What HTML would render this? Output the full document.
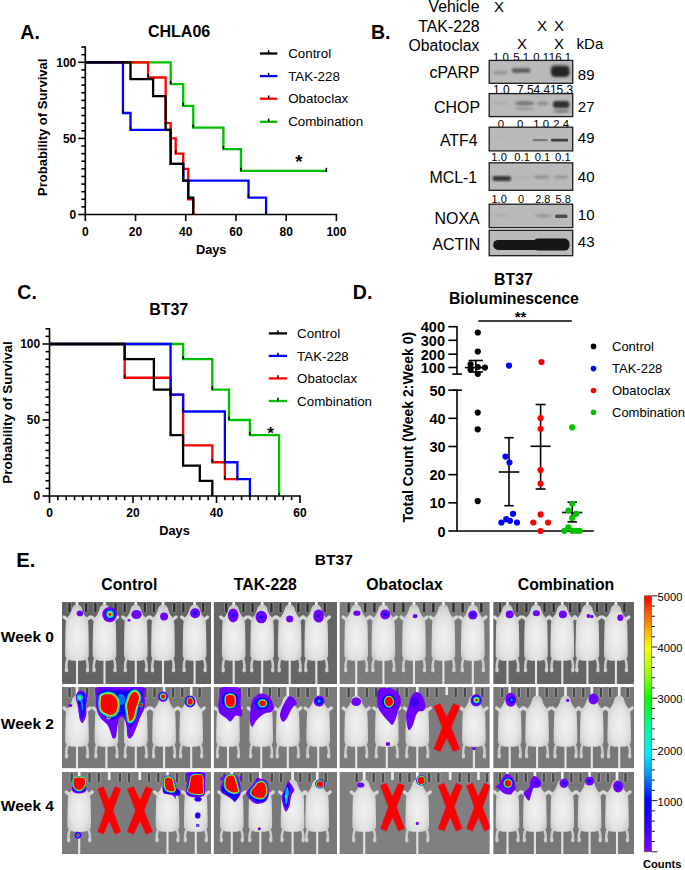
<!DOCTYPE html>
<html><head><meta charset="utf-8"><title>Figure</title>
<style>
html,body{margin:0;padding:0;background:#fff;}
body{width:685px;height:870px;overflow:hidden;}
svg{display:block;}
text{font-family:"Liberation Sans", sans-serif;fill:#000;}
</style></head><body>
<svg width="685" height="870" viewBox="0 0 685 870">
<rect width="685" height="870" fill="#fff"/>
<text x="20.3" y="38.9" font-size="19.5" font-weight="bold">A.</text>
<text x="179.1" y="36.5" font-size="16" font-weight="bold" text-anchor="middle">CHLA06</text>
<line x1="85.3" y1="46.28" x2="85.3" y2="215.3" stroke="#000" stroke-width="1.6"/>
<line x1="78.3" y1="214.5" x2="85.3" y2="214.5" stroke="#000" stroke-width="1.6"/>
<line x1="81.3" y1="206.89" x2="85.3" y2="206.89" stroke="#000" stroke-width="1.6"/>
<line x1="81.3" y1="199.28" x2="85.3" y2="199.28" stroke="#000" stroke-width="1.6"/>
<line x1="81.3" y1="191.67" x2="85.3" y2="191.67" stroke="#000" stroke-width="1.6"/>
<line x1="81.3" y1="184.06" x2="85.3" y2="184.06" stroke="#000" stroke-width="1.6"/>
<line x1="81.3" y1="176.45" x2="85.3" y2="176.45" stroke="#000" stroke-width="1.6"/>
<line x1="81.3" y1="168.84" x2="85.3" y2="168.84" stroke="#000" stroke-width="1.6"/>
<line x1="81.3" y1="161.23" x2="85.3" y2="161.23" stroke="#000" stroke-width="1.6"/>
<line x1="81.3" y1="153.62" x2="85.3" y2="153.62" stroke="#000" stroke-width="1.6"/>
<line x1="81.3" y1="146.01" x2="85.3" y2="146.01" stroke="#000" stroke-width="1.6"/>
<line x1="78.3" y1="138.4" x2="85.3" y2="138.4" stroke="#000" stroke-width="1.6"/>
<line x1="81.3" y1="130.79" x2="85.3" y2="130.79" stroke="#000" stroke-width="1.6"/>
<line x1="81.3" y1="123.18" x2="85.3" y2="123.18" stroke="#000" stroke-width="1.6"/>
<line x1="81.3" y1="115.57" x2="85.3" y2="115.57" stroke="#000" stroke-width="1.6"/>
<line x1="81.3" y1="107.96" x2="85.3" y2="107.96" stroke="#000" stroke-width="1.6"/>
<line x1="81.3" y1="100.35" x2="85.3" y2="100.35" stroke="#000" stroke-width="1.6"/>
<line x1="81.3" y1="92.74" x2="85.3" y2="92.74" stroke="#000" stroke-width="1.6"/>
<line x1="81.3" y1="85.13" x2="85.3" y2="85.13" stroke="#000" stroke-width="1.6"/>
<line x1="81.3" y1="77.52" x2="85.3" y2="77.52" stroke="#000" stroke-width="1.6"/>
<line x1="81.3" y1="69.91" x2="85.3" y2="69.91" stroke="#000" stroke-width="1.6"/>
<line x1="78.3" y1="62.3" x2="85.3" y2="62.3" stroke="#000" stroke-width="1.6"/>
<line x1="81.3" y1="54.69" x2="85.3" y2="54.69" stroke="#000" stroke-width="1.6"/>
<line x1="81.3" y1="47.08" x2="85.3" y2="47.08" stroke="#000" stroke-width="1.6"/>
<text x="76.3" y="218.8" font-size="12" font-weight="bold" text-anchor="end">0</text>
<text x="76.3" y="142.7" font-size="12" font-weight="bold" text-anchor="end">50</text>
<text x="76.3" y="66.6" font-size="12" font-weight="bold" text-anchor="end">100</text>
<line x1="84.5" y1="214.5" x2="337.2" y2="214.5" stroke="#000" stroke-width="1.6"/>
<line x1="85.3" y1="214.5" x2="85.3" y2="221" stroke="#000" stroke-width="1.6"/>
<text x="85.3" y="235.5" font-size="12" font-weight="bold" text-anchor="middle">0</text>
<line x1="135.52" y1="214.5" x2="135.52" y2="221" stroke="#000" stroke-width="1.6"/>
<text x="135.52" y="235.5" font-size="12" font-weight="bold" text-anchor="middle">20</text>
<line x1="185.74" y1="214.5" x2="185.74" y2="221" stroke="#000" stroke-width="1.6"/>
<text x="185.74" y="235.5" font-size="12" font-weight="bold" text-anchor="middle">40</text>
<line x1="235.96" y1="214.5" x2="235.96" y2="221" stroke="#000" stroke-width="1.6"/>
<text x="235.96" y="235.5" font-size="12" font-weight="bold" text-anchor="middle">60</text>
<line x1="286.18" y1="214.5" x2="286.18" y2="221" stroke="#000" stroke-width="1.6"/>
<text x="286.18" y="235.5" font-size="12" font-weight="bold" text-anchor="middle">80</text>
<line x1="336.4" y1="214.5" x2="336.4" y2="221" stroke="#000" stroke-width="1.6"/>
<text x="336.4" y="235.5" font-size="12" font-weight="bold" text-anchor="middle">100</text>
<text x="211.2" y="254.4" font-size="12.8" font-weight="bold" text-anchor="middle">Days</text>
<text transform="translate(46.9,127.3) rotate(-90)" font-size="13" font-weight="bold" text-anchor="middle">Probability of Survival</text>
<path d="M85.3 62.3 H170.67 V84.06 H183.23 V105.83 H193.27 V127.59 H223.41 V149.21 H240.98 V170.97 H326.36" fill="none" stroke="#00bf00" stroke-width="2.3" stroke-linejoin="miter" stroke-linecap="butt"/>
<path d="M85.3 62.3 H148.07 V77.52 H165.65 V123.18 H170.67 V138.4 H175.7 V153.62 H183.23 V168.84 H188.25 V199.28 H193.27 V214.5" fill="none" stroke="#ff0000" stroke-width="2.3" stroke-linejoin="miter" stroke-linecap="butt"/>
<path d="M85.3 62.3 H122.97 V112.98 H130.5 V129.88 H170.67 V163.82 H183.23 V180.71 H248.51 V197.61 H266.09 V214.5" fill="none" stroke="#0000ff" stroke-width="2.3" stroke-linejoin="miter" stroke-linecap="butt"/>
<path d="M85.3 62.3 H130.5 V79.19 H153.1 V96.09 H165.65 V129.88 H170.67 V163.82 H183.23 V180.71 H188.25 V197.61 H193.27 V214.5" fill="none" stroke="#000000" stroke-width="2.3" stroke-linejoin="miter" stroke-linecap="butt"/>
<line x1="170.67" y1="84.06" x2="170.67" y2="80.86" stroke="#000" stroke-width="1.5"/>
<line x1="183.23" y1="105.83" x2="183.23" y2="102.63" stroke="#000" stroke-width="1.5"/>
<line x1="193.27" y1="127.59" x2="193.27" y2="124.39" stroke="#000" stroke-width="1.5"/>
<line x1="223.41" y1="149.21" x2="223.41" y2="146.01" stroke="#000" stroke-width="1.5"/>
<line x1="240.98" y1="170.97" x2="240.98" y2="167.77" stroke="#000" stroke-width="1.5"/>
<line x1="326.36" y1="171.97" x2="326.36" y2="167.77" stroke="#000" stroke-width="1.5"/>
<line x1="148.07" y1="77.52" x2="148.07" y2="74.32" stroke="#000" stroke-width="1.5"/>
<line x1="165.65" y1="123.18" x2="165.65" y2="119.98" stroke="#000" stroke-width="1.5"/>
<line x1="170.67" y1="138.4" x2="170.67" y2="135.2" stroke="#000" stroke-width="1.5"/>
<line x1="175.7" y1="153.62" x2="175.7" y2="150.42" stroke="#000" stroke-width="1.5"/>
<line x1="183.23" y1="168.84" x2="183.23" y2="165.64" stroke="#000" stroke-width="1.5"/>
<line x1="188.25" y1="199.28" x2="188.25" y2="196.08" stroke="#000" stroke-width="1.5"/>
<line x1="193.27" y1="214.5" x2="193.27" y2="211.3" stroke="#000" stroke-width="1.5"/>
<line x1="122.97" y1="112.98" x2="122.97" y2="109.78" stroke="#000" stroke-width="1.5"/>
<line x1="130.5" y1="129.88" x2="130.5" y2="126.68" stroke="#000" stroke-width="1.5"/>
<line x1="170.67" y1="163.82" x2="170.67" y2="160.62" stroke="#000" stroke-width="1.5"/>
<line x1="183.23" y1="180.71" x2="183.23" y2="177.51" stroke="#000" stroke-width="1.5"/>
<line x1="248.51" y1="197.61" x2="248.51" y2="194.41" stroke="#000" stroke-width="1.5"/>
<line x1="266.09" y1="214.5" x2="266.09" y2="211.3" stroke="#000" stroke-width="1.5"/>
<line x1="130.5" y1="79.19" x2="130.5" y2="75.99" stroke="#000" stroke-width="1.5"/>
<line x1="153.1" y1="96.09" x2="153.1" y2="92.89" stroke="#000" stroke-width="1.5"/>
<line x1="165.65" y1="129.88" x2="165.65" y2="126.68" stroke="#000" stroke-width="1.5"/>
<line x1="170.67" y1="163.82" x2="170.67" y2="160.62" stroke="#000" stroke-width="1.5"/>
<line x1="183.23" y1="180.71" x2="183.23" y2="177.51" stroke="#000" stroke-width="1.5"/>
<line x1="188.25" y1="197.61" x2="188.25" y2="194.41" stroke="#000" stroke-width="1.5"/>
<line x1="193.27" y1="214.5" x2="193.27" y2="211.3" stroke="#000" stroke-width="1.5"/>
<text x="298.9" y="167.6" font-size="18.5" font-weight="bold" text-anchor="middle">*</text>
<line x1="259.9" y1="53.5" x2="277.4" y2="53.5" stroke="#000000" stroke-width="2.3"/>
<line x1="268.65" y1="53.5" x2="268.65" y2="50.3" stroke="#000" stroke-width="1.5"/>
<text x="288.2" y="58.1" font-size="13.35">Control</text>
<line x1="259.9" y1="76.1" x2="277.4" y2="76.1" stroke="#0000ff" stroke-width="2.3"/>
<line x1="268.65" y1="76.1" x2="268.65" y2="72.9" stroke="#000" stroke-width="1.5"/>
<text x="288.2" y="80.7" font-size="13.35">TAK-228</text>
<line x1="259.9" y1="98.7" x2="277.4" y2="98.7" stroke="#ff0000" stroke-width="2.3"/>
<line x1="268.65" y1="98.7" x2="268.65" y2="95.5" stroke="#000" stroke-width="1.5"/>
<text x="288.2" y="103.3" font-size="13.35">Obatoclax</text>
<line x1="259.9" y1="121.8" x2="277.4" y2="121.8" stroke="#00bf00" stroke-width="2.3"/>
<line x1="268.65" y1="121.8" x2="268.65" y2="118.6" stroke="#000" stroke-width="1.5"/>
<text x="288.2" y="126.4" font-size="13.35">Combination</text>
<text x="17.3" y="299" font-size="19.5" font-weight="bold">C.</text>
<text x="168.7" y="315" font-size="16" font-weight="bold" text-anchor="middle">BT37</text>
<line x1="49.5" y1="328" x2="49.5" y2="496.8" stroke="#000" stroke-width="1.6"/>
<line x1="42.5" y1="496" x2="49.5" y2="496" stroke="#000" stroke-width="1.6"/>
<line x1="45.5" y1="488.4" x2="49.5" y2="488.4" stroke="#000" stroke-width="1.6"/>
<line x1="45.5" y1="480.8" x2="49.5" y2="480.8" stroke="#000" stroke-width="1.6"/>
<line x1="45.5" y1="473.2" x2="49.5" y2="473.2" stroke="#000" stroke-width="1.6"/>
<line x1="45.5" y1="465.6" x2="49.5" y2="465.6" stroke="#000" stroke-width="1.6"/>
<line x1="45.5" y1="458" x2="49.5" y2="458" stroke="#000" stroke-width="1.6"/>
<line x1="45.5" y1="450.4" x2="49.5" y2="450.4" stroke="#000" stroke-width="1.6"/>
<line x1="45.5" y1="442.8" x2="49.5" y2="442.8" stroke="#000" stroke-width="1.6"/>
<line x1="45.5" y1="435.2" x2="49.5" y2="435.2" stroke="#000" stroke-width="1.6"/>
<line x1="45.5" y1="427.6" x2="49.5" y2="427.6" stroke="#000" stroke-width="1.6"/>
<line x1="42.5" y1="420" x2="49.5" y2="420" stroke="#000" stroke-width="1.6"/>
<line x1="45.5" y1="412.4" x2="49.5" y2="412.4" stroke="#000" stroke-width="1.6"/>
<line x1="45.5" y1="404.8" x2="49.5" y2="404.8" stroke="#000" stroke-width="1.6"/>
<line x1="45.5" y1="397.2" x2="49.5" y2="397.2" stroke="#000" stroke-width="1.6"/>
<line x1="45.5" y1="389.6" x2="49.5" y2="389.6" stroke="#000" stroke-width="1.6"/>
<line x1="45.5" y1="382" x2="49.5" y2="382" stroke="#000" stroke-width="1.6"/>
<line x1="45.5" y1="374.4" x2="49.5" y2="374.4" stroke="#000" stroke-width="1.6"/>
<line x1="45.5" y1="366.8" x2="49.5" y2="366.8" stroke="#000" stroke-width="1.6"/>
<line x1="45.5" y1="359.2" x2="49.5" y2="359.2" stroke="#000" stroke-width="1.6"/>
<line x1="45.5" y1="351.6" x2="49.5" y2="351.6" stroke="#000" stroke-width="1.6"/>
<line x1="42.5" y1="344" x2="49.5" y2="344" stroke="#000" stroke-width="1.6"/>
<line x1="45.5" y1="336.4" x2="49.5" y2="336.4" stroke="#000" stroke-width="1.6"/>
<line x1="45.5" y1="328.8" x2="49.5" y2="328.8" stroke="#000" stroke-width="1.6"/>
<text x="40.2" y="500.3" font-size="12" font-weight="bold" text-anchor="end">0</text>
<text x="40.2" y="424.3" font-size="12" font-weight="bold" text-anchor="end">50</text>
<text x="40.2" y="348.3" font-size="12" font-weight="bold" text-anchor="end">100</text>
<line x1="48.7" y1="496" x2="300.8" y2="496" stroke="#000" stroke-width="1.6"/>
<line x1="49.5" y1="496" x2="49.5" y2="503" stroke="#000" stroke-width="1.6"/>
<line x1="57.85" y1="496" x2="57.85" y2="500.2" stroke="#000" stroke-width="1.6"/>
<line x1="66.2" y1="496" x2="66.2" y2="500.2" stroke="#000" stroke-width="1.6"/>
<line x1="74.55" y1="496" x2="74.55" y2="500.2" stroke="#000" stroke-width="1.6"/>
<line x1="82.9" y1="496" x2="82.9" y2="500.2" stroke="#000" stroke-width="1.6"/>
<line x1="91.25" y1="496" x2="91.25" y2="500.2" stroke="#000" stroke-width="1.6"/>
<line x1="99.6" y1="496" x2="99.6" y2="500.2" stroke="#000" stroke-width="1.6"/>
<line x1="107.95" y1="496" x2="107.95" y2="500.2" stroke="#000" stroke-width="1.6"/>
<line x1="116.3" y1="496" x2="116.3" y2="500.2" stroke="#000" stroke-width="1.6"/>
<line x1="124.65" y1="496" x2="124.65" y2="500.2" stroke="#000" stroke-width="1.6"/>
<line x1="133" y1="496" x2="133" y2="503" stroke="#000" stroke-width="1.6"/>
<line x1="141.35" y1="496" x2="141.35" y2="500.2" stroke="#000" stroke-width="1.6"/>
<line x1="149.7" y1="496" x2="149.7" y2="500.2" stroke="#000" stroke-width="1.6"/>
<line x1="158.05" y1="496" x2="158.05" y2="500.2" stroke="#000" stroke-width="1.6"/>
<line x1="166.4" y1="496" x2="166.4" y2="500.2" stroke="#000" stroke-width="1.6"/>
<line x1="174.75" y1="496" x2="174.75" y2="500.2" stroke="#000" stroke-width="1.6"/>
<line x1="183.1" y1="496" x2="183.1" y2="500.2" stroke="#000" stroke-width="1.6"/>
<line x1="191.45" y1="496" x2="191.45" y2="500.2" stroke="#000" stroke-width="1.6"/>
<line x1="199.8" y1="496" x2="199.8" y2="500.2" stroke="#000" stroke-width="1.6"/>
<line x1="208.15" y1="496" x2="208.15" y2="500.2" stroke="#000" stroke-width="1.6"/>
<line x1="216.5" y1="496" x2="216.5" y2="503" stroke="#000" stroke-width="1.6"/>
<line x1="224.85" y1="496" x2="224.85" y2="500.2" stroke="#000" stroke-width="1.6"/>
<line x1="233.2" y1="496" x2="233.2" y2="500.2" stroke="#000" stroke-width="1.6"/>
<line x1="241.55" y1="496" x2="241.55" y2="500.2" stroke="#000" stroke-width="1.6"/>
<line x1="249.9" y1="496" x2="249.9" y2="500.2" stroke="#000" stroke-width="1.6"/>
<line x1="258.25" y1="496" x2="258.25" y2="500.2" stroke="#000" stroke-width="1.6"/>
<line x1="266.6" y1="496" x2="266.6" y2="500.2" stroke="#000" stroke-width="1.6"/>
<line x1="274.95" y1="496" x2="274.95" y2="500.2" stroke="#000" stroke-width="1.6"/>
<line x1="283.3" y1="496" x2="283.3" y2="500.2" stroke="#000" stroke-width="1.6"/>
<line x1="291.65" y1="496" x2="291.65" y2="500.2" stroke="#000" stroke-width="1.6"/>
<line x1="300" y1="496" x2="300" y2="503" stroke="#000" stroke-width="1.6"/>
<text x="49.5" y="517.4" font-size="12" font-weight="bold" text-anchor="middle">0</text>
<text x="133" y="517.4" font-size="12" font-weight="bold" text-anchor="middle">20</text>
<text x="216.5" y="517.4" font-size="12" font-weight="bold" text-anchor="middle">40</text>
<text x="300" y="517.4" font-size="12" font-weight="bold" text-anchor="middle">60</text>
<text x="174.5" y="535" font-size="12.8" font-weight="bold" text-anchor="middle">Days</text>
<text transform="translate(12.3,412.5) rotate(-90)" font-size="13.5" font-weight="bold" text-anchor="middle">Probability of Survival</text>
<path d="M49.5 344 H183.1 V359.2 H212.32 V389.6 H229.03 V420 H249.9 V435.2 H279.12 V496" fill="none" stroke="#00bf00" stroke-width="2.3" stroke-linejoin="miter" stroke-linecap="butt"/>
<path d="M49.5 344 H124.65 V377.74 H170.57 V394.62 H183.1 V445.38 H212.32 V462.26 H224.85 V479.13 H237.38" fill="none" stroke="#ff0000" stroke-width="2.3" stroke-linejoin="miter" stroke-linecap="butt"/>
<path d="M49.5 344 H170.57 V394.62 H183.1 V411.49 H224.85 V462.26 H237.38 V479.13 H249.9 V496" fill="none" stroke="#0000ff" stroke-width="2.3" stroke-linejoin="miter" stroke-linecap="butt"/>
<path d="M49.5 344 H124.65 V359.2 H153.88 V389.6 H170.57 V435.2 H183.1 V465.6 H199.8 V480.8 H212.32 V496" fill="none" stroke="#000000" stroke-width="2.3" stroke-linejoin="miter" stroke-linecap="butt"/>
<line x1="183.1" y1="359.2" x2="183.1" y2="356" stroke="#000" stroke-width="1.5"/>
<line x1="212.32" y1="389.6" x2="212.32" y2="386.4" stroke="#000" stroke-width="1.5"/>
<line x1="229.03" y1="420" x2="229.03" y2="416.8" stroke="#000" stroke-width="1.5"/>
<line x1="249.9" y1="435.2" x2="249.9" y2="432" stroke="#000" stroke-width="1.5"/>
<line x1="279.12" y1="496" x2="279.12" y2="492.8" stroke="#000" stroke-width="1.5"/>
<line x1="124.65" y1="377.74" x2="124.65" y2="374.54" stroke="#000" stroke-width="1.5"/>
<line x1="170.57" y1="394.62" x2="170.57" y2="391.42" stroke="#000" stroke-width="1.5"/>
<line x1="183.1" y1="445.38" x2="183.1" y2="442.18" stroke="#000" stroke-width="1.5"/>
<line x1="212.32" y1="462.26" x2="212.32" y2="459.06" stroke="#000" stroke-width="1.5"/>
<line x1="224.85" y1="479.13" x2="224.85" y2="475.93" stroke="#000" stroke-width="1.5"/>
<line x1="237.38" y1="480.13" x2="237.38" y2="475.93" stroke="#000" stroke-width="1.5"/>
<line x1="170.57" y1="394.62" x2="170.57" y2="391.42" stroke="#000" stroke-width="1.5"/>
<line x1="183.1" y1="411.49" x2="183.1" y2="408.29" stroke="#000" stroke-width="1.5"/>
<line x1="224.85" y1="462.26" x2="224.85" y2="459.06" stroke="#000" stroke-width="1.5"/>
<line x1="237.38" y1="479.13" x2="237.38" y2="475.93" stroke="#000" stroke-width="1.5"/>
<line x1="249.9" y1="496" x2="249.9" y2="492.8" stroke="#000" stroke-width="1.5"/>
<line x1="124.65" y1="359.2" x2="124.65" y2="356" stroke="#000" stroke-width="1.5"/>
<line x1="153.88" y1="389.6" x2="153.88" y2="386.4" stroke="#000" stroke-width="1.5"/>
<line x1="170.57" y1="435.2" x2="170.57" y2="432" stroke="#000" stroke-width="1.5"/>
<line x1="183.1" y1="465.6" x2="183.1" y2="462.4" stroke="#000" stroke-width="1.5"/>
<line x1="199.8" y1="480.8" x2="199.8" y2="477.6" stroke="#000" stroke-width="1.5"/>
<line x1="212.32" y1="496" x2="212.32" y2="492.8" stroke="#000" stroke-width="1.5"/>
<text x="270.5" y="439" font-size="17" font-weight="bold" text-anchor="middle">*</text>
<line x1="268.8" y1="333.4" x2="287" y2="333.4" stroke="#000000" stroke-width="2.3"/>
<line x1="277.9" y1="333.4" x2="277.9" y2="330.2" stroke="#000" stroke-width="1.5"/>
<text x="297.1" y="338" font-size="13.35">Control</text>
<line x1="268.8" y1="355.9" x2="287" y2="355.9" stroke="#0000ff" stroke-width="2.3"/>
<line x1="277.9" y1="355.9" x2="277.9" y2="352.7" stroke="#000" stroke-width="1.5"/>
<text x="297.1" y="360.5" font-size="13.35">TAK-228</text>
<line x1="268.8" y1="378.4" x2="287" y2="378.4" stroke="#ff0000" stroke-width="2.3"/>
<line x1="277.9" y1="378.4" x2="277.9" y2="375.2" stroke="#000" stroke-width="1.5"/>
<text x="297.1" y="383" font-size="13.35">Obatoclax</text>
<line x1="268.8" y1="401" x2="287" y2="401" stroke="#00bf00" stroke-width="2.3"/>
<line x1="277.9" y1="401" x2="277.9" y2="397.8" stroke="#000" stroke-width="1.5"/>
<text x="297.1" y="405.6" font-size="13.35">Combination</text>
<defs><filter id="bb3" x="-50%" y="-100%" width="200%" height="300%"><feGaussianBlur stdDeviation="1.8"/></filter><filter id="bb1" x="-30%" y="-100%" width="160%" height="300%"><feGaussianBlur stdDeviation="1.1"/></filter><filter id="bb2" x="-30%" y="-100%" width="160%" height="300%"><feGaussianBlur stdDeviation="0.7"/></filter></defs>
<text x="371" y="39" font-size="19.5" font-weight="bold">B.</text>
<text x="479.5" y="11.9" font-size="15.8" text-anchor="end">Vehicle</text>
<text x="479.5" y="31.5" font-size="15.8" text-anchor="end">TAK-228</text>
<text x="479.5" y="50.9" font-size="15.8" text-anchor="end">Obatoclax</text>
<text x="499.1" y="11.8" font-size="15" text-anchor="middle">X</text>
<text x="542" y="31.3" font-size="15" text-anchor="middle">X</text>
<text x="559" y="31.3" font-size="15" text-anchor="middle">X</text>
<text x="522" y="49.3" font-size="15" text-anchor="middle">X</text>
<text x="559" y="49.3" font-size="15" text-anchor="middle">X</text>
<text x="576.6" y="49.3" font-size="15">kDa</text>
<text x="500.85" y="61" font-size="11.4" text-anchor="middle">1.0</text>
<text x="521.15" y="61" font-size="11.4" text-anchor="middle">5.1</text>
<text x="541.2" y="61" font-size="11.4" text-anchor="middle">0.1</text>
<text x="559.9" y="61" font-size="11.4" text-anchor="middle">16.1</text>
<text x="501.45" y="94.4" font-size="12" text-anchor="middle">1.0</text>
<text x="525.45" y="94.4" font-size="12" text-anchor="middle">7.5</text>
<text x="541.9" y="94.4" font-size="12" text-anchor="middle">4.4</text>
<text x="561.6" y="94.4" font-size="12" text-anchor="middle">15.3</text>
<text x="500.85" y="127.6" font-size="11.4" text-anchor="middle">0</text>
<text x="520.05" y="127.6" font-size="11.4" text-anchor="middle">0</text>
<text x="541.2" y="127.6" font-size="11.4" text-anchor="middle">1.0</text>
<text x="561.25" y="127.6" font-size="11.4" text-anchor="middle">2.4</text>
<text x="499.15" y="161.4" font-size="11.2" text-anchor="middle">1.0</text>
<text x="522.15" y="161.4" font-size="11.2" text-anchor="middle">0.1</text>
<text x="542.55" y="161.4" font-size="11.2" text-anchor="middle">0.1</text>
<text x="562.9" y="161.4" font-size="11.2" text-anchor="middle">0.1</text>
<text x="499.15" y="202.7" font-size="11" text-anchor="middle">1.0</text>
<text x="521.15" y="202.7" font-size="11" text-anchor="middle">0</text>
<text x="542.85" y="202.7" font-size="11" text-anchor="middle">2.8</text>
<text x="563.15" y="202.7" font-size="11" text-anchor="middle">5.8</text>
<rect x="489.2" y="60.4" width="83.5" height="22.9" fill="#bababa" stroke="#1a1a1a" stroke-width="1.3"/>
<text x="479.6" y="78.4" font-size="15.9" text-anchor="end">cPARP</text>
<text x="577.8" y="79.7" font-size="15">89</text>
<rect x="489.2" y="93.6" width="83.5" height="23" fill="#bababa" stroke="#1a1a1a" stroke-width="1.3"/>
<text x="480" y="112.8" font-size="15.9" text-anchor="end">CHOP</text>
<text x="577.8" y="112" font-size="15">27</text>
<rect x="489.2" y="127.2" width="83.5" height="23.7" fill="#bababa" stroke="#1a1a1a" stroke-width="1.3"/>
<text x="477.6" y="145.8" font-size="15.9" text-anchor="end">ATF4</text>
<text x="577.8" y="143.4" font-size="15">49</text>
<rect x="489.2" y="162.8" width="83.5" height="27.5" fill="#bababa" stroke="#1a1a1a" stroke-width="1.3"/>
<text x="477.2" y="183" font-size="15.9" text-anchor="end">MCL-1</text>
<text x="577.8" y="182.2" font-size="15">40</text>
<rect x="489.2" y="204.2" width="83.5" height="23.4" fill="#bababa" stroke="#1a1a1a" stroke-width="1.3"/>
<text x="479.6" y="223.6" font-size="15.9" text-anchor="end">NOXA</text>
<text x="577.8" y="220" font-size="15">10</text>
<rect x="489.2" y="230.3" width="83.5" height="25.4" fill="#bababa" stroke="#1a1a1a" stroke-width="1.3"/>
<text x="480.2" y="250.3" font-size="15.9" text-anchor="end">ACTIN</text>
<text x="577.8" y="247" font-size="15">43</text>
<ellipse cx="500.45" cy="72.5" rx="7.85" ry="2" fill="rgb(150,150,150)" opacity="1" filter="url(#bb1)"/>
<rect x="511.8" y="68.15" width="18.7" height="4.5" rx="2" fill="rgb(90,90,90)" filter="url(#bb1)"/>
<rect x="551" y="65.5" width="18.5" height="11" rx="4" fill="rgb(40,40,40)" filter="url(#bb3)"/>
<rect x="552.5" y="69" width="15.5" height="7" rx="3" fill="rgb(35,35,35)" filter="url(#bb1)"/>
<ellipse cx="501.25" cy="103.3" rx="8.75" ry="1.75" fill="rgb(175,175,175)" opacity="1" filter="url(#bb1)"/>
<ellipse cx="524.4" cy="103.3" rx="10.2" ry="2.25" fill="rgb(120,120,120)" opacity="1" filter="url(#bb1)"/>
<ellipse cx="524.4" cy="108.8" rx="10.2" ry="1.5" fill="rgb(150,150,150)" opacity="1" filter="url(#bb1)"/>
<ellipse cx="542.55" cy="103.5" rx="5.95" ry="2" fill="rgb(140,140,140)" opacity="1" filter="url(#bb1)"/>
<rect x="553" y="101.1" width="16.4" height="7" rx="3" fill="rgb(45,45,45)" filter="url(#bb1)"/>
<ellipse cx="561.2" cy="111" rx="8.2" ry="2" fill="rgb(130,130,130)" opacity="1" filter="url(#bb1)"/>
<ellipse cx="498.8" cy="138.5" rx="6.2" ry="1.5" fill="rgb(180,180,180)" opacity="1" filter="url(#bb1)"/>
<rect x="532.6" y="139" width="15.2" height="2.2" rx="1" fill="rgb(120,120,120)" filter="url(#bb2)"/>
<rect x="551" y="138.7" width="17.1" height="2.8" rx="1" fill="rgb(60,60,60)" filter="url(#bb2)"/>
<rect x="492.6" y="175.9" width="18.4" height="5" rx="2" fill="rgb(55,55,55)" filter="url(#bb1)"/>
<ellipse cx="521.5" cy="177.6" rx="7.9" ry="1.25" fill="rgb(170,170,170)" opacity="1" filter="url(#bb1)"/>
<ellipse cx="541.85" cy="177.1" rx="8.55" ry="1.75" fill="rgb(145,145,145)" opacity="1" filter="url(#bb1)"/>
<ellipse cx="561.25" cy="177.1" rx="7.55" ry="1.75" fill="rgb(150,150,150)" opacity="1" filter="url(#bb1)"/>
<ellipse cx="501" cy="215.6" rx="9" ry="1.5" fill="rgb(175,175,175)" opacity="1" filter="url(#bb1)"/>
<ellipse cx="543.15" cy="215.8" rx="8.55" ry="1.75" fill="rgb(150,150,150)" opacity="1" filter="url(#bb1)"/>
<rect x="555" y="214.55" width="12.5" height="3.5" rx="1.5" fill="rgb(75,75,75)" filter="url(#bb2)"/>
<rect x="493.2" y="239.9" width="76.2" height="10" rx="5" fill="rgb(22,22,22)" filter="url(#bb2)"/>
<rect x="533" y="238.6" width="36.4" height="12" rx="5" fill="rgb(22,22,22)" filter="url(#bb2)"/>
<text x="352.8" y="299" font-size="19.5" font-weight="bold">D.</text>
<text x="513.4" y="285.1" font-size="15.8" font-weight="bold" text-anchor="middle">BT37</text>
<text x="513.9" y="304.3" font-size="15.8" font-weight="bold" text-anchor="middle">Bioluminescence</text>
<text x="520.6" y="322.4" font-size="15" font-weight="bold" text-anchor="middle">**</text>
<line x1="478.3" y1="321" x2="571.8" y2="321" stroke="#000" stroke-width="1.6"/>
<line x1="457" y1="326" x2="457" y2="374.1" stroke="#000" stroke-width="1.6"/>
<line x1="448.3" y1="326.7" x2="457" y2="326.7" stroke="#000" stroke-width="1.6"/>
<text x="445" y="332.3" font-size="14.5" font-weight="bold" text-anchor="end">400</text>
<line x1="448.3" y1="340.3" x2="457" y2="340.3" stroke="#000" stroke-width="1.6"/>
<text x="445" y="345.9" font-size="14.5" font-weight="bold" text-anchor="end">300</text>
<line x1="448.3" y1="354.2" x2="457" y2="354.2" stroke="#000" stroke-width="1.6"/>
<text x="445" y="359.8" font-size="14.5" font-weight="bold" text-anchor="end">200</text>
<line x1="448.3" y1="367.5" x2="457" y2="367.5" stroke="#000" stroke-width="1.6"/>
<text x="445" y="373.1" font-size="14.5" font-weight="bold" text-anchor="end">100</text>
<line x1="452.3" y1="374.1" x2="461.9" y2="374.1" stroke="#000" stroke-width="1.6"/>
<line x1="457" y1="389.4" x2="457" y2="531" stroke="#000" stroke-width="1.6"/>
<line x1="452.3" y1="390.2" x2="461.9" y2="390.2" stroke="#000" stroke-width="1.6"/>
<line x1="448.3" y1="531" x2="457" y2="531" stroke="#000" stroke-width="1.6"/>
<text x="445.6" y="536.6" font-size="14.5" font-weight="bold" text-anchor="end">0</text>
<line x1="448.3" y1="502.83" x2="457" y2="502.83" stroke="#000" stroke-width="1.6"/>
<text x="445.6" y="508.43" font-size="14.5" font-weight="bold" text-anchor="end">10</text>
<line x1="448.3" y1="474.66" x2="457" y2="474.66" stroke="#000" stroke-width="1.6"/>
<text x="445.6" y="480.26" font-size="14.5" font-weight="bold" text-anchor="end">20</text>
<line x1="448.3" y1="446.49" x2="457" y2="446.49" stroke="#000" stroke-width="1.6"/>
<text x="445.6" y="452.09" font-size="14.5" font-weight="bold" text-anchor="end">30</text>
<line x1="448.3" y1="418.32" x2="457" y2="418.32" stroke="#000" stroke-width="1.6"/>
<text x="445.6" y="423.92" font-size="14.5" font-weight="bold" text-anchor="end">40</text>
<line x1="448.3" y1="390.15" x2="457" y2="390.15" stroke="#000" stroke-width="1.6"/>
<text x="445.6" y="395.75" font-size="14.5" font-weight="bold" text-anchor="end">50</text>
<line x1="456.2" y1="531" x2="593.8" y2="531" stroke="#000" stroke-width="1.6"/>
<text transform="translate(413.0,427.2) rotate(-90)" font-size="14" font-weight="bold" text-anchor="middle">Total Count (Week 2:Week 0)</text>
<circle cx="477.8" cy="332.5" r="3.1" fill="#000"/>
<circle cx="477.8" cy="351.5" r="3.1" fill="#000"/>
<circle cx="470.6" cy="364.4" r="3.1" fill="#000"/>
<circle cx="470.6" cy="369.6" r="3.1" fill="#000"/>
<circle cx="484.9" cy="367.6" r="3.1" fill="#000"/>
<circle cx="477.8" cy="367" r="3.1" fill="#000"/>
<circle cx="477.8" cy="373.8" r="3.1" fill="#000"/>
<circle cx="477.7" cy="412.6" r="3.1" fill="#000"/>
<circle cx="477.7" cy="429.3" r="3.1" fill="#000"/>
<circle cx="477.7" cy="501.1" r="3.1" fill="#000"/>
<line x1="475.8" y1="360.5" x2="475.8" y2="372" stroke="#000" stroke-width="1.6"/>
<line x1="468.65" y1="360.5" x2="482.95" y2="360.5" stroke="#000" stroke-width="1.6"/>
<line x1="468.65" y1="372" x2="482.95" y2="372" stroke="#000" stroke-width="1.6"/>
<line x1="464.8" y1="367.6" x2="486.8" y2="367.6" stroke="#000" stroke-width="1.6"/>
<line x1="509" y1="437.7" x2="509" y2="505.7" stroke="#000" stroke-width="1.6"/>
<line x1="504.3" y1="437.7" x2="513.7" y2="437.7" stroke="#000" stroke-width="1.6"/>
<line x1="504.3" y1="505.7" x2="513.7" y2="505.7" stroke="#000" stroke-width="1.6"/>
<line x1="498.75" y1="472" x2="519.25" y2="472" stroke="#000" stroke-width="1.6"/>
<circle cx="509" cy="365.6" r="3.1" fill="#0000ff"/>
<circle cx="505.5" cy="456.6" r="3.1" fill="#0000ff"/>
<circle cx="509.5" cy="462.5" r="3.1" fill="#0000ff"/>
<circle cx="513" cy="513.8" r="3.1" fill="#0000ff"/>
<circle cx="506.3" cy="519.2" r="3.1" fill="#0000ff"/>
<circle cx="501.4" cy="522.5" r="3.1" fill="#0000ff"/>
<circle cx="510" cy="520.8" r="3.1" fill="#0000ff"/>
<circle cx="517" cy="522.5" r="3.1" fill="#0000ff"/>
<line x1="540.6" y1="404.5" x2="540.6" y2="489" stroke="#000" stroke-width="1.6"/>
<line x1="535.6" y1="404.5" x2="545.6" y2="404.5" stroke="#000" stroke-width="1.6"/>
<line x1="535.6" y1="489" x2="545.6" y2="489" stroke="#000" stroke-width="1.6"/>
<line x1="530.5" y1="446.3" x2="550.7" y2="446.3" stroke="#000" stroke-width="1.6"/>
<circle cx="541.5" cy="362" r="3.1" fill="#ff0000"/>
<circle cx="540.6" cy="418" r="3.1" fill="#ff0000"/>
<circle cx="540.6" cy="428.8" r="3.1" fill="#ff0000"/>
<circle cx="540.6" cy="470" r="3.1" fill="#ff0000"/>
<circle cx="540.6" cy="483.6" r="3.1" fill="#ff0000"/>
<circle cx="540.6" cy="514.4" r="3.1" fill="#ff0000"/>
<circle cx="533.3" cy="522.5" r="3.1" fill="#ff0000"/>
<circle cx="548.1" cy="522.5" r="3.1" fill="#ff0000"/>
<circle cx="540.6" cy="531" r="3.1" fill="#ff0000"/>
<line x1="572.2" y1="502.2" x2="572.2" y2="521.9" stroke="#000" stroke-width="1.6"/>
<line x1="567.5" y1="502.2" x2="576.9" y2="502.2" stroke="#000" stroke-width="1.6"/>
<line x1="567.5" y1="521.9" x2="576.9" y2="521.9" stroke="#000" stroke-width="1.6"/>
<line x1="562.1" y1="512.5" x2="582.3" y2="512.5" stroke="#000" stroke-width="1.6"/>
<circle cx="572.2" cy="427.4" r="3.1" fill="#00c000"/>
<circle cx="572.2" cy="503.8" r="3.1" fill="#00c000"/>
<circle cx="568.4" cy="510.6" r="3.1" fill="#00c000"/>
<circle cx="576.2" cy="513.8" r="3.1" fill="#00c000"/>
<circle cx="572.2" cy="517.9" r="3.1" fill="#00c000"/>
<circle cx="568.4" cy="527.3" r="3.1" fill="#00c000"/>
<circle cx="564.3" cy="530.8" r="3.1" fill="#00c000"/>
<circle cx="572.2" cy="530.8" r="3.1" fill="#00c000"/>
<circle cx="576.2" cy="530.8" r="3.1" fill="#00c000"/>
<circle cx="579.7" cy="530.8" r="3.1" fill="#00c000"/>
<circle cx="593.5" cy="346.4" r="2.8" fill="#000"/>
<text x="612" y="350.8" font-size="13">Control</text>
<circle cx="593.5" cy="368.6" r="2.8" fill="#0000ff"/>
<text x="612" y="373" font-size="13">TAK-228</text>
<circle cx="593.5" cy="390.5" r="2.8" fill="#ff0000"/>
<text x="612" y="394.9" font-size="13">Obatoclax</text>
<circle cx="593.5" cy="412.3" r="2.8" fill="#00c000"/>
<text x="612" y="416.7" font-size="13">Combination</text>
<text x="16.2" y="566.8" font-size="20.3" font-weight="bold">E.</text>
<text x="333.8" y="565.1" font-size="15.5" font-weight="bold" text-anchor="middle">BT37</text>
<text x="129.3" y="589.7" font-size="15.8" font-weight="bold" text-anchor="middle">Control</text>
<text x="265.3" y="589.7" font-size="15.8" font-weight="bold" text-anchor="middle">TAK-228</text>
<text x="404.5" y="589.7" font-size="15.8" font-weight="bold" text-anchor="middle">Obatoclax</text>
<text x="566" y="589.7" font-size="15.8" font-weight="bold" text-anchor="middle">Combination</text>
<text x="0.8" y="642.2" font-size="15.5" font-weight="bold">Week 0</text>
<text x="0.8" y="728.6" font-size="15.5" font-weight="bold">Week 2</text>
<text x="0.8" y="810.7" font-size="15.5" font-weight="bold">Week 4</text>
<defs>
<filter id="soft" x="-20%" y="-20%" width="140%" height="140%"><feGaussianBlur stdDeviation="0.55"/></filter>
<filter id="soft2" x="-20%" y="-20%" width="140%" height="140%"><feGaussianBlur stdDeviation="0.9"/></filter>
<filter id="bsoft" filterUnits="userSpaceOnUse" x="0" y="540" width="685" height="330"><feGaussianBlur stdDeviation="0.45"/></filter>
<radialGradient id="mg" cx="50%" cy="58%" r="62%"><stop offset="0" stop-color="#f2f2f2"/><stop offset="0.6" stop-color="#e3e3e3"/><stop offset="1" stop-color="#c6c6c6"/></radialGradient>
</defs>
<rect x="62" y="602" width="149.1" height="82" fill="#636363"/>
<rect x="62" y="687" width="149.1" height="81.4" fill="#787878"/>
<rect x="62" y="772" width="149.1" height="82" fill="#7c7c7c"/>
<rect x="213.6" y="602" width="123.4" height="82" fill="#666666"/>
<rect x="213.6" y="687" width="123.4" height="81.4" fill="#7a7a7a"/>
<rect x="213.6" y="772" width="123.4" height="82" fill="#787878"/>
<rect x="339.4" y="602" width="150.4" height="82" fill="#7b7b7b"/>
<rect x="339.4" y="687" width="150.4" height="81.4" fill="#7c7c7c"/>
<rect x="339.4" y="772" width="150.4" height="82" fill="#808080"/>
<rect x="493.2" y="602" width="140.8" height="82" fill="#656565"/>
<rect x="493.2" y="687" width="140.8" height="81.4" fill="#787878"/>
<rect x="493.2" y="772" width="140.8" height="82" fill="#777777"/>
<g filter="url(#soft)">
<rect x="67.8" y="602.3" width="3.4" height="10.5" rx="1.5" fill="#2e2e2e" stroke="#8e8e8e" stroke-width="0.9"/>
<rect x="84.45" y="602.3" width="3.4" height="10.5" rx="1.5" fill="#2e2e2e" stroke="#8e8e8e" stroke-width="0.9"/>
<rect x="93.65" y="602.3" width="3.4" height="10.5" rx="1.5" fill="#2e2e2e" stroke="#8e8e8e" stroke-width="0.9"/>
<rect x="113.85" y="602.3" width="3.4" height="10.5" rx="1.5" fill="#2e2e2e" stroke="#8e8e8e" stroke-width="0.9"/>
<rect x="123.05" y="602.3" width="3.4" height="10.5" rx="1.5" fill="#2e2e2e" stroke="#8e8e8e" stroke-width="0.9"/>
<rect x="143.1" y="602.3" width="3.4" height="10.5" rx="1.5" fill="#2e2e2e" stroke="#8e8e8e" stroke-width="0.9"/>
<rect x="152.3" y="602.3" width="3.4" height="10.5" rx="1.5" fill="#2e2e2e" stroke="#8e8e8e" stroke-width="0.9"/>
<rect x="172.5" y="602.3" width="3.4" height="10.5" rx="1.5" fill="#2e2e2e" stroke="#8e8e8e" stroke-width="0.9"/>
<rect x="181.7" y="602.3" width="3.4" height="10.5" rx="1.5" fill="#2e2e2e" stroke="#8e8e8e" stroke-width="0.9"/>
<rect x="201.4" y="602.3" width="3.4" height="10.5" rx="1.5" fill="#2e2e2e" stroke="#8e8e8e" stroke-width="0.9"/>
<rect x="75.7" y="602" width="2.6" height="6" fill="#efefef"/>
<rect x="103.2" y="602" width="2.6" height="6" fill="#efefef"/>
<rect x="134.5" y="602" width="2.6" height="6" fill="#efefef"/>
<rect x="161.7" y="602" width="2.6" height="6" fill="#efefef"/>
<rect x="193.3" y="602" width="2.6" height="6" fill="#efefef"/>
</g>
<g filter="url(#soft)">
<rect x="67.8" y="687.3" width="3.4" height="10.5" rx="1.5" fill="#4a4a4a" stroke="#a0a0a0" stroke-width="0.9"/>
<rect x="85.4" y="687.3" width="3.4" height="10.5" rx="1.5" fill="#4a4a4a" stroke="#a0a0a0" stroke-width="0.9"/>
<rect x="94.6" y="687.3" width="3.4" height="10.5" rx="1.5" fill="#4a4a4a" stroke="#a0a0a0" stroke-width="0.9"/>
<rect x="114.8" y="687.3" width="3.4" height="10.5" rx="1.5" fill="#4a4a4a" stroke="#a0a0a0" stroke-width="0.9"/>
<rect x="124" y="687.3" width="3.4" height="10.5" rx="1.5" fill="#4a4a4a" stroke="#a0a0a0" stroke-width="0.9"/>
<rect x="143.65" y="687.3" width="3.4" height="10.5" rx="1.5" fill="#4a4a4a" stroke="#a0a0a0" stroke-width="0.9"/>
<rect x="152.85" y="687.3" width="3.4" height="10.5" rx="1.5" fill="#4a4a4a" stroke="#a0a0a0" stroke-width="0.9"/>
<rect x="171.35" y="687.3" width="3.4" height="10.5" rx="1.5" fill="#4a4a4a" stroke="#a0a0a0" stroke-width="0.9"/>
<rect x="180.55" y="687.3" width="3.4" height="10.5" rx="1.5" fill="#4a4a4a" stroke="#a0a0a0" stroke-width="0.9"/>
<rect x="198" y="687.3" width="3.4" height="10.5" rx="1.5" fill="#4a4a4a" stroke="#a0a0a0" stroke-width="0.9"/>
<rect x="75.7" y="687" width="2.6" height="12" fill="#efefef"/>
<rect x="105.1" y="687" width="2.6" height="12" fill="#efefef"/>
<rect x="134.5" y="687" width="2.6" height="12" fill="#efefef"/>
<rect x="162.8" y="687" width="2.6" height="12" fill="#efefef"/>
<rect x="189.9" y="687" width="2.6" height="12" fill="#efefef"/>
</g>
<g filter="url(#soft)">
<rect x="70" y="772.3" width="3.4" height="10.5" rx="1.5" fill="#4a4a4a" stroke="#a0a0a0" stroke-width="0.9"/>
<rect x="87.9" y="772.3" width="3.4" height="10.5" rx="1.5" fill="#4a4a4a" stroke="#a0a0a0" stroke-width="0.9"/>
<rect x="97.1" y="772.3" width="3.4" height="10.5" rx="1.5" fill="#4a4a4a" stroke="#a0a0a0" stroke-width="0.9"/>
<rect x="118.2" y="772.3" width="3.4" height="10.5" rx="1.5" fill="#4a4a4a" stroke="#a0a0a0" stroke-width="0.9"/>
<rect x="127.4" y="772.3" width="3.4" height="10.5" rx="1.5" fill="#4a4a4a" stroke="#a0a0a0" stroke-width="0.9"/>
<rect x="147.35" y="772.3" width="3.4" height="10.5" rx="1.5" fill="#4a4a4a" stroke="#a0a0a0" stroke-width="0.9"/>
<rect x="156.55" y="772.3" width="3.4" height="10.5" rx="1.5" fill="#4a4a4a" stroke="#a0a0a0" stroke-width="0.9"/>
<rect x="175.35" y="772.3" width="3.4" height="10.5" rx="1.5" fill="#4a4a4a" stroke="#a0a0a0" stroke-width="0.9"/>
<rect x="184.55" y="772.3" width="3.4" height="10.5" rx="1.5" fill="#4a4a4a" stroke="#a0a0a0" stroke-width="0.9"/>
<rect x="202.6" y="772.3" width="3.4" height="10.5" rx="1.5" fill="#4a4a4a" stroke="#a0a0a0" stroke-width="0.9"/>
<rect x="77.9" y="772" width="2.6" height="11" fill="#efefef"/>
<rect x="166.2" y="772" width="2.6" height="11" fill="#efefef"/>
<rect x="194.5" y="772" width="2.6" height="11" fill="#efefef"/>
<rect x="107.9" y="772" width="2.6" height="8" fill="#e8e8e8"/>
<rect x="138.5" y="772" width="2.6" height="8" fill="#e8e8e8"/>
</g>
<g filter="url(#soft)">
<rect x="224.5" y="602.3" width="3.4" height="10.5" rx="1.5" fill="#2e2e2e" stroke="#8e8e8e" stroke-width="0.9"/>
<rect x="241.65" y="602.3" width="3.4" height="10.5" rx="1.5" fill="#2e2e2e" stroke="#8e8e8e" stroke-width="0.9"/>
<rect x="250.85" y="602.3" width="3.4" height="10.5" rx="1.5" fill="#2e2e2e" stroke="#8e8e8e" stroke-width="0.9"/>
<rect x="269.65" y="602.3" width="3.4" height="10.5" rx="1.5" fill="#2e2e2e" stroke="#8e8e8e" stroke-width="0.9"/>
<rect x="278.85" y="602.3" width="3.4" height="10.5" rx="1.5" fill="#2e2e2e" stroke="#8e8e8e" stroke-width="0.9"/>
<rect x="296.7" y="602.3" width="3.4" height="10.5" rx="1.5" fill="#2e2e2e" stroke="#8e8e8e" stroke-width="0.9"/>
<rect x="305.9" y="602.3" width="3.4" height="10.5" rx="1.5" fill="#2e2e2e" stroke="#8e8e8e" stroke-width="0.9"/>
<rect x="323.1" y="602.3" width="3.4" height="10.5" rx="1.5" fill="#2e2e2e" stroke="#8e8e8e" stroke-width="0.9"/>
<rect x="232.4" y="602" width="2.6" height="6" fill="#efefef"/>
<rect x="260.9" y="602" width="2.6" height="6" fill="#efefef"/>
<rect x="288.4" y="602" width="2.6" height="6" fill="#efefef"/>
<rect x="315" y="602" width="2.6" height="6" fill="#efefef"/>
</g>
<g filter="url(#soft)">
<rect x="218.8" y="687.3" width="3.4" height="10.5" rx="1.5" fill="#4a4a4a" stroke="#a0a0a0" stroke-width="0.9"/>
<rect x="238.3" y="687.3" width="3.4" height="10.5" rx="1.5" fill="#4a4a4a" stroke="#a0a0a0" stroke-width="0.9"/>
<rect x="247.5" y="687.3" width="3.4" height="10.5" rx="1.5" fill="#4a4a4a" stroke="#a0a0a0" stroke-width="0.9"/>
<rect x="268.2" y="687.3" width="3.4" height="10.5" rx="1.5" fill="#4a4a4a" stroke="#a0a0a0" stroke-width="0.9"/>
<rect x="277.4" y="687.3" width="3.4" height="10.5" rx="1.5" fill="#4a4a4a" stroke="#a0a0a0" stroke-width="0.9"/>
<rect x="296.7" y="687.3" width="3.4" height="10.5" rx="1.5" fill="#4a4a4a" stroke="#a0a0a0" stroke-width="0.9"/>
<rect x="305.9" y="687.3" width="3.4" height="10.5" rx="1.5" fill="#4a4a4a" stroke="#a0a0a0" stroke-width="0.9"/>
<rect x="325" y="687.3" width="3.4" height="10.5" rx="1.5" fill="#4a4a4a" stroke="#a0a0a0" stroke-width="0.9"/>
<rect x="226.7" y="687" width="2.6" height="12" fill="#efefef"/>
<rect x="259.9" y="687" width="2.6" height="12" fill="#efefef"/>
<rect x="286.5" y="687" width="2.6" height="12" fill="#efefef"/>
<rect x="316.9" y="687" width="2.6" height="12" fill="#efefef"/>
</g>
<g filter="url(#soft)">
<rect x="222.6" y="772.3" width="3.4" height="10.5" rx="1.5" fill="#4a4a4a" stroke="#a0a0a0" stroke-width="0.9"/>
<rect x="239.75" y="772.3" width="3.4" height="10.5" rx="1.5" fill="#4a4a4a" stroke="#a0a0a0" stroke-width="0.9"/>
<rect x="248.95" y="772.3" width="3.4" height="10.5" rx="1.5" fill="#4a4a4a" stroke="#a0a0a0" stroke-width="0.9"/>
<rect x="270.15" y="772.3" width="3.4" height="10.5" rx="1.5" fill="#4a4a4a" stroke="#a0a0a0" stroke-width="0.9"/>
<rect x="279.35" y="772.3" width="3.4" height="10.5" rx="1.5" fill="#4a4a4a" stroke="#a0a0a0" stroke-width="0.9"/>
<rect x="298.6" y="772.3" width="3.4" height="10.5" rx="1.5" fill="#4a4a4a" stroke="#a0a0a0" stroke-width="0.9"/>
<rect x="307.8" y="772.3" width="3.4" height="10.5" rx="1.5" fill="#4a4a4a" stroke="#a0a0a0" stroke-width="0.9"/>
<rect x="324" y="772.3" width="3.4" height="10.5" rx="1.5" fill="#4a4a4a" stroke="#a0a0a0" stroke-width="0.9"/>
<rect x="230.5" y="772" width="2.6" height="11" fill="#efefef"/>
<rect x="259" y="772" width="2.6" height="11" fill="#efefef"/>
<rect x="291.3" y="772" width="2.6" height="11" fill="#efefef"/>
<rect x="315.9" y="772" width="2.6" height="11" fill="#efefef"/>
</g>
<g filter="url(#soft)">
<rect x="347" y="602.3" width="3.4" height="10.5" rx="1.5" fill="#2e2e2e" stroke="#8e8e8e" stroke-width="0.9"/>
<rect x="363.5" y="602.3" width="3.4" height="10.5" rx="1.5" fill="#2e2e2e" stroke="#8e8e8e" stroke-width="0.9"/>
<rect x="372.7" y="602.3" width="3.4" height="10.5" rx="1.5" fill="#2e2e2e" stroke="#8e8e8e" stroke-width="0.9"/>
<rect x="392.4" y="602.3" width="3.4" height="10.5" rx="1.5" fill="#2e2e2e" stroke="#8e8e8e" stroke-width="0.9"/>
<rect x="401.6" y="602.3" width="3.4" height="10.5" rx="1.5" fill="#2e2e2e" stroke="#8e8e8e" stroke-width="0.9"/>
<rect x="422.4" y="602.3" width="3.4" height="10.5" rx="1.5" fill="#2e2e2e" stroke="#8e8e8e" stroke-width="0.9"/>
<rect x="431.6" y="602.3" width="3.4" height="10.5" rx="1.5" fill="#2e2e2e" stroke="#8e8e8e" stroke-width="0.9"/>
<rect x="451.8" y="602.3" width="3.4" height="10.5" rx="1.5" fill="#2e2e2e" stroke="#8e8e8e" stroke-width="0.9"/>
<rect x="461" y="602.3" width="3.4" height="10.5" rx="1.5" fill="#2e2e2e" stroke="#8e8e8e" stroke-width="0.9"/>
<rect x="479.6" y="602.3" width="3.4" height="10.5" rx="1.5" fill="#2e2e2e" stroke="#8e8e8e" stroke-width="0.9"/>
<rect x="354.9" y="602" width="2.6" height="6" fill="#efefef"/>
<rect x="382.1" y="602" width="2.6" height="6" fill="#efefef"/>
<rect x="412.7" y="602" width="2.6" height="6" fill="#efefef"/>
<rect x="442.1" y="602" width="2.6" height="6" fill="#efefef"/>
<rect x="471.5" y="602" width="2.6" height="6" fill="#efefef"/>
</g>
<g filter="url(#soft)">
<rect x="347" y="687.3" width="3.4" height="10.5" rx="1.5" fill="#4a4a4a" stroke="#a0a0a0" stroke-width="0.9"/>
<rect x="365.2" y="687.3" width="3.4" height="10.5" rx="1.5" fill="#4a4a4a" stroke="#a0a0a0" stroke-width="0.9"/>
<rect x="374.4" y="687.3" width="3.4" height="10.5" rx="1.5" fill="#4a4a4a" stroke="#a0a0a0" stroke-width="0.9"/>
<rect x="395.75" y="687.3" width="3.4" height="10.5" rx="1.5" fill="#4a4a4a" stroke="#a0a0a0" stroke-width="0.9"/>
<rect x="404.95" y="687.3" width="3.4" height="10.5" rx="1.5" fill="#4a4a4a" stroke="#a0a0a0" stroke-width="0.9"/>
<rect x="425.72" y="687.3" width="3.4" height="10.5" rx="1.5" fill="#4a4a4a" stroke="#a0a0a0" stroke-width="0.9"/>
<rect x="434.93" y="687.3" width="3.4" height="10.5" rx="1.5" fill="#4a4a4a" stroke="#a0a0a0" stroke-width="0.9"/>
<rect x="454.02" y="687.3" width="3.4" height="10.5" rx="1.5" fill="#4a4a4a" stroke="#a0a0a0" stroke-width="0.9"/>
<rect x="463.23" y="687.3" width="3.4" height="10.5" rx="1.5" fill="#4a4a4a" stroke="#a0a0a0" stroke-width="0.9"/>
<rect x="480.7" y="687.3" width="3.4" height="10.5" rx="1.5" fill="#4a4a4a" stroke="#a0a0a0" stroke-width="0.9"/>
<rect x="354.9" y="687" width="2.6" height="12" fill="#efefef"/>
<rect x="385.5" y="687" width="2.6" height="12" fill="#efefef"/>
<rect x="416" y="687" width="2.6" height="12" fill="#efefef"/>
<rect x="472.6" y="687" width="2.6" height="12" fill="#efefef"/>
<rect x="445.45" y="687" width="2.6" height="8" fill="#e8e8e8"/>
</g>
<g filter="url(#soft)">
<rect x="355" y="772.3" width="3.4" height="10.5" rx="1.5" fill="#4a4a4a" stroke="#a0a0a0" stroke-width="0.9"/>
<rect x="372.02" y="772.3" width="3.4" height="10.5" rx="1.5" fill="#4a4a4a" stroke="#a0a0a0" stroke-width="0.9"/>
<rect x="381.23" y="772.3" width="3.4" height="10.5" rx="1.5" fill="#4a4a4a" stroke="#a0a0a0" stroke-width="0.9"/>
<rect x="398.57" y="772.3" width="3.4" height="10.5" rx="1.5" fill="#4a4a4a" stroke="#a0a0a0" stroke-width="0.9"/>
<rect x="407.78" y="772.3" width="3.4" height="10.5" rx="1.5" fill="#4a4a4a" stroke="#a0a0a0" stroke-width="0.9"/>
<rect x="427.43" y="772.3" width="3.4" height="10.5" rx="1.5" fill="#4a4a4a" stroke="#a0a0a0" stroke-width="0.9"/>
<rect x="436.63" y="772.3" width="3.4" height="10.5" rx="1.5" fill="#4a4a4a" stroke="#a0a0a0" stroke-width="0.9"/>
<rect x="458" y="772.3" width="3.4" height="10.5" rx="1.5" fill="#4a4a4a" stroke="#a0a0a0" stroke-width="0.9"/>
<rect x="467.2" y="772.3" width="3.4" height="10.5" rx="1.5" fill="#4a4a4a" stroke="#a0a0a0" stroke-width="0.9"/>
<rect x="485.25" y="772.3" width="3.4" height="10.5" rx="1.5" fill="#4a4a4a" stroke="#a0a0a0" stroke-width="0.9"/>
<rect x="362.9" y="772" width="2.6" height="11" fill="#efefef"/>
<rect x="416" y="772" width="2.6" height="11" fill="#efefef"/>
<rect x="391.15" y="772" width="2.6" height="8" fill="#e8e8e8"/>
<rect x="448.85" y="772" width="2.6" height="8" fill="#e8e8e8"/>
<rect x="477.15" y="772" width="2.6" height="8" fill="#e8e8e8"/>
</g>
<g filter="url(#soft)">
<rect x="498.3" y="602.3" width="3.4" height="10.5" rx="1.5" fill="#2e2e2e" stroke="#8e8e8e" stroke-width="0.9"/>
<rect x="515.45" y="602.3" width="3.4" height="10.5" rx="1.5" fill="#2e2e2e" stroke="#8e8e8e" stroke-width="0.9"/>
<rect x="524.65" y="602.3" width="3.4" height="10.5" rx="1.5" fill="#2e2e2e" stroke="#8e8e8e" stroke-width="0.9"/>
<rect x="542.85" y="602.3" width="3.4" height="10.5" rx="1.5" fill="#2e2e2e" stroke="#8e8e8e" stroke-width="0.9"/>
<rect x="552.05" y="602.3" width="3.4" height="10.5" rx="1.5" fill="#2e2e2e" stroke="#8e8e8e" stroke-width="0.9"/>
<rect x="568.55" y="602.3" width="3.4" height="10.5" rx="1.5" fill="#2e2e2e" stroke="#8e8e8e" stroke-width="0.9"/>
<rect x="577.75" y="602.3" width="3.4" height="10.5" rx="1.5" fill="#2e2e2e" stroke="#8e8e8e" stroke-width="0.9"/>
<rect x="595.35" y="602.3" width="3.4" height="10.5" rx="1.5" fill="#2e2e2e" stroke="#8e8e8e" stroke-width="0.9"/>
<rect x="604.55" y="602.3" width="3.4" height="10.5" rx="1.5" fill="#2e2e2e" stroke="#8e8e8e" stroke-width="0.9"/>
<rect x="622.7" y="602.3" width="3.4" height="10.5" rx="1.5" fill="#2e2e2e" stroke="#8e8e8e" stroke-width="0.9"/>
<rect x="506.2" y="602" width="2.6" height="6" fill="#efefef"/>
<rect x="534.7" y="602" width="2.6" height="6" fill="#efefef"/>
<rect x="561" y="602" width="2.6" height="6" fill="#efefef"/>
<rect x="586.1" y="602" width="2.6" height="6" fill="#efefef"/>
<rect x="614.6" y="602" width="2.6" height="6" fill="#efefef"/>
</g>
<g filter="url(#soft)">
<rect x="500.5" y="687.3" width="3.4" height="10.5" rx="1.5" fill="#4a4a4a" stroke="#a0a0a0" stroke-width="0.9"/>
<rect x="517.1" y="687.3" width="3.4" height="10.5" rx="1.5" fill="#4a4a4a" stroke="#a0a0a0" stroke-width="0.9"/>
<rect x="526.3" y="687.3" width="3.4" height="10.5" rx="1.5" fill="#4a4a4a" stroke="#a0a0a0" stroke-width="0.9"/>
<rect x="545" y="687.3" width="3.4" height="10.5" rx="1.5" fill="#4a4a4a" stroke="#a0a0a0" stroke-width="0.9"/>
<rect x="554.2" y="687.3" width="3.4" height="10.5" rx="1.5" fill="#4a4a4a" stroke="#a0a0a0" stroke-width="0.9"/>
<rect x="572.35" y="687.3" width="3.4" height="10.5" rx="1.5" fill="#4a4a4a" stroke="#a0a0a0" stroke-width="0.9"/>
<rect x="581.55" y="687.3" width="3.4" height="10.5" rx="1.5" fill="#4a4a4a" stroke="#a0a0a0" stroke-width="0.9"/>
<rect x="599.2" y="687.3" width="3.4" height="10.5" rx="1.5" fill="#4a4a4a" stroke="#a0a0a0" stroke-width="0.9"/>
<rect x="608.4" y="687.3" width="3.4" height="10.5" rx="1.5" fill="#4a4a4a" stroke="#a0a0a0" stroke-width="0.9"/>
<rect x="626" y="687.3" width="3.4" height="10.5" rx="1.5" fill="#4a4a4a" stroke="#a0a0a0" stroke-width="0.9"/>
<rect x="508.4" y="687" width="2.6" height="12" fill="#efefef"/>
<rect x="535.8" y="687" width="2.6" height="12" fill="#efefef"/>
<rect x="564.2" y="687" width="2.6" height="12" fill="#efefef"/>
<rect x="590.5" y="687" width="2.6" height="12" fill="#efefef"/>
<rect x="617.9" y="687" width="2.6" height="12" fill="#efefef"/>
</g>
<g filter="url(#soft)">
<rect x="498.3" y="772.3" width="3.4" height="10.5" rx="1.5" fill="#4a4a4a" stroke="#a0a0a0" stroke-width="0.9"/>
<rect x="514.9" y="772.3" width="3.4" height="10.5" rx="1.5" fill="#4a4a4a" stroke="#a0a0a0" stroke-width="0.9"/>
<rect x="524.1" y="772.3" width="3.4" height="10.5" rx="1.5" fill="#4a4a4a" stroke="#a0a0a0" stroke-width="0.9"/>
<rect x="542.3" y="772.3" width="3.4" height="10.5" rx="1.5" fill="#4a4a4a" stroke="#a0a0a0" stroke-width="0.9"/>
<rect x="551.5" y="772.3" width="3.4" height="10.5" rx="1.5" fill="#4a4a4a" stroke="#a0a0a0" stroke-width="0.9"/>
<rect x="569.65" y="772.3" width="3.4" height="10.5" rx="1.5" fill="#4a4a4a" stroke="#a0a0a0" stroke-width="0.9"/>
<rect x="578.85" y="772.3" width="3.4" height="10.5" rx="1.5" fill="#4a4a4a" stroke="#a0a0a0" stroke-width="0.9"/>
<rect x="597" y="772.3" width="3.4" height="10.5" rx="1.5" fill="#4a4a4a" stroke="#a0a0a0" stroke-width="0.9"/>
<rect x="606.2" y="772.3" width="3.4" height="10.5" rx="1.5" fill="#4a4a4a" stroke="#a0a0a0" stroke-width="0.9"/>
<rect x="623.8" y="772.3" width="3.4" height="10.5" rx="1.5" fill="#4a4a4a" stroke="#a0a0a0" stroke-width="0.9"/>
<rect x="506.2" y="772" width="2.6" height="11" fill="#efefef"/>
<rect x="533.6" y="772" width="2.6" height="11" fill="#efefef"/>
<rect x="561" y="772" width="2.6" height="11" fill="#efefef"/>
<rect x="588.3" y="772" width="2.6" height="11" fill="#efefef"/>
<rect x="615.7" y="772" width="2.6" height="11" fill="#efefef"/>
</g>
<g filter="url(#soft)">
<line x1="77" y1="658.5" x2="77" y2="684" stroke="#e4e4e4" stroke-width="2.1"/>
<path d="M68.5 656.5 Q65.5 663.5 66.5 669" stroke="#cbcbcb" stroke-width="2.5" stroke-linecap="round" fill="none"/>
<ellipse cx="66.5" cy="670" rx="1.8" ry="2.4" fill="#cfcfcf"/>
<path d="M69 621 L64 617" stroke="#d8d8d8" stroke-width="3.4" stroke-linecap="round" fill="none"/>
<path d="M85.5 656.5 Q88.5 663.5 87.5 669" stroke="#cbcbcb" stroke-width="2.5" stroke-linecap="round" fill="none"/>
<ellipse cx="87.5" cy="670" rx="1.8" ry="2.4" fill="#cfcfcf"/>
<path d="M85 621 L90 617" stroke="#d8d8d8" stroke-width="3.4" stroke-linecap="round" fill="none"/>
<path d="M77 605 C77.87 605,78.83 604.88,79.6 605.3 C80.37 605.72,81.1 606.55,81.6 607.5 C82.1 608.45,82.12 609.75,82.6 611 C83.08 612.25,83.73 613.75,84.5 615 C85.27 616.25,86.57 617,87.2 618.5 C87.83 620,88.07 621.25,88.3 624 C88.53 626.75,88.52 630.58,88.6 635 C88.68 639.42,88.87 646.75,88.8 650.5 C88.73 654.25,89.17 655.83,88.2 657.5 C87.23 659.17,84.87 659.95,83 660.5 C81.13 661.05,79 660.8,77 660.8 C75 660.8,72.87 661.05,71 660.5 C69.13 659.95,66.77 659.17,65.8 657.5 C64.83 655.83,65.27 654.25,65.2 650.5 C65.13 646.75,65.32 639.42,65.4 635 C65.48 630.58,65.47 626.75,65.7 624 C65.93 621.25,66.17 620,66.8 618.5 C67.43 617,68.73 616.25,69.5 615 C70.27 613.75,70.92 612.25,71.4 611 C71.88 609.75,71.9 608.45,72.4 607.5 C72.9 606.55,73.63 605.72,74.4 605.3 C75.17 604.88,76.13 605,77 605 Z" fill="url(#mg)"/>
</g>
<g filter="url(#soft)">
<line x1="104.5" y1="658.5" x2="104.5" y2="684" stroke="#e4e4e4" stroke-width="2.1"/>
<path d="M96 656.5 Q93 663.5 94 669" stroke="#cbcbcb" stroke-width="2.5" stroke-linecap="round" fill="none"/>
<ellipse cx="94" cy="670" rx="1.8" ry="2.4" fill="#cfcfcf"/>
<path d="M96.5 621 L91.5 617" stroke="#d8d8d8" stroke-width="3.4" stroke-linecap="round" fill="none"/>
<path d="M113 656.5 Q116 663.5 115 669" stroke="#cbcbcb" stroke-width="2.5" stroke-linecap="round" fill="none"/>
<ellipse cx="115" cy="670" rx="1.8" ry="2.4" fill="#cfcfcf"/>
<path d="M112.5 621 L117.5 617" stroke="#d8d8d8" stroke-width="3.4" stroke-linecap="round" fill="none"/>
<path d="M104.5 605 C105.37 605,106.33 604.88,107.1 605.3 C107.87 605.72,108.6 606.55,109.1 607.5 C109.6 608.45,109.62 609.75,110.1 611 C110.58 612.25,111.23 613.75,112 615 C112.77 616.25,114.07 617,114.7 618.5 C115.33 620,115.57 621.25,115.8 624 C116.03 626.75,116.02 630.58,116.1 635 C116.18 639.42,116.37 646.75,116.3 650.5 C116.23 654.25,116.67 655.83,115.7 657.5 C114.73 659.17,112.37 659.95,110.5 660.5 C108.63 661.05,106.5 660.8,104.5 660.8 C102.5 660.8,100.37 661.05,98.5 660.5 C96.63 659.95,94.27 659.17,93.3 657.5 C92.33 655.83,92.77 654.25,92.7 650.5 C92.63 646.75,92.82 639.42,92.9 635 C92.98 630.58,92.97 626.75,93.2 624 C93.43 621.25,93.67 620,94.3 618.5 C94.93 617,96.23 616.25,97 615 C97.77 613.75,98.42 612.25,98.9 611 C99.38 609.75,99.4 608.45,99.9 607.5 C100.4 606.55,101.13 605.72,101.9 605.3 C102.67 604.88,103.63 605,104.5 605 Z" fill="url(#mg)"/>
</g>
<g filter="url(#soft)">
<line x1="135.8" y1="658.5" x2="135.8" y2="684" stroke="#e4e4e4" stroke-width="2.1"/>
<path d="M127.3 656.5 Q124.3 663.5 125.3 669" stroke="#cbcbcb" stroke-width="2.5" stroke-linecap="round" fill="none"/>
<ellipse cx="125.3" cy="670" rx="1.8" ry="2.4" fill="#cfcfcf"/>
<path d="M127.8 621 L122.8 617" stroke="#d8d8d8" stroke-width="3.4" stroke-linecap="round" fill="none"/>
<path d="M144.3 656.5 Q147.3 663.5 146.3 669" stroke="#cbcbcb" stroke-width="2.5" stroke-linecap="round" fill="none"/>
<ellipse cx="146.3" cy="670" rx="1.8" ry="2.4" fill="#cfcfcf"/>
<path d="M143.8 621 L148.8 617" stroke="#d8d8d8" stroke-width="3.4" stroke-linecap="round" fill="none"/>
<path d="M135.8 605 C136.67 605,137.63 604.88,138.4 605.3 C139.17 605.72,139.9 606.55,140.4 607.5 C140.9 608.45,140.92 609.75,141.4 611 C141.88 612.25,142.53 613.75,143.3 615 C144.07 616.25,145.37 617,146 618.5 C146.63 620,146.87 621.25,147.1 624 C147.33 626.75,147.32 630.58,147.4 635 C147.48 639.42,147.67 646.75,147.6 650.5 C147.53 654.25,147.97 655.83,147 657.5 C146.03 659.17,143.67 659.95,141.8 660.5 C139.93 661.05,137.8 660.8,135.8 660.8 C133.8 660.8,131.67 661.05,129.8 660.5 C127.93 659.95,125.57 659.17,124.6 657.5 C123.63 655.83,124.07 654.25,124 650.5 C123.93 646.75,124.12 639.42,124.2 635 C124.28 630.58,124.27 626.75,124.5 624 C124.73 621.25,124.97 620,125.6 618.5 C126.23 617,127.53 616.25,128.3 615 C129.07 613.75,129.72 612.25,130.2 611 C130.68 609.75,130.7 608.45,131.2 607.5 C131.7 606.55,132.43 605.72,133.2 605.3 C133.97 604.88,134.93 605,135.8 605 Z" fill="url(#mg)"/>
</g>
<g filter="url(#soft)">
<line x1="163" y1="658.5" x2="163" y2="684" stroke="#e4e4e4" stroke-width="2.1"/>
<path d="M154.5 656.5 Q151.5 663.5 152.5 669" stroke="#cbcbcb" stroke-width="2.5" stroke-linecap="round" fill="none"/>
<ellipse cx="152.5" cy="670" rx="1.8" ry="2.4" fill="#cfcfcf"/>
<path d="M155 621 L150 617" stroke="#d8d8d8" stroke-width="3.4" stroke-linecap="round" fill="none"/>
<path d="M171.5 656.5 Q174.5 663.5 173.5 669" stroke="#cbcbcb" stroke-width="2.5" stroke-linecap="round" fill="none"/>
<ellipse cx="173.5" cy="670" rx="1.8" ry="2.4" fill="#cfcfcf"/>
<path d="M171 621 L176 617" stroke="#d8d8d8" stroke-width="3.4" stroke-linecap="round" fill="none"/>
<path d="M163 605 C163.87 605,164.83 604.88,165.6 605.3 C166.37 605.72,167.1 606.55,167.6 607.5 C168.1 608.45,168.12 609.75,168.6 611 C169.08 612.25,169.73 613.75,170.5 615 C171.27 616.25,172.57 617,173.2 618.5 C173.83 620,174.07 621.25,174.3 624 C174.53 626.75,174.52 630.58,174.6 635 C174.68 639.42,174.87 646.75,174.8 650.5 C174.73 654.25,175.17 655.83,174.2 657.5 C173.23 659.17,170.87 659.95,169 660.5 C167.13 661.05,165 660.8,163 660.8 C161 660.8,158.87 661.05,157 660.5 C155.13 659.95,152.77 659.17,151.8 657.5 C150.83 655.83,151.27 654.25,151.2 650.5 C151.13 646.75,151.32 639.42,151.4 635 C151.48 630.58,151.47 626.75,151.7 624 C151.93 621.25,152.17 620,152.8 618.5 C153.43 617,154.73 616.25,155.5 615 C156.27 613.75,156.92 612.25,157.4 611 C157.88 609.75,157.9 608.45,158.4 607.5 C158.9 606.55,159.63 605.72,160.4 605.3 C161.17 604.88,162.13 605,163 605 Z" fill="url(#mg)"/>
</g>
<g filter="url(#soft)">
<line x1="194.6" y1="658.5" x2="194.6" y2="684" stroke="#e4e4e4" stroke-width="2.1"/>
<path d="M186.1 656.5 Q183.1 663.5 184.1 669" stroke="#cbcbcb" stroke-width="2.5" stroke-linecap="round" fill="none"/>
<ellipse cx="184.1" cy="670" rx="1.8" ry="2.4" fill="#cfcfcf"/>
<path d="M186.6 621 L181.6 617" stroke="#d8d8d8" stroke-width="3.4" stroke-linecap="round" fill="none"/>
<path d="M203.1 656.5 Q206.1 663.5 205.1 669" stroke="#cbcbcb" stroke-width="2.5" stroke-linecap="round" fill="none"/>
<ellipse cx="205.1" cy="670" rx="1.8" ry="2.4" fill="#cfcfcf"/>
<path d="M202.6 621 L207.6 617" stroke="#d8d8d8" stroke-width="3.4" stroke-linecap="round" fill="none"/>
<path d="M194.6 605 C195.47 605,196.43 604.88,197.2 605.3 C197.97 605.72,198.7 606.55,199.2 607.5 C199.7 608.45,199.72 609.75,200.2 611 C200.68 612.25,201.33 613.75,202.1 615 C202.87 616.25,204.17 617,204.8 618.5 C205.43 620,205.67 621.25,205.9 624 C206.13 626.75,206.12 630.58,206.2 635 C206.28 639.42,206.47 646.75,206.4 650.5 C206.33 654.25,206.77 655.83,205.8 657.5 C204.83 659.17,202.47 659.95,200.6 660.5 C198.73 661.05,196.6 660.8,194.6 660.8 C192.6 660.8,190.47 661.05,188.6 660.5 C186.73 659.95,184.37 659.17,183.4 657.5 C182.43 655.83,182.87 654.25,182.8 650.5 C182.73 646.75,182.92 639.42,183 635 C183.08 630.58,183.07 626.75,183.3 624 C183.53 621.25,183.77 620,184.4 618.5 C185.03 617,186.33 616.25,187.1 615 C187.87 613.75,188.52 612.25,189 611 C189.48 609.75,189.5 608.45,190 607.5 C190.5 606.55,191.23 605.72,192 605.3 C192.77 604.88,193.73 605,194.6 605 Z" fill="url(#mg)"/>
</g>
<g filter="url(#soft)">
<line x1="233.7" y1="658.5" x2="233.7" y2="684" stroke="#e4e4e4" stroke-width="2.1"/>
<path d="M225.2 656.5 Q222.2 663.5 223.2 669" stroke="#cbcbcb" stroke-width="2.5" stroke-linecap="round" fill="none"/>
<ellipse cx="223.2" cy="670" rx="1.8" ry="2.4" fill="#cfcfcf"/>
<path d="M225.7 621 L220.7 617" stroke="#d8d8d8" stroke-width="3.4" stroke-linecap="round" fill="none"/>
<path d="M242.2 656.5 Q245.2 663.5 244.2 669" stroke="#cbcbcb" stroke-width="2.5" stroke-linecap="round" fill="none"/>
<ellipse cx="244.2" cy="670" rx="1.8" ry="2.4" fill="#cfcfcf"/>
<path d="M241.7 621 L246.7 617" stroke="#d8d8d8" stroke-width="3.4" stroke-linecap="round" fill="none"/>
<path d="M233.7 605 C234.57 605,235.53 604.88,236.3 605.3 C237.07 605.72,237.8 606.55,238.3 607.5 C238.8 608.45,238.82 609.75,239.3 611 C239.78 612.25,240.43 613.75,241.2 615 C241.97 616.25,243.27 617,243.9 618.5 C244.53 620,244.77 621.25,245 624 C245.23 626.75,245.22 630.58,245.3 635 C245.38 639.42,245.57 646.75,245.5 650.5 C245.43 654.25,245.87 655.83,244.9 657.5 C243.93 659.17,241.57 659.95,239.7 660.5 C237.83 661.05,235.7 660.8,233.7 660.8 C231.7 660.8,229.57 661.05,227.7 660.5 C225.83 659.95,223.47 659.17,222.5 657.5 C221.53 655.83,221.97 654.25,221.9 650.5 C221.83 646.75,222.02 639.42,222.1 635 C222.18 630.58,222.17 626.75,222.4 624 C222.63 621.25,222.87 620,223.5 618.5 C224.13 617,225.43 616.25,226.2 615 C226.97 613.75,227.62 612.25,228.1 611 C228.58 609.75,228.6 608.45,229.1 607.5 C229.6 606.55,230.33 605.72,231.1 605.3 C231.87 604.88,232.83 605,233.7 605 Z" fill="url(#mg)"/>
</g>
<g filter="url(#soft)">
<line x1="262.2" y1="658.5" x2="262.2" y2="684" stroke="#e4e4e4" stroke-width="2.1"/>
<path d="M253.7 656.5 Q250.7 663.5 251.7 669" stroke="#cbcbcb" stroke-width="2.5" stroke-linecap="round" fill="none"/>
<ellipse cx="251.7" cy="670" rx="1.8" ry="2.4" fill="#cfcfcf"/>
<path d="M254.2 621 L249.2 617" stroke="#d8d8d8" stroke-width="3.4" stroke-linecap="round" fill="none"/>
<path d="M270.7 656.5 Q273.7 663.5 272.7 669" stroke="#cbcbcb" stroke-width="2.5" stroke-linecap="round" fill="none"/>
<ellipse cx="272.7" cy="670" rx="1.8" ry="2.4" fill="#cfcfcf"/>
<path d="M270.2 621 L275.2 617" stroke="#d8d8d8" stroke-width="3.4" stroke-linecap="round" fill="none"/>
<path d="M262.2 605 C263.07 605,264.03 604.88,264.8 605.3 C265.57 605.72,266.3 606.55,266.8 607.5 C267.3 608.45,267.32 609.75,267.8 611 C268.28 612.25,268.93 613.75,269.7 615 C270.47 616.25,271.77 617,272.4 618.5 C273.03 620,273.27 621.25,273.5 624 C273.73 626.75,273.72 630.58,273.8 635 C273.88 639.42,274.07 646.75,274 650.5 C273.93 654.25,274.37 655.83,273.4 657.5 C272.43 659.17,270.07 659.95,268.2 660.5 C266.33 661.05,264.2 660.8,262.2 660.8 C260.2 660.8,258.07 661.05,256.2 660.5 C254.33 659.95,251.97 659.17,251 657.5 C250.03 655.83,250.47 654.25,250.4 650.5 C250.33 646.75,250.52 639.42,250.6 635 C250.68 630.58,250.67 626.75,250.9 624 C251.13 621.25,251.37 620,252 618.5 C252.63 617,253.93 616.25,254.7 615 C255.47 613.75,256.12 612.25,256.6 611 C257.08 609.75,257.1 608.45,257.6 607.5 C258.1 606.55,258.83 605.72,259.6 605.3 C260.37 604.88,261.33 605,262.2 605 Z" fill="url(#mg)"/>
</g>
<g filter="url(#soft)">
<line x1="289.7" y1="658.5" x2="289.7" y2="684" stroke="#e4e4e4" stroke-width="2.1"/>
<path d="M281.2 656.5 Q278.2 663.5 279.2 669" stroke="#cbcbcb" stroke-width="2.5" stroke-linecap="round" fill="none"/>
<ellipse cx="279.2" cy="670" rx="1.8" ry="2.4" fill="#cfcfcf"/>
<path d="M281.7 621 L276.7 617" stroke="#d8d8d8" stroke-width="3.4" stroke-linecap="round" fill="none"/>
<path d="M298.2 656.5 Q301.2 663.5 300.2 669" stroke="#cbcbcb" stroke-width="2.5" stroke-linecap="round" fill="none"/>
<ellipse cx="300.2" cy="670" rx="1.8" ry="2.4" fill="#cfcfcf"/>
<path d="M297.7 621 L302.7 617" stroke="#d8d8d8" stroke-width="3.4" stroke-linecap="round" fill="none"/>
<path d="M289.7 605 C290.57 605,291.53 604.88,292.3 605.3 C293.07 605.72,293.8 606.55,294.3 607.5 C294.8 608.45,294.82 609.75,295.3 611 C295.78 612.25,296.43 613.75,297.2 615 C297.97 616.25,299.27 617,299.9 618.5 C300.53 620,300.77 621.25,301 624 C301.23 626.75,301.22 630.58,301.3 635 C301.38 639.42,301.57 646.75,301.5 650.5 C301.43 654.25,301.87 655.83,300.9 657.5 C299.93 659.17,297.57 659.95,295.7 660.5 C293.83 661.05,291.7 660.8,289.7 660.8 C287.7 660.8,285.57 661.05,283.7 660.5 C281.83 659.95,279.47 659.17,278.5 657.5 C277.53 655.83,277.97 654.25,277.9 650.5 C277.83 646.75,278.02 639.42,278.1 635 C278.18 630.58,278.17 626.75,278.4 624 C278.63 621.25,278.87 620,279.5 618.5 C280.13 617,281.43 616.25,282.2 615 C282.97 613.75,283.62 612.25,284.1 611 C284.58 609.75,284.6 608.45,285.1 607.5 C285.6 606.55,286.33 605.72,287.1 605.3 C287.87 604.88,288.83 605,289.7 605 Z" fill="url(#mg)"/>
</g>
<g filter="url(#soft)">
<line x1="316.3" y1="658.5" x2="316.3" y2="684" stroke="#e4e4e4" stroke-width="2.1"/>
<path d="M307.8 656.5 Q304.8 663.5 305.8 669" stroke="#cbcbcb" stroke-width="2.5" stroke-linecap="round" fill="none"/>
<ellipse cx="305.8" cy="670" rx="1.8" ry="2.4" fill="#cfcfcf"/>
<path d="M308.3 621 L303.3 617" stroke="#d8d8d8" stroke-width="3.4" stroke-linecap="round" fill="none"/>
<path d="M324.8 656.5 Q327.8 663.5 326.8 669" stroke="#cbcbcb" stroke-width="2.5" stroke-linecap="round" fill="none"/>
<ellipse cx="326.8" cy="670" rx="1.8" ry="2.4" fill="#cfcfcf"/>
<path d="M324.3 621 L329.3 617" stroke="#d8d8d8" stroke-width="3.4" stroke-linecap="round" fill="none"/>
<path d="M316.3 605 C317.17 605,318.13 604.88,318.9 605.3 C319.67 605.72,320.4 606.55,320.9 607.5 C321.4 608.45,321.42 609.75,321.9 611 C322.38 612.25,323.03 613.75,323.8 615 C324.57 616.25,325.87 617,326.5 618.5 C327.13 620,327.37 621.25,327.6 624 C327.83 626.75,327.82 630.58,327.9 635 C327.98 639.42,328.17 646.75,328.1 650.5 C328.03 654.25,328.47 655.83,327.5 657.5 C326.53 659.17,324.17 659.95,322.3 660.5 C320.43 661.05,318.3 660.8,316.3 660.8 C314.3 660.8,312.17 661.05,310.3 660.5 C308.43 659.95,306.07 659.17,305.1 657.5 C304.13 655.83,304.57 654.25,304.5 650.5 C304.43 646.75,304.62 639.42,304.7 635 C304.78 630.58,304.77 626.75,305 624 C305.23 621.25,305.47 620,306.1 618.5 C306.73 617,308.03 616.25,308.8 615 C309.57 613.75,310.22 612.25,310.7 611 C311.18 609.75,311.2 608.45,311.7 607.5 C312.2 606.55,312.93 605.72,313.7 605.3 C314.47 604.88,315.43 605,316.3 605 Z" fill="url(#mg)"/>
</g>
<g filter="url(#soft)">
<line x1="356.2" y1="658.5" x2="356.2" y2="684" stroke="#e4e4e4" stroke-width="2.1"/>
<path d="M347.7 656.5 Q344.7 663.5 345.7 669" stroke="#cbcbcb" stroke-width="2.5" stroke-linecap="round" fill="none"/>
<ellipse cx="345.7" cy="670" rx="1.8" ry="2.4" fill="#cfcfcf"/>
<path d="M348.2 621 L343.2 617" stroke="#d8d8d8" stroke-width="3.4" stroke-linecap="round" fill="none"/>
<path d="M364.7 656.5 Q367.7 663.5 366.7 669" stroke="#cbcbcb" stroke-width="2.5" stroke-linecap="round" fill="none"/>
<ellipse cx="366.7" cy="670" rx="1.8" ry="2.4" fill="#cfcfcf"/>
<path d="M364.2 621 L369.2 617" stroke="#d8d8d8" stroke-width="3.4" stroke-linecap="round" fill="none"/>
<path d="M356.2 605 C357.07 605,358.03 604.88,358.8 605.3 C359.57 605.72,360.3 606.55,360.8 607.5 C361.3 608.45,361.32 609.75,361.8 611 C362.28 612.25,362.93 613.75,363.7 615 C364.47 616.25,365.77 617,366.4 618.5 C367.03 620,367.27 621.25,367.5 624 C367.73 626.75,367.72 630.58,367.8 635 C367.88 639.42,368.07 646.75,368 650.5 C367.93 654.25,368.37 655.83,367.4 657.5 C366.43 659.17,364.07 659.95,362.2 660.5 C360.33 661.05,358.2 660.8,356.2 660.8 C354.2 660.8,352.07 661.05,350.2 660.5 C348.33 659.95,345.97 659.17,345 657.5 C344.03 655.83,344.47 654.25,344.4 650.5 C344.33 646.75,344.52 639.42,344.6 635 C344.68 630.58,344.67 626.75,344.9 624 C345.13 621.25,345.37 620,346 618.5 C346.63 617,347.93 616.25,348.7 615 C349.47 613.75,350.12 612.25,350.6 611 C351.08 609.75,351.1 608.45,351.6 607.5 C352.1 606.55,352.83 605.72,353.6 605.3 C354.37 604.88,355.33 605,356.2 605 Z" fill="url(#mg)"/>
</g>
<g filter="url(#soft)">
<line x1="383.4" y1="658.5" x2="383.4" y2="684" stroke="#e4e4e4" stroke-width="2.1"/>
<path d="M374.9 656.5 Q371.9 663.5 372.9 669" stroke="#cbcbcb" stroke-width="2.5" stroke-linecap="round" fill="none"/>
<ellipse cx="372.9" cy="670" rx="1.8" ry="2.4" fill="#cfcfcf"/>
<path d="M375.4 621 L370.4 617" stroke="#d8d8d8" stroke-width="3.4" stroke-linecap="round" fill="none"/>
<path d="M391.9 656.5 Q394.9 663.5 393.9 669" stroke="#cbcbcb" stroke-width="2.5" stroke-linecap="round" fill="none"/>
<ellipse cx="393.9" cy="670" rx="1.8" ry="2.4" fill="#cfcfcf"/>
<path d="M391.4 621 L396.4 617" stroke="#d8d8d8" stroke-width="3.4" stroke-linecap="round" fill="none"/>
<path d="M383.4 605 C384.27 605,385.23 604.88,386 605.3 C386.77 605.72,387.5 606.55,388 607.5 C388.5 608.45,388.52 609.75,389 611 C389.48 612.25,390.13 613.75,390.9 615 C391.67 616.25,392.97 617,393.6 618.5 C394.23 620,394.47 621.25,394.7 624 C394.93 626.75,394.92 630.58,395 635 C395.08 639.42,395.27 646.75,395.2 650.5 C395.13 654.25,395.57 655.83,394.6 657.5 C393.63 659.17,391.27 659.95,389.4 660.5 C387.53 661.05,385.4 660.8,383.4 660.8 C381.4 660.8,379.27 661.05,377.4 660.5 C375.53 659.95,373.17 659.17,372.2 657.5 C371.23 655.83,371.67 654.25,371.6 650.5 C371.53 646.75,371.72 639.42,371.8 635 C371.88 630.58,371.87 626.75,372.1 624 C372.33 621.25,372.57 620,373.2 618.5 C373.83 617,375.13 616.25,375.9 615 C376.67 613.75,377.32 612.25,377.8 611 C378.28 609.75,378.3 608.45,378.8 607.5 C379.3 606.55,380.03 605.72,380.8 605.3 C381.57 604.88,382.53 605,383.4 605 Z" fill="url(#mg)"/>
</g>
<g filter="url(#soft)">
<line x1="414" y1="658.5" x2="414" y2="684" stroke="#e4e4e4" stroke-width="2.1"/>
<path d="M405.5 656.5 Q402.5 663.5 403.5 669" stroke="#cbcbcb" stroke-width="2.5" stroke-linecap="round" fill="none"/>
<ellipse cx="403.5" cy="670" rx="1.8" ry="2.4" fill="#cfcfcf"/>
<path d="M406 621 L401 617" stroke="#d8d8d8" stroke-width="3.4" stroke-linecap="round" fill="none"/>
<path d="M422.5 656.5 Q425.5 663.5 424.5 669" stroke="#cbcbcb" stroke-width="2.5" stroke-linecap="round" fill="none"/>
<ellipse cx="424.5" cy="670" rx="1.8" ry="2.4" fill="#cfcfcf"/>
<path d="M422 621 L427 617" stroke="#d8d8d8" stroke-width="3.4" stroke-linecap="round" fill="none"/>
<path d="M414 605 C414.87 605,415.83 604.88,416.6 605.3 C417.37 605.72,418.1 606.55,418.6 607.5 C419.1 608.45,419.12 609.75,419.6 611 C420.08 612.25,420.73 613.75,421.5 615 C422.27 616.25,423.57 617,424.2 618.5 C424.83 620,425.07 621.25,425.3 624 C425.53 626.75,425.52 630.58,425.6 635 C425.68 639.42,425.87 646.75,425.8 650.5 C425.73 654.25,426.17 655.83,425.2 657.5 C424.23 659.17,421.87 659.95,420 660.5 C418.13 661.05,416 660.8,414 660.8 C412 660.8,409.87 661.05,408 660.5 C406.13 659.95,403.77 659.17,402.8 657.5 C401.83 655.83,402.27 654.25,402.2 650.5 C402.13 646.75,402.32 639.42,402.4 635 C402.48 630.58,402.47 626.75,402.7 624 C402.93 621.25,403.17 620,403.8 618.5 C404.43 617,405.73 616.25,406.5 615 C407.27 613.75,407.92 612.25,408.4 611 C408.88 609.75,408.9 608.45,409.4 607.5 C409.9 606.55,410.63 605.72,411.4 605.3 C412.17 604.88,413.13 605,414 605 Z" fill="url(#mg)"/>
</g>
<g filter="url(#soft)">
<line x1="443.4" y1="658.5" x2="443.4" y2="684" stroke="#e4e4e4" stroke-width="2.1"/>
<path d="M434.9 656.5 Q431.9 663.5 432.9 669" stroke="#cbcbcb" stroke-width="2.5" stroke-linecap="round" fill="none"/>
<ellipse cx="432.9" cy="670" rx="1.8" ry="2.4" fill="#cfcfcf"/>
<path d="M435.4 621 L430.4 617" stroke="#d8d8d8" stroke-width="3.4" stroke-linecap="round" fill="none"/>
<path d="M451.9 656.5 Q454.9 663.5 453.9 669" stroke="#cbcbcb" stroke-width="2.5" stroke-linecap="round" fill="none"/>
<ellipse cx="453.9" cy="670" rx="1.8" ry="2.4" fill="#cfcfcf"/>
<path d="M451.4 621 L456.4 617" stroke="#d8d8d8" stroke-width="3.4" stroke-linecap="round" fill="none"/>
<path d="M443.4 605 C444.27 605,445.23 604.88,446 605.3 C446.77 605.72,447.5 606.55,448 607.5 C448.5 608.45,448.52 609.75,449 611 C449.48 612.25,450.13 613.75,450.9 615 C451.67 616.25,452.97 617,453.6 618.5 C454.23 620,454.47 621.25,454.7 624 C454.93 626.75,454.92 630.58,455 635 C455.08 639.42,455.27 646.75,455.2 650.5 C455.13 654.25,455.57 655.83,454.6 657.5 C453.63 659.17,451.27 659.95,449.4 660.5 C447.53 661.05,445.4 660.8,443.4 660.8 C441.4 660.8,439.27 661.05,437.4 660.5 C435.53 659.95,433.17 659.17,432.2 657.5 C431.23 655.83,431.67 654.25,431.6 650.5 C431.53 646.75,431.72 639.42,431.8 635 C431.88 630.58,431.87 626.75,432.1 624 C432.33 621.25,432.57 620,433.2 618.5 C433.83 617,435.13 616.25,435.9 615 C436.67 613.75,437.32 612.25,437.8 611 C438.28 609.75,438.3 608.45,438.8 607.5 C439.3 606.55,440.03 605.72,440.8 605.3 C441.57 604.88,442.53 605,443.4 605 Z" fill="url(#mg)"/>
</g>
<g filter="url(#soft)">
<line x1="472.8" y1="658.5" x2="472.8" y2="684" stroke="#e4e4e4" stroke-width="2.1"/>
<path d="M464.3 656.5 Q461.3 663.5 462.3 669" stroke="#cbcbcb" stroke-width="2.5" stroke-linecap="round" fill="none"/>
<ellipse cx="462.3" cy="670" rx="1.8" ry="2.4" fill="#cfcfcf"/>
<path d="M464.8 621 L459.8 617" stroke="#d8d8d8" stroke-width="3.4" stroke-linecap="round" fill="none"/>
<path d="M481.3 656.5 Q484.3 663.5 483.3 669" stroke="#cbcbcb" stroke-width="2.5" stroke-linecap="round" fill="none"/>
<ellipse cx="483.3" cy="670" rx="1.8" ry="2.4" fill="#cfcfcf"/>
<path d="M480.8 621 L485.8 617" stroke="#d8d8d8" stroke-width="3.4" stroke-linecap="round" fill="none"/>
<path d="M472.8 605 C473.67 605,474.63 604.88,475.4 605.3 C476.17 605.72,476.9 606.55,477.4 607.5 C477.9 608.45,477.92 609.75,478.4 611 C478.88 612.25,479.53 613.75,480.3 615 C481.07 616.25,482.37 617,483 618.5 C483.63 620,483.87 621.25,484.1 624 C484.33 626.75,484.32 630.58,484.4 635 C484.48 639.42,484.67 646.75,484.6 650.5 C484.53 654.25,484.97 655.83,484 657.5 C483.03 659.17,480.67 659.95,478.8 660.5 C476.93 661.05,474.8 660.8,472.8 660.8 C470.8 660.8,468.67 661.05,466.8 660.5 C464.93 659.95,462.57 659.17,461.6 657.5 C460.63 655.83,461.07 654.25,461 650.5 C460.93 646.75,461.12 639.42,461.2 635 C461.28 630.58,461.27 626.75,461.5 624 C461.73 621.25,461.97 620,462.6 618.5 C463.23 617,464.53 616.25,465.3 615 C466.07 613.75,466.72 612.25,467.2 611 C467.68 609.75,467.7 608.45,468.2 607.5 C468.7 606.55,469.43 605.72,470.2 605.3 C470.97 604.88,471.93 605,472.8 605 Z" fill="url(#mg)"/>
</g>
<g filter="url(#soft)">
<line x1="507.5" y1="658.5" x2="507.5" y2="684" stroke="#e4e4e4" stroke-width="2.1"/>
<path d="M499 656.5 Q496 663.5 497 669" stroke="#cbcbcb" stroke-width="2.5" stroke-linecap="round" fill="none"/>
<ellipse cx="497" cy="670" rx="1.8" ry="2.4" fill="#cfcfcf"/>
<path d="M499.5 621 L494.5 617" stroke="#d8d8d8" stroke-width="3.4" stroke-linecap="round" fill="none"/>
<path d="M516 656.5 Q519 663.5 518 669" stroke="#cbcbcb" stroke-width="2.5" stroke-linecap="round" fill="none"/>
<ellipse cx="518" cy="670" rx="1.8" ry="2.4" fill="#cfcfcf"/>
<path d="M515.5 621 L520.5 617" stroke="#d8d8d8" stroke-width="3.4" stroke-linecap="round" fill="none"/>
<path d="M507.5 605 C508.37 605,509.33 604.88,510.1 605.3 C510.87 605.72,511.6 606.55,512.1 607.5 C512.6 608.45,512.62 609.75,513.1 611 C513.58 612.25,514.23 613.75,515 615 C515.77 616.25,517.07 617,517.7 618.5 C518.33 620,518.57 621.25,518.8 624 C519.03 626.75,519.02 630.58,519.1 635 C519.18 639.42,519.37 646.75,519.3 650.5 C519.23 654.25,519.67 655.83,518.7 657.5 C517.73 659.17,515.37 659.95,513.5 660.5 C511.63 661.05,509.5 660.8,507.5 660.8 C505.5 660.8,503.37 661.05,501.5 660.5 C499.63 659.95,497.27 659.17,496.3 657.5 C495.33 655.83,495.77 654.25,495.7 650.5 C495.63 646.75,495.82 639.42,495.9 635 C495.98 630.58,495.97 626.75,496.2 624 C496.43 621.25,496.67 620,497.3 618.5 C497.93 617,499.23 616.25,500 615 C500.77 613.75,501.42 612.25,501.9 611 C502.38 609.75,502.4 608.45,502.9 607.5 C503.4 606.55,504.13 605.72,504.9 605.3 C505.67 604.88,506.63 605,507.5 605 Z" fill="url(#mg)"/>
</g>
<g filter="url(#soft)">
<line x1="536" y1="658.5" x2="536" y2="684" stroke="#e4e4e4" stroke-width="2.1"/>
<path d="M527.5 656.5 Q524.5 663.5 525.5 669" stroke="#cbcbcb" stroke-width="2.5" stroke-linecap="round" fill="none"/>
<ellipse cx="525.5" cy="670" rx="1.8" ry="2.4" fill="#cfcfcf"/>
<path d="M528 621 L523 617" stroke="#d8d8d8" stroke-width="3.4" stroke-linecap="round" fill="none"/>
<path d="M544.5 656.5 Q547.5 663.5 546.5 669" stroke="#cbcbcb" stroke-width="2.5" stroke-linecap="round" fill="none"/>
<ellipse cx="546.5" cy="670" rx="1.8" ry="2.4" fill="#cfcfcf"/>
<path d="M544 621 L549 617" stroke="#d8d8d8" stroke-width="3.4" stroke-linecap="round" fill="none"/>
<path d="M536 605 C536.87 605,537.83 604.88,538.6 605.3 C539.37 605.72,540.1 606.55,540.6 607.5 C541.1 608.45,541.12 609.75,541.6 611 C542.08 612.25,542.73 613.75,543.5 615 C544.27 616.25,545.57 617,546.2 618.5 C546.83 620,547.07 621.25,547.3 624 C547.53 626.75,547.52 630.58,547.6 635 C547.68 639.42,547.87 646.75,547.8 650.5 C547.73 654.25,548.17 655.83,547.2 657.5 C546.23 659.17,543.87 659.95,542 660.5 C540.13 661.05,538 660.8,536 660.8 C534 660.8,531.87 661.05,530 660.5 C528.13 659.95,525.77 659.17,524.8 657.5 C523.83 655.83,524.27 654.25,524.2 650.5 C524.13 646.75,524.32 639.42,524.4 635 C524.48 630.58,524.47 626.75,524.7 624 C524.93 621.25,525.17 620,525.8 618.5 C526.43 617,527.73 616.25,528.5 615 C529.27 613.75,529.92 612.25,530.4 611 C530.88 609.75,530.9 608.45,531.4 607.5 C531.9 606.55,532.63 605.72,533.4 605.3 C534.17 604.88,535.13 605,536 605 Z" fill="url(#mg)"/>
</g>
<g filter="url(#soft)">
<line x1="562.3" y1="658.5" x2="562.3" y2="684" stroke="#e4e4e4" stroke-width="2.1"/>
<path d="M553.8 656.5 Q550.8 663.5 551.8 669" stroke="#cbcbcb" stroke-width="2.5" stroke-linecap="round" fill="none"/>
<ellipse cx="551.8" cy="670" rx="1.8" ry="2.4" fill="#cfcfcf"/>
<path d="M554.3 621 L549.3 617" stroke="#d8d8d8" stroke-width="3.4" stroke-linecap="round" fill="none"/>
<path d="M570.8 656.5 Q573.8 663.5 572.8 669" stroke="#cbcbcb" stroke-width="2.5" stroke-linecap="round" fill="none"/>
<ellipse cx="572.8" cy="670" rx="1.8" ry="2.4" fill="#cfcfcf"/>
<path d="M570.3 621 L575.3 617" stroke="#d8d8d8" stroke-width="3.4" stroke-linecap="round" fill="none"/>
<path d="M562.3 605 C563.17 605,564.13 604.88,564.9 605.3 C565.67 605.72,566.4 606.55,566.9 607.5 C567.4 608.45,567.42 609.75,567.9 611 C568.38 612.25,569.03 613.75,569.8 615 C570.57 616.25,571.87 617,572.5 618.5 C573.13 620,573.37 621.25,573.6 624 C573.83 626.75,573.82 630.58,573.9 635 C573.98 639.42,574.17 646.75,574.1 650.5 C574.03 654.25,574.47 655.83,573.5 657.5 C572.53 659.17,570.17 659.95,568.3 660.5 C566.43 661.05,564.3 660.8,562.3 660.8 C560.3 660.8,558.17 661.05,556.3 660.5 C554.43 659.95,552.07 659.17,551.1 657.5 C550.13 655.83,550.57 654.25,550.5 650.5 C550.43 646.75,550.62 639.42,550.7 635 C550.78 630.58,550.77 626.75,551 624 C551.23 621.25,551.47 620,552.1 618.5 C552.73 617,554.03 616.25,554.8 615 C555.57 613.75,556.22 612.25,556.7 611 C557.18 609.75,557.2 608.45,557.7 607.5 C558.2 606.55,558.93 605.72,559.7 605.3 C560.47 604.88,561.43 605,562.3 605 Z" fill="url(#mg)"/>
</g>
<g filter="url(#soft)">
<line x1="587.4" y1="658.5" x2="587.4" y2="684" stroke="#e4e4e4" stroke-width="2.1"/>
<path d="M578.9 656.5 Q575.9 663.5 576.9 669" stroke="#cbcbcb" stroke-width="2.5" stroke-linecap="round" fill="none"/>
<ellipse cx="576.9" cy="670" rx="1.8" ry="2.4" fill="#cfcfcf"/>
<path d="M579.4 621 L574.4 617" stroke="#d8d8d8" stroke-width="3.4" stroke-linecap="round" fill="none"/>
<path d="M595.9 656.5 Q598.9 663.5 597.9 669" stroke="#cbcbcb" stroke-width="2.5" stroke-linecap="round" fill="none"/>
<ellipse cx="597.9" cy="670" rx="1.8" ry="2.4" fill="#cfcfcf"/>
<path d="M595.4 621 L600.4 617" stroke="#d8d8d8" stroke-width="3.4" stroke-linecap="round" fill="none"/>
<path d="M587.4 605 C588.27 605,589.23 604.88,590 605.3 C590.77 605.72,591.5 606.55,592 607.5 C592.5 608.45,592.52 609.75,593 611 C593.48 612.25,594.13 613.75,594.9 615 C595.67 616.25,596.97 617,597.6 618.5 C598.23 620,598.47 621.25,598.7 624 C598.93 626.75,598.92 630.58,599 635 C599.08 639.42,599.27 646.75,599.2 650.5 C599.13 654.25,599.57 655.83,598.6 657.5 C597.63 659.17,595.27 659.95,593.4 660.5 C591.53 661.05,589.4 660.8,587.4 660.8 C585.4 660.8,583.27 661.05,581.4 660.5 C579.53 659.95,577.17 659.17,576.2 657.5 C575.23 655.83,575.67 654.25,575.6 650.5 C575.53 646.75,575.72 639.42,575.8 635 C575.88 630.58,575.87 626.75,576.1 624 C576.33 621.25,576.57 620,577.2 618.5 C577.83 617,579.13 616.25,579.9 615 C580.67 613.75,581.32 612.25,581.8 611 C582.28 609.75,582.3 608.45,582.8 607.5 C583.3 606.55,584.03 605.72,584.8 605.3 C585.57 604.88,586.53 605,587.4 605 Z" fill="url(#mg)"/>
</g>
<g filter="url(#soft)">
<line x1="615.9" y1="658.5" x2="615.9" y2="684" stroke="#e4e4e4" stroke-width="2.1"/>
<path d="M607.4 656.5 Q604.4 663.5 605.4 669" stroke="#cbcbcb" stroke-width="2.5" stroke-linecap="round" fill="none"/>
<ellipse cx="605.4" cy="670" rx="1.8" ry="2.4" fill="#cfcfcf"/>
<path d="M607.9 621 L602.9 617" stroke="#d8d8d8" stroke-width="3.4" stroke-linecap="round" fill="none"/>
<path d="M624.4 656.5 Q627.4 663.5 626.4 669" stroke="#cbcbcb" stroke-width="2.5" stroke-linecap="round" fill="none"/>
<ellipse cx="626.4" cy="670" rx="1.8" ry="2.4" fill="#cfcfcf"/>
<path d="M623.9 621 L628.9 617" stroke="#d8d8d8" stroke-width="3.4" stroke-linecap="round" fill="none"/>
<path d="M615.9 605 C616.77 605,617.73 604.88,618.5 605.3 C619.27 605.72,620 606.55,620.5 607.5 C621 608.45,621.02 609.75,621.5 611 C621.98 612.25,622.63 613.75,623.4 615 C624.17 616.25,625.47 617,626.1 618.5 C626.73 620,626.97 621.25,627.2 624 C627.43 626.75,627.42 630.58,627.5 635 C627.58 639.42,627.77 646.75,627.7 650.5 C627.63 654.25,628.07 655.83,627.1 657.5 C626.13 659.17,623.77 659.95,621.9 660.5 C620.03 661.05,617.9 660.8,615.9 660.8 C613.9 660.8,611.77 661.05,609.9 660.5 C608.03 659.95,605.67 659.17,604.7 657.5 C603.73 655.83,604.17 654.25,604.1 650.5 C604.03 646.75,604.22 639.42,604.3 635 C604.38 630.58,604.37 626.75,604.6 624 C604.83 621.25,605.07 620,605.7 618.5 C606.33 617,607.63 616.25,608.4 615 C609.17 613.75,609.82 612.25,610.3 611 C610.78 609.75,610.8 608.45,611.3 607.5 C611.8 606.55,612.53 605.72,613.3 605.3 C614.07 604.88,615.03 605,615.9 605 Z" fill="url(#mg)"/>
</g>
<g filter="url(#soft)">
<line x1="77" y1="744.5" x2="77" y2="768.4" stroke="#e4e4e4" stroke-width="2.1"/>
<path d="M68.5 742.5 Q65.5 749.5 66.5 755" stroke="#cbcbcb" stroke-width="2.5" stroke-linecap="round" fill="none"/>
<ellipse cx="66.5" cy="756" rx="1.8" ry="2.4" fill="#cfcfcf"/>
<path d="M69 712 L64 708" stroke="#d8d8d8" stroke-width="3.4" stroke-linecap="round" fill="none"/>
<path d="M85.5 742.5 Q88.5 749.5 87.5 755" stroke="#cbcbcb" stroke-width="2.5" stroke-linecap="round" fill="none"/>
<ellipse cx="87.5" cy="756" rx="1.8" ry="2.4" fill="#cfcfcf"/>
<path d="M85 712 L90 708" stroke="#d8d8d8" stroke-width="3.4" stroke-linecap="round" fill="none"/>
<path d="M77 696 C77.87 696,78.83 695.88,79.6 696.3 C80.37 696.72,81.1 697.55,81.6 698.5 C82.1 699.45,82.12 700.75,82.6 702 C83.08 703.25,83.73 704.75,84.5 706 C85.27 707.25,86.57 708,87.2 709.5 C87.83 711,88.07 712.25,88.3 715 C88.53 717.75,88.52 722.42,88.6 726 C88.68 729.58,88.87 733.58,88.8 736.5 C88.73 739.42,89.17 741.83,88.2 743.5 C87.23 745.17,84.87 745.95,83 746.5 C81.13 747.05,79 746.8,77 746.8 C75 746.8,72.87 747.05,71 746.5 C69.13 745.95,66.77 745.17,65.8 743.5 C64.83 741.83,65.27 739.42,65.2 736.5 C65.13 733.58,65.32 729.58,65.4 726 C65.48 722.42,65.47 717.75,65.7 715 C65.93 712.25,66.17 711,66.8 709.5 C67.43 708,68.73 707.25,69.5 706 C70.27 704.75,70.92 703.25,71.4 702 C71.88 700.75,71.9 699.45,72.4 698.5 C72.9 697.55,73.63 696.72,74.4 696.3 C75.17 695.88,76.13 696,77 696 Z" fill="url(#mg)"/>
</g>
<g filter="url(#soft)">
<line x1="106.4" y1="744.5" x2="106.4" y2="768.4" stroke="#e4e4e4" stroke-width="2.1"/>
<path d="M97.9 742.5 Q94.9 749.5 95.9 755" stroke="#cbcbcb" stroke-width="2.5" stroke-linecap="round" fill="none"/>
<ellipse cx="95.9" cy="756" rx="1.8" ry="2.4" fill="#cfcfcf"/>
<path d="M98.4 712 L93.4 708" stroke="#d8d8d8" stroke-width="3.4" stroke-linecap="round" fill="none"/>
<path d="M114.9 742.5 Q117.9 749.5 116.9 755" stroke="#cbcbcb" stroke-width="2.5" stroke-linecap="round" fill="none"/>
<ellipse cx="116.9" cy="756" rx="1.8" ry="2.4" fill="#cfcfcf"/>
<path d="M114.4 712 L119.4 708" stroke="#d8d8d8" stroke-width="3.4" stroke-linecap="round" fill="none"/>
<path d="M106.4 696 C107.27 696,108.23 695.88,109 696.3 C109.77 696.72,110.5 697.55,111 698.5 C111.5 699.45,111.52 700.75,112 702 C112.48 703.25,113.13 704.75,113.9 706 C114.67 707.25,115.97 708,116.6 709.5 C117.23 711,117.47 712.25,117.7 715 C117.93 717.75,117.92 722.42,118 726 C118.08 729.58,118.27 733.58,118.2 736.5 C118.13 739.42,118.57 741.83,117.6 743.5 C116.63 745.17,114.27 745.95,112.4 746.5 C110.53 747.05,108.4 746.8,106.4 746.8 C104.4 746.8,102.27 747.05,100.4 746.5 C98.53 745.95,96.17 745.17,95.2 743.5 C94.23 741.83,94.67 739.42,94.6 736.5 C94.53 733.58,94.72 729.58,94.8 726 C94.88 722.42,94.87 717.75,95.1 715 C95.33 712.25,95.57 711,96.2 709.5 C96.83 708,98.13 707.25,98.9 706 C99.67 704.75,100.32 703.25,100.8 702 C101.28 700.75,101.3 699.45,101.8 698.5 C102.3 697.55,103.03 696.72,103.8 696.3 C104.57 695.88,105.53 696,106.4 696 Z" fill="url(#mg)"/>
</g>
<g filter="url(#soft)">
<line x1="135.8" y1="744.5" x2="135.8" y2="768.4" stroke="#e4e4e4" stroke-width="2.1"/>
<path d="M127.3 742.5 Q124.3 749.5 125.3 755" stroke="#cbcbcb" stroke-width="2.5" stroke-linecap="round" fill="none"/>
<ellipse cx="125.3" cy="756" rx="1.8" ry="2.4" fill="#cfcfcf"/>
<path d="M127.8 712 L122.8 708" stroke="#d8d8d8" stroke-width="3.4" stroke-linecap="round" fill="none"/>
<path d="M144.3 742.5 Q147.3 749.5 146.3 755" stroke="#cbcbcb" stroke-width="2.5" stroke-linecap="round" fill="none"/>
<ellipse cx="146.3" cy="756" rx="1.8" ry="2.4" fill="#cfcfcf"/>
<path d="M143.8 712 L148.8 708" stroke="#d8d8d8" stroke-width="3.4" stroke-linecap="round" fill="none"/>
<path d="M135.8 696 C136.67 696,137.63 695.88,138.4 696.3 C139.17 696.72,139.9 697.55,140.4 698.5 C140.9 699.45,140.92 700.75,141.4 702 C141.88 703.25,142.53 704.75,143.3 706 C144.07 707.25,145.37 708,146 709.5 C146.63 711,146.87 712.25,147.1 715 C147.33 717.75,147.32 722.42,147.4 726 C147.48 729.58,147.67 733.58,147.6 736.5 C147.53 739.42,147.97 741.83,147 743.5 C146.03 745.17,143.67 745.95,141.8 746.5 C139.93 747.05,137.8 746.8,135.8 746.8 C133.8 746.8,131.67 747.05,129.8 746.5 C127.93 745.95,125.57 745.17,124.6 743.5 C123.63 741.83,124.07 739.42,124 736.5 C123.93 733.58,124.12 729.58,124.2 726 C124.28 722.42,124.27 717.75,124.5 715 C124.73 712.25,124.97 711,125.6 709.5 C126.23 708,127.53 707.25,128.3 706 C129.07 704.75,129.72 703.25,130.2 702 C130.68 700.75,130.7 699.45,131.2 698.5 C131.7 697.55,132.43 696.72,133.2 696.3 C133.97 695.88,134.93 696,135.8 696 Z" fill="url(#mg)"/>
</g>
<g filter="url(#soft)">
<line x1="164.1" y1="744.5" x2="164.1" y2="768.4" stroke="#e4e4e4" stroke-width="2.1"/>
<path d="M155.6 742.5 Q152.6 749.5 153.6 755" stroke="#cbcbcb" stroke-width="2.5" stroke-linecap="round" fill="none"/>
<ellipse cx="153.6" cy="756" rx="1.8" ry="2.4" fill="#cfcfcf"/>
<path d="M156.1 712 L151.1 708" stroke="#d8d8d8" stroke-width="3.4" stroke-linecap="round" fill="none"/>
<path d="M172.6 742.5 Q175.6 749.5 174.6 755" stroke="#cbcbcb" stroke-width="2.5" stroke-linecap="round" fill="none"/>
<ellipse cx="174.6" cy="756" rx="1.8" ry="2.4" fill="#cfcfcf"/>
<path d="M172.1 712 L177.1 708" stroke="#d8d8d8" stroke-width="3.4" stroke-linecap="round" fill="none"/>
<path d="M164.1 696 C164.97 696,165.93 695.88,166.7 696.3 C167.47 696.72,168.2 697.55,168.7 698.5 C169.2 699.45,169.22 700.75,169.7 702 C170.18 703.25,170.83 704.75,171.6 706 C172.37 707.25,173.67 708,174.3 709.5 C174.93 711,175.17 712.25,175.4 715 C175.63 717.75,175.62 722.42,175.7 726 C175.78 729.58,175.97 733.58,175.9 736.5 C175.83 739.42,176.27 741.83,175.3 743.5 C174.33 745.17,171.97 745.95,170.1 746.5 C168.23 747.05,166.1 746.8,164.1 746.8 C162.1 746.8,159.97 747.05,158.1 746.5 C156.23 745.95,153.87 745.17,152.9 743.5 C151.93 741.83,152.37 739.42,152.3 736.5 C152.23 733.58,152.42 729.58,152.5 726 C152.58 722.42,152.57 717.75,152.8 715 C153.03 712.25,153.27 711,153.9 709.5 C154.53 708,155.83 707.25,156.6 706 C157.37 704.75,158.02 703.25,158.5 702 C158.98 700.75,159 699.45,159.5 698.5 C160 697.55,160.73 696.72,161.5 696.3 C162.27 695.88,163.23 696,164.1 696 Z" fill="url(#mg)"/>
</g>
<g filter="url(#soft)">
<line x1="191.2" y1="744.5" x2="191.2" y2="768.4" stroke="#e4e4e4" stroke-width="2.1"/>
<path d="M182.7 742.5 Q179.7 749.5 180.7 755" stroke="#cbcbcb" stroke-width="2.5" stroke-linecap="round" fill="none"/>
<ellipse cx="180.7" cy="756" rx="1.8" ry="2.4" fill="#cfcfcf"/>
<path d="M183.2 712 L178.2 708" stroke="#d8d8d8" stroke-width="3.4" stroke-linecap="round" fill="none"/>
<path d="M199.7 742.5 Q202.7 749.5 201.7 755" stroke="#cbcbcb" stroke-width="2.5" stroke-linecap="round" fill="none"/>
<ellipse cx="201.7" cy="756" rx="1.8" ry="2.4" fill="#cfcfcf"/>
<path d="M199.2 712 L204.2 708" stroke="#d8d8d8" stroke-width="3.4" stroke-linecap="round" fill="none"/>
<path d="M191.2 696 C192.07 696,193.03 695.88,193.8 696.3 C194.57 696.72,195.3 697.55,195.8 698.5 C196.3 699.45,196.32 700.75,196.8 702 C197.28 703.25,197.93 704.75,198.7 706 C199.47 707.25,200.77 708,201.4 709.5 C202.03 711,202.27 712.25,202.5 715 C202.73 717.75,202.72 722.42,202.8 726 C202.88 729.58,203.07 733.58,203 736.5 C202.93 739.42,203.37 741.83,202.4 743.5 C201.43 745.17,199.07 745.95,197.2 746.5 C195.33 747.05,193.2 746.8,191.2 746.8 C189.2 746.8,187.07 747.05,185.2 746.5 C183.33 745.95,180.97 745.17,180 743.5 C179.03 741.83,179.47 739.42,179.4 736.5 C179.33 733.58,179.52 729.58,179.6 726 C179.68 722.42,179.67 717.75,179.9 715 C180.13 712.25,180.37 711,181 709.5 C181.63 708,182.93 707.25,183.7 706 C184.47 704.75,185.12 703.25,185.6 702 C186.08 700.75,186.1 699.45,186.6 698.5 C187.1 697.55,187.83 696.72,188.6 696.3 C189.37 695.88,190.33 696,191.2 696 Z" fill="url(#mg)"/>
</g>
<g filter="url(#soft)">
<line x1="228" y1="744.5" x2="228" y2="768.4" stroke="#e4e4e4" stroke-width="2.1"/>
<path d="M219.5 742.5 Q216.5 749.5 217.5 755" stroke="#cbcbcb" stroke-width="2.5" stroke-linecap="round" fill="none"/>
<ellipse cx="217.5" cy="756" rx="1.8" ry="2.4" fill="#cfcfcf"/>
<path d="M220 712 L215 708" stroke="#d8d8d8" stroke-width="3.4" stroke-linecap="round" fill="none"/>
<path d="M236.5 742.5 Q239.5 749.5 238.5 755" stroke="#cbcbcb" stroke-width="2.5" stroke-linecap="round" fill="none"/>
<ellipse cx="238.5" cy="756" rx="1.8" ry="2.4" fill="#cfcfcf"/>
<path d="M236 712 L241 708" stroke="#d8d8d8" stroke-width="3.4" stroke-linecap="round" fill="none"/>
<path d="M228 696 C228.87 696,229.83 695.88,230.6 696.3 C231.37 696.72,232.1 697.55,232.6 698.5 C233.1 699.45,233.12 700.75,233.6 702 C234.08 703.25,234.73 704.75,235.5 706 C236.27 707.25,237.57 708,238.2 709.5 C238.83 711,239.07 712.25,239.3 715 C239.53 717.75,239.52 722.42,239.6 726 C239.68 729.58,239.87 733.58,239.8 736.5 C239.73 739.42,240.17 741.83,239.2 743.5 C238.23 745.17,235.87 745.95,234 746.5 C232.13 747.05,230 746.8,228 746.8 C226 746.8,223.87 747.05,222 746.5 C220.13 745.95,217.77 745.17,216.8 743.5 C215.83 741.83,216.27 739.42,216.2 736.5 C216.13 733.58,216.32 729.58,216.4 726 C216.48 722.42,216.47 717.75,216.7 715 C216.93 712.25,217.17 711,217.8 709.5 C218.43 708,219.73 707.25,220.5 706 C221.27 704.75,221.92 703.25,222.4 702 C222.88 700.75,222.9 699.45,223.4 698.5 C223.9 697.55,224.63 696.72,225.4 696.3 C226.17 695.88,227.13 696,228 696 Z" fill="url(#mg)"/>
</g>
<g filter="url(#soft)">
<line x1="261.2" y1="744.5" x2="261.2" y2="768.4" stroke="#e4e4e4" stroke-width="2.1"/>
<path d="M252.7 742.5 Q249.7 749.5 250.7 755" stroke="#cbcbcb" stroke-width="2.5" stroke-linecap="round" fill="none"/>
<ellipse cx="250.7" cy="756" rx="1.8" ry="2.4" fill="#cfcfcf"/>
<path d="M253.2 712 L248.2 708" stroke="#d8d8d8" stroke-width="3.4" stroke-linecap="round" fill="none"/>
<path d="M269.7 742.5 Q272.7 749.5 271.7 755" stroke="#cbcbcb" stroke-width="2.5" stroke-linecap="round" fill="none"/>
<ellipse cx="271.7" cy="756" rx="1.8" ry="2.4" fill="#cfcfcf"/>
<path d="M269.2 712 L274.2 708" stroke="#d8d8d8" stroke-width="3.4" stroke-linecap="round" fill="none"/>
<path d="M261.2 696 C262.07 696,263.03 695.88,263.8 696.3 C264.57 696.72,265.3 697.55,265.8 698.5 C266.3 699.45,266.32 700.75,266.8 702 C267.28 703.25,267.93 704.75,268.7 706 C269.47 707.25,270.77 708,271.4 709.5 C272.03 711,272.27 712.25,272.5 715 C272.73 717.75,272.72 722.42,272.8 726 C272.88 729.58,273.07 733.58,273 736.5 C272.93 739.42,273.37 741.83,272.4 743.5 C271.43 745.17,269.07 745.95,267.2 746.5 C265.33 747.05,263.2 746.8,261.2 746.8 C259.2 746.8,257.07 747.05,255.2 746.5 C253.33 745.95,250.97 745.17,250 743.5 C249.03 741.83,249.47 739.42,249.4 736.5 C249.33 733.58,249.52 729.58,249.6 726 C249.68 722.42,249.67 717.75,249.9 715 C250.13 712.25,250.37 711,251 709.5 C251.63 708,252.93 707.25,253.7 706 C254.47 704.75,255.12 703.25,255.6 702 C256.08 700.75,256.1 699.45,256.6 698.5 C257.1 697.55,257.83 696.72,258.6 696.3 C259.37 695.88,260.33 696,261.2 696 Z" fill="url(#mg)"/>
</g>
<g filter="url(#soft)">
<line x1="287.8" y1="744.5" x2="287.8" y2="768.4" stroke="#e4e4e4" stroke-width="2.1"/>
<path d="M279.3 742.5 Q276.3 749.5 277.3 755" stroke="#cbcbcb" stroke-width="2.5" stroke-linecap="round" fill="none"/>
<ellipse cx="277.3" cy="756" rx="1.8" ry="2.4" fill="#cfcfcf"/>
<path d="M279.8 712 L274.8 708" stroke="#d8d8d8" stroke-width="3.4" stroke-linecap="round" fill="none"/>
<path d="M296.3 742.5 Q299.3 749.5 298.3 755" stroke="#cbcbcb" stroke-width="2.5" stroke-linecap="round" fill="none"/>
<ellipse cx="298.3" cy="756" rx="1.8" ry="2.4" fill="#cfcfcf"/>
<path d="M295.8 712 L300.8 708" stroke="#d8d8d8" stroke-width="3.4" stroke-linecap="round" fill="none"/>
<path d="M287.8 696 C288.67 696,289.63 695.88,290.4 696.3 C291.17 696.72,291.9 697.55,292.4 698.5 C292.9 699.45,292.92 700.75,293.4 702 C293.88 703.25,294.53 704.75,295.3 706 C296.07 707.25,297.37 708,298 709.5 C298.63 711,298.87 712.25,299.1 715 C299.33 717.75,299.32 722.42,299.4 726 C299.48 729.58,299.67 733.58,299.6 736.5 C299.53 739.42,299.97 741.83,299 743.5 C298.03 745.17,295.67 745.95,293.8 746.5 C291.93 747.05,289.8 746.8,287.8 746.8 C285.8 746.8,283.67 747.05,281.8 746.5 C279.93 745.95,277.57 745.17,276.6 743.5 C275.63 741.83,276.07 739.42,276 736.5 C275.93 733.58,276.12 729.58,276.2 726 C276.28 722.42,276.27 717.75,276.5 715 C276.73 712.25,276.97 711,277.6 709.5 C278.23 708,279.53 707.25,280.3 706 C281.07 704.75,281.72 703.25,282.2 702 C282.68 700.75,282.7 699.45,283.2 698.5 C283.7 697.55,284.43 696.72,285.2 696.3 C285.97 695.88,286.93 696,287.8 696 Z" fill="url(#mg)"/>
</g>
<g filter="url(#soft)">
<line x1="318.2" y1="744.5" x2="318.2" y2="768.4" stroke="#e4e4e4" stroke-width="2.1"/>
<path d="M309.7 742.5 Q306.7 749.5 307.7 755" stroke="#cbcbcb" stroke-width="2.5" stroke-linecap="round" fill="none"/>
<ellipse cx="307.7" cy="756" rx="1.8" ry="2.4" fill="#cfcfcf"/>
<path d="M310.2 712 L305.2 708" stroke="#d8d8d8" stroke-width="3.4" stroke-linecap="round" fill="none"/>
<path d="M326.7 742.5 Q329.7 749.5 328.7 755" stroke="#cbcbcb" stroke-width="2.5" stroke-linecap="round" fill="none"/>
<ellipse cx="328.7" cy="756" rx="1.8" ry="2.4" fill="#cfcfcf"/>
<path d="M326.2 712 L331.2 708" stroke="#d8d8d8" stroke-width="3.4" stroke-linecap="round" fill="none"/>
<path d="M318.2 696 C319.07 696,320.03 695.88,320.8 696.3 C321.57 696.72,322.3 697.55,322.8 698.5 C323.3 699.45,323.32 700.75,323.8 702 C324.28 703.25,324.93 704.75,325.7 706 C326.47 707.25,327.77 708,328.4 709.5 C329.03 711,329.27 712.25,329.5 715 C329.73 717.75,329.72 722.42,329.8 726 C329.88 729.58,330.07 733.58,330 736.5 C329.93 739.42,330.37 741.83,329.4 743.5 C328.43 745.17,326.07 745.95,324.2 746.5 C322.33 747.05,320.2 746.8,318.2 746.8 C316.2 746.8,314.07 747.05,312.2 746.5 C310.33 745.95,307.97 745.17,307 743.5 C306.03 741.83,306.47 739.42,306.4 736.5 C306.33 733.58,306.52 729.58,306.6 726 C306.68 722.42,306.67 717.75,306.9 715 C307.13 712.25,307.37 711,308 709.5 C308.63 708,309.93 707.25,310.7 706 C311.47 704.75,312.12 703.25,312.6 702 C313.08 700.75,313.1 699.45,313.6 698.5 C314.1 697.55,314.83 696.72,315.6 696.3 C316.37 695.88,317.33 696,318.2 696 Z" fill="url(#mg)"/>
</g>
<g filter="url(#soft)">
<line x1="356.2" y1="744.5" x2="356.2" y2="768.4" stroke="#e4e4e4" stroke-width="2.1"/>
<path d="M347.7 742.5 Q344.7 749.5 345.7 755" stroke="#cbcbcb" stroke-width="2.5" stroke-linecap="round" fill="none"/>
<ellipse cx="345.7" cy="756" rx="1.8" ry="2.4" fill="#cfcfcf"/>
<path d="M348.2 712 L343.2 708" stroke="#d8d8d8" stroke-width="3.4" stroke-linecap="round" fill="none"/>
<path d="M364.7 742.5 Q367.7 749.5 366.7 755" stroke="#cbcbcb" stroke-width="2.5" stroke-linecap="round" fill="none"/>
<ellipse cx="366.7" cy="756" rx="1.8" ry="2.4" fill="#cfcfcf"/>
<path d="M364.2 712 L369.2 708" stroke="#d8d8d8" stroke-width="3.4" stroke-linecap="round" fill="none"/>
<path d="M356.2 696 C357.07 696,358.03 695.88,358.8 696.3 C359.57 696.72,360.3 697.55,360.8 698.5 C361.3 699.45,361.32 700.75,361.8 702 C362.28 703.25,362.93 704.75,363.7 706 C364.47 707.25,365.77 708,366.4 709.5 C367.03 711,367.27 712.25,367.5 715 C367.73 717.75,367.72 722.42,367.8 726 C367.88 729.58,368.07 733.58,368 736.5 C367.93 739.42,368.37 741.83,367.4 743.5 C366.43 745.17,364.07 745.95,362.2 746.5 C360.33 747.05,358.2 746.8,356.2 746.8 C354.2 746.8,352.07 747.05,350.2 746.5 C348.33 745.95,345.97 745.17,345 743.5 C344.03 741.83,344.47 739.42,344.4 736.5 C344.33 733.58,344.52 729.58,344.6 726 C344.68 722.42,344.67 717.75,344.9 715 C345.13 712.25,345.37 711,346 709.5 C346.63 708,347.93 707.25,348.7 706 C349.47 704.75,350.12 703.25,350.6 702 C351.08 700.75,351.1 699.45,351.6 698.5 C352.1 697.55,352.83 696.72,353.6 696.3 C354.37 695.88,355.33 696,356.2 696 Z" fill="url(#mg)"/>
</g>
<g filter="url(#soft)">
<line x1="386.8" y1="744.5" x2="386.8" y2="768.4" stroke="#e4e4e4" stroke-width="2.1"/>
<path d="M378.3 742.5 Q375.3 749.5 376.3 755" stroke="#cbcbcb" stroke-width="2.5" stroke-linecap="round" fill="none"/>
<ellipse cx="376.3" cy="756" rx="1.8" ry="2.4" fill="#cfcfcf"/>
<path d="M378.8 712 L373.8 708" stroke="#d8d8d8" stroke-width="3.4" stroke-linecap="round" fill="none"/>
<path d="M395.3 742.5 Q398.3 749.5 397.3 755" stroke="#cbcbcb" stroke-width="2.5" stroke-linecap="round" fill="none"/>
<ellipse cx="397.3" cy="756" rx="1.8" ry="2.4" fill="#cfcfcf"/>
<path d="M394.8 712 L399.8 708" stroke="#d8d8d8" stroke-width="3.4" stroke-linecap="round" fill="none"/>
<path d="M386.8 696 C387.67 696,388.63 695.88,389.4 696.3 C390.17 696.72,390.9 697.55,391.4 698.5 C391.9 699.45,391.92 700.75,392.4 702 C392.88 703.25,393.53 704.75,394.3 706 C395.07 707.25,396.37 708,397 709.5 C397.63 711,397.87 712.25,398.1 715 C398.33 717.75,398.32 722.42,398.4 726 C398.48 729.58,398.67 733.58,398.6 736.5 C398.53 739.42,398.97 741.83,398 743.5 C397.03 745.17,394.67 745.95,392.8 746.5 C390.93 747.05,388.8 746.8,386.8 746.8 C384.8 746.8,382.67 747.05,380.8 746.5 C378.93 745.95,376.57 745.17,375.6 743.5 C374.63 741.83,375.07 739.42,375 736.5 C374.93 733.58,375.12 729.58,375.2 726 C375.28 722.42,375.27 717.75,375.5 715 C375.73 712.25,375.97 711,376.6 709.5 C377.23 708,378.53 707.25,379.3 706 C380.07 704.75,380.72 703.25,381.2 702 C381.68 700.75,381.7 699.45,382.2 698.5 C382.7 697.55,383.43 696.72,384.2 696.3 C384.97 695.88,385.93 696,386.8 696 Z" fill="url(#mg)"/>
</g>
<g filter="url(#soft)">
<line x1="417.3" y1="744.5" x2="417.3" y2="768.4" stroke="#e4e4e4" stroke-width="2.1"/>
<path d="M408.8 742.5 Q405.8 749.5 406.8 755" stroke="#cbcbcb" stroke-width="2.5" stroke-linecap="round" fill="none"/>
<ellipse cx="406.8" cy="756" rx="1.8" ry="2.4" fill="#cfcfcf"/>
<path d="M409.3 712 L404.3 708" stroke="#d8d8d8" stroke-width="3.4" stroke-linecap="round" fill="none"/>
<path d="M425.8 742.5 Q428.8 749.5 427.8 755" stroke="#cbcbcb" stroke-width="2.5" stroke-linecap="round" fill="none"/>
<ellipse cx="427.8" cy="756" rx="1.8" ry="2.4" fill="#cfcfcf"/>
<path d="M425.3 712 L430.3 708" stroke="#d8d8d8" stroke-width="3.4" stroke-linecap="round" fill="none"/>
<path d="M417.3 696 C418.17 696,419.13 695.88,419.9 696.3 C420.67 696.72,421.4 697.55,421.9 698.5 C422.4 699.45,422.42 700.75,422.9 702 C423.38 703.25,424.03 704.75,424.8 706 C425.57 707.25,426.87 708,427.5 709.5 C428.13 711,428.37 712.25,428.6 715 C428.83 717.75,428.82 722.42,428.9 726 C428.98 729.58,429.17 733.58,429.1 736.5 C429.03 739.42,429.47 741.83,428.5 743.5 C427.53 745.17,425.17 745.95,423.3 746.5 C421.43 747.05,419.3 746.8,417.3 746.8 C415.3 746.8,413.17 747.05,411.3 746.5 C409.43 745.95,407.07 745.17,406.1 743.5 C405.13 741.83,405.57 739.42,405.5 736.5 C405.43 733.58,405.62 729.58,405.7 726 C405.78 722.42,405.77 717.75,406 715 C406.23 712.25,406.47 711,407.1 709.5 C407.73 708,409.03 707.25,409.8 706 C410.57 704.75,411.22 703.25,411.7 702 C412.18 700.75,412.2 699.45,412.7 698.5 C413.2 697.55,413.93 696.72,414.7 696.3 C415.47 695.88,416.43 696,417.3 696 Z" fill="url(#mg)"/>
</g>
<g filter="url(#soft)">
<line x1="473.9" y1="744.5" x2="473.9" y2="768.4" stroke="#e4e4e4" stroke-width="2.1"/>
<path d="M465.4 742.5 Q462.4 749.5 463.4 755" stroke="#cbcbcb" stroke-width="2.5" stroke-linecap="round" fill="none"/>
<ellipse cx="463.4" cy="756" rx="1.8" ry="2.4" fill="#cfcfcf"/>
<path d="M465.9 712 L460.9 708" stroke="#d8d8d8" stroke-width="3.4" stroke-linecap="round" fill="none"/>
<path d="M482.4 742.5 Q485.4 749.5 484.4 755" stroke="#cbcbcb" stroke-width="2.5" stroke-linecap="round" fill="none"/>
<ellipse cx="484.4" cy="756" rx="1.8" ry="2.4" fill="#cfcfcf"/>
<path d="M481.9 712 L486.9 708" stroke="#d8d8d8" stroke-width="3.4" stroke-linecap="round" fill="none"/>
<path d="M473.9 696 C474.77 696,475.73 695.88,476.5 696.3 C477.27 696.72,478 697.55,478.5 698.5 C479 699.45,479.02 700.75,479.5 702 C479.98 703.25,480.63 704.75,481.4 706 C482.17 707.25,483.47 708,484.1 709.5 C484.73 711,484.97 712.25,485.2 715 C485.43 717.75,485.42 722.42,485.5 726 C485.58 729.58,485.77 733.58,485.7 736.5 C485.63 739.42,486.07 741.83,485.1 743.5 C484.13 745.17,481.77 745.95,479.9 746.5 C478.03 747.05,475.9 746.8,473.9 746.8 C471.9 746.8,469.77 747.05,467.9 746.5 C466.03 745.95,463.67 745.17,462.7 743.5 C461.73 741.83,462.17 739.42,462.1 736.5 C462.03 733.58,462.22 729.58,462.3 726 C462.38 722.42,462.37 717.75,462.6 715 C462.83 712.25,463.07 711,463.7 709.5 C464.33 708,465.63 707.25,466.4 706 C467.17 704.75,467.82 703.25,468.3 702 C468.78 700.75,468.8 699.45,469.3 698.5 C469.8 697.55,470.53 696.72,471.3 696.3 C472.07 695.88,473.03 696,473.9 696 Z" fill="url(#mg)"/>
</g>
<g filter="url(#soft)">
<line x1="509.7" y1="744.5" x2="509.7" y2="768.4" stroke="#e4e4e4" stroke-width="2.1"/>
<path d="M501.2 742.5 Q498.2 749.5 499.2 755" stroke="#cbcbcb" stroke-width="2.5" stroke-linecap="round" fill="none"/>
<ellipse cx="499.2" cy="756" rx="1.8" ry="2.4" fill="#cfcfcf"/>
<path d="M501.7 712 L496.7 708" stroke="#d8d8d8" stroke-width="3.4" stroke-linecap="round" fill="none"/>
<path d="M518.2 742.5 Q521.2 749.5 520.2 755" stroke="#cbcbcb" stroke-width="2.5" stroke-linecap="round" fill="none"/>
<ellipse cx="520.2" cy="756" rx="1.8" ry="2.4" fill="#cfcfcf"/>
<path d="M517.7 712 L522.7 708" stroke="#d8d8d8" stroke-width="3.4" stroke-linecap="round" fill="none"/>
<path d="M509.7 696 C510.57 696,511.53 695.88,512.3 696.3 C513.07 696.72,513.8 697.55,514.3 698.5 C514.8 699.45,514.82 700.75,515.3 702 C515.78 703.25,516.43 704.75,517.2 706 C517.97 707.25,519.27 708,519.9 709.5 C520.53 711,520.77 712.25,521 715 C521.23 717.75,521.22 722.42,521.3 726 C521.38 729.58,521.57 733.58,521.5 736.5 C521.43 739.42,521.87 741.83,520.9 743.5 C519.93 745.17,517.57 745.95,515.7 746.5 C513.83 747.05,511.7 746.8,509.7 746.8 C507.7 746.8,505.57 747.05,503.7 746.5 C501.83 745.95,499.47 745.17,498.5 743.5 C497.53 741.83,497.97 739.42,497.9 736.5 C497.83 733.58,498.02 729.58,498.1 726 C498.18 722.42,498.17 717.75,498.4 715 C498.63 712.25,498.87 711,499.5 709.5 C500.13 708,501.43 707.25,502.2 706 C502.97 704.75,503.62 703.25,504.1 702 C504.58 700.75,504.6 699.45,505.1 698.5 C505.6 697.55,506.33 696.72,507.1 696.3 C507.87 695.88,508.83 696,509.7 696 Z" fill="url(#mg)"/>
</g>
<g filter="url(#soft)">
<line x1="537.1" y1="744.5" x2="537.1" y2="768.4" stroke="#e4e4e4" stroke-width="2.1"/>
<path d="M528.6 742.5 Q525.6 749.5 526.6 755" stroke="#cbcbcb" stroke-width="2.5" stroke-linecap="round" fill="none"/>
<ellipse cx="526.6" cy="756" rx="1.8" ry="2.4" fill="#cfcfcf"/>
<path d="M529.1 712 L524.1 708" stroke="#d8d8d8" stroke-width="3.4" stroke-linecap="round" fill="none"/>
<path d="M545.6 742.5 Q548.6 749.5 547.6 755" stroke="#cbcbcb" stroke-width="2.5" stroke-linecap="round" fill="none"/>
<ellipse cx="547.6" cy="756" rx="1.8" ry="2.4" fill="#cfcfcf"/>
<path d="M545.1 712 L550.1 708" stroke="#d8d8d8" stroke-width="3.4" stroke-linecap="round" fill="none"/>
<path d="M537.1 696 C537.97 696,538.93 695.88,539.7 696.3 C540.47 696.72,541.2 697.55,541.7 698.5 C542.2 699.45,542.22 700.75,542.7 702 C543.18 703.25,543.83 704.75,544.6 706 C545.37 707.25,546.67 708,547.3 709.5 C547.93 711,548.17 712.25,548.4 715 C548.63 717.75,548.62 722.42,548.7 726 C548.78 729.58,548.97 733.58,548.9 736.5 C548.83 739.42,549.27 741.83,548.3 743.5 C547.33 745.17,544.97 745.95,543.1 746.5 C541.23 747.05,539.1 746.8,537.1 746.8 C535.1 746.8,532.97 747.05,531.1 746.5 C529.23 745.95,526.87 745.17,525.9 743.5 C524.93 741.83,525.37 739.42,525.3 736.5 C525.23 733.58,525.42 729.58,525.5 726 C525.58 722.42,525.57 717.75,525.8 715 C526.03 712.25,526.27 711,526.9 709.5 C527.53 708,528.83 707.25,529.6 706 C530.37 704.75,531.02 703.25,531.5 702 C531.98 700.75,532 699.45,532.5 698.5 C533 697.55,533.73 696.72,534.5 696.3 C535.27 695.88,536.23 696,537.1 696 Z" fill="url(#mg)"/>
</g>
<g filter="url(#soft)">
<line x1="565.5" y1="744.5" x2="565.5" y2="768.4" stroke="#e4e4e4" stroke-width="2.1"/>
<path d="M557 742.5 Q554 749.5 555 755" stroke="#cbcbcb" stroke-width="2.5" stroke-linecap="round" fill="none"/>
<ellipse cx="555" cy="756" rx="1.8" ry="2.4" fill="#cfcfcf"/>
<path d="M557.5 712 L552.5 708" stroke="#d8d8d8" stroke-width="3.4" stroke-linecap="round" fill="none"/>
<path d="M574 742.5 Q577 749.5 576 755" stroke="#cbcbcb" stroke-width="2.5" stroke-linecap="round" fill="none"/>
<ellipse cx="576" cy="756" rx="1.8" ry="2.4" fill="#cfcfcf"/>
<path d="M573.5 712 L578.5 708" stroke="#d8d8d8" stroke-width="3.4" stroke-linecap="round" fill="none"/>
<path d="M565.5 696 C566.37 696,567.33 695.88,568.1 696.3 C568.87 696.72,569.6 697.55,570.1 698.5 C570.6 699.45,570.62 700.75,571.1 702 C571.58 703.25,572.23 704.75,573 706 C573.77 707.25,575.07 708,575.7 709.5 C576.33 711,576.57 712.25,576.8 715 C577.03 717.75,577.02 722.42,577.1 726 C577.18 729.58,577.37 733.58,577.3 736.5 C577.23 739.42,577.67 741.83,576.7 743.5 C575.73 745.17,573.37 745.95,571.5 746.5 C569.63 747.05,567.5 746.8,565.5 746.8 C563.5 746.8,561.37 747.05,559.5 746.5 C557.63 745.95,555.27 745.17,554.3 743.5 C553.33 741.83,553.77 739.42,553.7 736.5 C553.63 733.58,553.82 729.58,553.9 726 C553.98 722.42,553.97 717.75,554.2 715 C554.43 712.25,554.67 711,555.3 709.5 C555.93 708,557.23 707.25,558 706 C558.77 704.75,559.42 703.25,559.9 702 C560.38 700.75,560.4 699.45,560.9 698.5 C561.4 697.55,562.13 696.72,562.9 696.3 C563.67 695.88,564.63 696,565.5 696 Z" fill="url(#mg)"/>
</g>
<g filter="url(#soft)">
<line x1="591.8" y1="744.5" x2="591.8" y2="768.4" stroke="#e4e4e4" stroke-width="2.1"/>
<path d="M583.3 742.5 Q580.3 749.5 581.3 755" stroke="#cbcbcb" stroke-width="2.5" stroke-linecap="round" fill="none"/>
<ellipse cx="581.3" cy="756" rx="1.8" ry="2.4" fill="#cfcfcf"/>
<path d="M583.8 712 L578.8 708" stroke="#d8d8d8" stroke-width="3.4" stroke-linecap="round" fill="none"/>
<path d="M600.3 742.5 Q603.3 749.5 602.3 755" stroke="#cbcbcb" stroke-width="2.5" stroke-linecap="round" fill="none"/>
<ellipse cx="602.3" cy="756" rx="1.8" ry="2.4" fill="#cfcfcf"/>
<path d="M599.8 712 L604.8 708" stroke="#d8d8d8" stroke-width="3.4" stroke-linecap="round" fill="none"/>
<path d="M591.8 696 C592.67 696,593.63 695.88,594.4 696.3 C595.17 696.72,595.9 697.55,596.4 698.5 C596.9 699.45,596.92 700.75,597.4 702 C597.88 703.25,598.53 704.75,599.3 706 C600.07 707.25,601.37 708,602 709.5 C602.63 711,602.87 712.25,603.1 715 C603.33 717.75,603.32 722.42,603.4 726 C603.48 729.58,603.67 733.58,603.6 736.5 C603.53 739.42,603.97 741.83,603 743.5 C602.03 745.17,599.67 745.95,597.8 746.5 C595.93 747.05,593.8 746.8,591.8 746.8 C589.8 746.8,587.67 747.05,585.8 746.5 C583.93 745.95,581.57 745.17,580.6 743.5 C579.63 741.83,580.07 739.42,580 736.5 C579.93 733.58,580.12 729.58,580.2 726 C580.28 722.42,580.27 717.75,580.5 715 C580.73 712.25,580.97 711,581.6 709.5 C582.23 708,583.53 707.25,584.3 706 C585.07 704.75,585.72 703.25,586.2 702 C586.68 700.75,586.7 699.45,587.2 698.5 C587.7 697.55,588.43 696.72,589.2 696.3 C589.97 695.88,590.93 696,591.8 696 Z" fill="url(#mg)"/>
</g>
<g filter="url(#soft)">
<line x1="619.2" y1="744.5" x2="619.2" y2="768.4" stroke="#e4e4e4" stroke-width="2.1"/>
<path d="M610.7 742.5 Q607.7 749.5 608.7 755" stroke="#cbcbcb" stroke-width="2.5" stroke-linecap="round" fill="none"/>
<ellipse cx="608.7" cy="756" rx="1.8" ry="2.4" fill="#cfcfcf"/>
<path d="M611.2 712 L606.2 708" stroke="#d8d8d8" stroke-width="3.4" stroke-linecap="round" fill="none"/>
<path d="M627.7 742.5 Q630.7 749.5 629.7 755" stroke="#cbcbcb" stroke-width="2.5" stroke-linecap="round" fill="none"/>
<ellipse cx="629.7" cy="756" rx="1.8" ry="2.4" fill="#cfcfcf"/>
<path d="M627.2 712 L632.2 708" stroke="#d8d8d8" stroke-width="3.4" stroke-linecap="round" fill="none"/>
<path d="M619.2 696 C620.07 696,621.03 695.88,621.8 696.3 C622.57 696.72,623.3 697.55,623.8 698.5 C624.3 699.45,624.32 700.75,624.8 702 C625.28 703.25,625.93 704.75,626.7 706 C627.47 707.25,628.77 708,629.4 709.5 C630.03 711,630.27 712.25,630.5 715 C630.73 717.75,630.72 722.42,630.8 726 C630.88 729.58,631.07 733.58,631 736.5 C630.93 739.42,631.37 741.83,630.4 743.5 C629.43 745.17,627.07 745.95,625.2 746.5 C623.33 747.05,621.2 746.8,619.2 746.8 C617.2 746.8,615.07 747.05,613.2 746.5 C611.33 745.95,608.97 745.17,608 743.5 C607.03 741.83,607.47 739.42,607.4 736.5 C607.33 733.58,607.52 729.58,607.6 726 C607.68 722.42,607.67 717.75,607.9 715 C608.13 712.25,608.37 711,609 709.5 C609.63 708,610.93 707.25,611.7 706 C612.47 704.75,613.12 703.25,613.6 702 C614.08 700.75,614.1 699.45,614.6 698.5 C615.1 697.55,615.83 696.72,616.6 696.3 C617.37 695.88,618.33 696,619.2 696 Z" fill="url(#mg)"/>
</g>
<g filter="url(#soft)">
<line x1="79.2" y1="829.5" x2="79.2" y2="854" stroke="#e4e4e4" stroke-width="2.1"/>
<path d="M70.7 827.5 Q67.7 834.5 68.7 839" stroke="#cbcbcb" stroke-width="2.5" stroke-linecap="round" fill="none"/>
<ellipse cx="68.7" cy="840" rx="1.8" ry="2.4" fill="#cfcfcf"/>
<path d="M71.2 796 L66.2 792" stroke="#d8d8d8" stroke-width="3.4" stroke-linecap="round" fill="none"/>
<path d="M87.7 827.5 Q90.7 834.5 89.7 839" stroke="#cbcbcb" stroke-width="2.5" stroke-linecap="round" fill="none"/>
<ellipse cx="89.7" cy="840" rx="1.8" ry="2.4" fill="#cfcfcf"/>
<path d="M87.2 796 L92.2 792" stroke="#d8d8d8" stroke-width="3.4" stroke-linecap="round" fill="none"/>
<path d="M79.2 780 C80.07 780,81.03 779.88,81.8 780.3 C82.57 780.72,83.3 781.55,83.8 782.5 C84.3 783.45,84.32 784.75,84.8 786 C85.28 787.25,85.93 788.75,86.7 790 C87.47 791.25,88.77 792,89.4 793.5 C90.03 795,90.27 796.25,90.5 799 C90.73 801.75,90.72 806.25,90.8 810 C90.88 813.75,91.07 818.42,91 821.5 C90.93 824.58,91.37 826.83,90.4 828.5 C89.43 830.17,87.07 830.95,85.2 831.5 C83.33 832.05,81.2 831.8,79.2 831.8 C77.2 831.8,75.07 832.05,73.2 831.5 C71.33 830.95,68.97 830.17,68 828.5 C67.03 826.83,67.47 824.58,67.4 821.5 C67.33 818.42,67.52 813.75,67.6 810 C67.68 806.25,67.67 801.75,67.9 799 C68.13 796.25,68.37 795,69 793.5 C69.63 792,70.93 791.25,71.7 790 C72.47 788.75,73.12 787.25,73.6 786 C74.08 784.75,74.1 783.45,74.6 782.5 C75.1 781.55,75.83 780.72,76.6 780.3 C77.37 779.88,78.33 780,79.2 780 Z" fill="url(#mg)"/>
</g>
<g filter="url(#soft)">
<line x1="167.5" y1="829.5" x2="167.5" y2="854" stroke="#e4e4e4" stroke-width="2.1"/>
<path d="M159 827.5 Q156 834.5 157 839" stroke="#cbcbcb" stroke-width="2.5" stroke-linecap="round" fill="none"/>
<ellipse cx="157" cy="840" rx="1.8" ry="2.4" fill="#cfcfcf"/>
<path d="M159.5 796 L154.5 792" stroke="#d8d8d8" stroke-width="3.4" stroke-linecap="round" fill="none"/>
<path d="M176 827.5 Q179 834.5 178 839" stroke="#cbcbcb" stroke-width="2.5" stroke-linecap="round" fill="none"/>
<ellipse cx="178" cy="840" rx="1.8" ry="2.4" fill="#cfcfcf"/>
<path d="M175.5 796 L180.5 792" stroke="#d8d8d8" stroke-width="3.4" stroke-linecap="round" fill="none"/>
<path d="M167.5 780 C168.37 780,169.33 779.88,170.1 780.3 C170.87 780.72,171.6 781.55,172.1 782.5 C172.6 783.45,172.62 784.75,173.1 786 C173.58 787.25,174.23 788.75,175 790 C175.77 791.25,177.07 792,177.7 793.5 C178.33 795,178.57 796.25,178.8 799 C179.03 801.75,179.02 806.25,179.1 810 C179.18 813.75,179.37 818.42,179.3 821.5 C179.23 824.58,179.67 826.83,178.7 828.5 C177.73 830.17,175.37 830.95,173.5 831.5 C171.63 832.05,169.5 831.8,167.5 831.8 C165.5 831.8,163.37 832.05,161.5 831.5 C159.63 830.95,157.27 830.17,156.3 828.5 C155.33 826.83,155.77 824.58,155.7 821.5 C155.63 818.42,155.82 813.75,155.9 810 C155.98 806.25,155.97 801.75,156.2 799 C156.43 796.25,156.67 795,157.3 793.5 C157.93 792,159.23 791.25,160 790 C160.77 788.75,161.42 787.25,161.9 786 C162.38 784.75,162.4 783.45,162.9 782.5 C163.4 781.55,164.13 780.72,164.9 780.3 C165.67 779.88,166.63 780,167.5 780 Z" fill="url(#mg)"/>
</g>
<g filter="url(#soft)">
<line x1="195.8" y1="829.5" x2="195.8" y2="854" stroke="#e4e4e4" stroke-width="2.1"/>
<path d="M187.3 827.5 Q184.3 834.5 185.3 839" stroke="#cbcbcb" stroke-width="2.5" stroke-linecap="round" fill="none"/>
<ellipse cx="185.3" cy="840" rx="1.8" ry="2.4" fill="#cfcfcf"/>
<path d="M187.8 796 L182.8 792" stroke="#d8d8d8" stroke-width="3.4" stroke-linecap="round" fill="none"/>
<path d="M204.3 827.5 Q207.3 834.5 206.3 839" stroke="#cbcbcb" stroke-width="2.5" stroke-linecap="round" fill="none"/>
<ellipse cx="206.3" cy="840" rx="1.8" ry="2.4" fill="#cfcfcf"/>
<path d="M203.8 796 L208.8 792" stroke="#d8d8d8" stroke-width="3.4" stroke-linecap="round" fill="none"/>
<path d="M195.8 780 C196.67 780,197.63 779.88,198.4 780.3 C199.17 780.72,199.9 781.55,200.4 782.5 C200.9 783.45,200.92 784.75,201.4 786 C201.88 787.25,202.53 788.75,203.3 790 C204.07 791.25,205.37 792,206 793.5 C206.63 795,206.87 796.25,207.1 799 C207.33 801.75,207.32 806.25,207.4 810 C207.48 813.75,207.67 818.42,207.6 821.5 C207.53 824.58,207.97 826.83,207 828.5 C206.03 830.17,203.67 830.95,201.8 831.5 C199.93 832.05,197.8 831.8,195.8 831.8 C193.8 831.8,191.67 832.05,189.8 831.5 C187.93 830.95,185.57 830.17,184.6 828.5 C183.63 826.83,184.07 824.58,184 821.5 C183.93 818.42,184.12 813.75,184.2 810 C184.28 806.25,184.27 801.75,184.5 799 C184.73 796.25,184.97 795,185.6 793.5 C186.23 792,187.53 791.25,188.3 790 C189.07 788.75,189.72 787.25,190.2 786 C190.68 784.75,190.7 783.45,191.2 782.5 C191.7 781.55,192.43 780.72,193.2 780.3 C193.97 779.88,194.93 780,195.8 780 Z" fill="url(#mg)"/>
</g>
<g filter="url(#soft)">
<line x1="231.8" y1="829.5" x2="231.8" y2="854" stroke="#e4e4e4" stroke-width="2.1"/>
<path d="M223.3 827.5 Q220.3 834.5 221.3 839" stroke="#cbcbcb" stroke-width="2.5" stroke-linecap="round" fill="none"/>
<ellipse cx="221.3" cy="840" rx="1.8" ry="2.4" fill="#cfcfcf"/>
<path d="M223.8 796 L218.8 792" stroke="#d8d8d8" stroke-width="3.4" stroke-linecap="round" fill="none"/>
<path d="M240.3 827.5 Q243.3 834.5 242.3 839" stroke="#cbcbcb" stroke-width="2.5" stroke-linecap="round" fill="none"/>
<ellipse cx="242.3" cy="840" rx="1.8" ry="2.4" fill="#cfcfcf"/>
<path d="M239.8 796 L244.8 792" stroke="#d8d8d8" stroke-width="3.4" stroke-linecap="round" fill="none"/>
<path d="M231.8 780 C232.67 780,233.63 779.88,234.4 780.3 C235.17 780.72,235.9 781.55,236.4 782.5 C236.9 783.45,236.92 784.75,237.4 786 C237.88 787.25,238.53 788.75,239.3 790 C240.07 791.25,241.37 792,242 793.5 C242.63 795,242.87 796.25,243.1 799 C243.33 801.75,243.32 806.25,243.4 810 C243.48 813.75,243.67 818.42,243.6 821.5 C243.53 824.58,243.97 826.83,243 828.5 C242.03 830.17,239.67 830.95,237.8 831.5 C235.93 832.05,233.8 831.8,231.8 831.8 C229.8 831.8,227.67 832.05,225.8 831.5 C223.93 830.95,221.57 830.17,220.6 828.5 C219.63 826.83,220.07 824.58,220 821.5 C219.93 818.42,220.12 813.75,220.2 810 C220.28 806.25,220.27 801.75,220.5 799 C220.73 796.25,220.97 795,221.6 793.5 C222.23 792,223.53 791.25,224.3 790 C225.07 788.75,225.72 787.25,226.2 786 C226.68 784.75,226.7 783.45,227.2 782.5 C227.7 781.55,228.43 780.72,229.2 780.3 C229.97 779.88,230.93 780,231.8 780 Z" fill="url(#mg)"/>
</g>
<g filter="url(#soft)">
<line x1="260.3" y1="829.5" x2="260.3" y2="854" stroke="#e4e4e4" stroke-width="2.1"/>
<path d="M251.8 827.5 Q248.8 834.5 249.8 839" stroke="#cbcbcb" stroke-width="2.5" stroke-linecap="round" fill="none"/>
<ellipse cx="249.8" cy="840" rx="1.8" ry="2.4" fill="#cfcfcf"/>
<path d="M252.3 796 L247.3 792" stroke="#d8d8d8" stroke-width="3.4" stroke-linecap="round" fill="none"/>
<path d="M268.8 827.5 Q271.8 834.5 270.8 839" stroke="#cbcbcb" stroke-width="2.5" stroke-linecap="round" fill="none"/>
<ellipse cx="270.8" cy="840" rx="1.8" ry="2.4" fill="#cfcfcf"/>
<path d="M268.3 796 L273.3 792" stroke="#d8d8d8" stroke-width="3.4" stroke-linecap="round" fill="none"/>
<path d="M260.3 780 C261.17 780,262.13 779.88,262.9 780.3 C263.67 780.72,264.4 781.55,264.9 782.5 C265.4 783.45,265.42 784.75,265.9 786 C266.38 787.25,267.03 788.75,267.8 790 C268.57 791.25,269.87 792,270.5 793.5 C271.13 795,271.37 796.25,271.6 799 C271.83 801.75,271.82 806.25,271.9 810 C271.98 813.75,272.17 818.42,272.1 821.5 C272.03 824.58,272.47 826.83,271.5 828.5 C270.53 830.17,268.17 830.95,266.3 831.5 C264.43 832.05,262.3 831.8,260.3 831.8 C258.3 831.8,256.17 832.05,254.3 831.5 C252.43 830.95,250.07 830.17,249.1 828.5 C248.13 826.83,248.57 824.58,248.5 821.5 C248.43 818.42,248.62 813.75,248.7 810 C248.78 806.25,248.77 801.75,249 799 C249.23 796.25,249.47 795,250.1 793.5 C250.73 792,252.03 791.25,252.8 790 C253.57 788.75,254.22 787.25,254.7 786 C255.18 784.75,255.2 783.45,255.7 782.5 C256.2 781.55,256.93 780.72,257.7 780.3 C258.47 779.88,259.43 780,260.3 780 Z" fill="url(#mg)"/>
</g>
<g filter="url(#soft)">
<line x1="292.6" y1="829.5" x2="292.6" y2="854" stroke="#e4e4e4" stroke-width="2.1"/>
<path d="M284.1 827.5 Q281.1 834.5 282.1 839" stroke="#cbcbcb" stroke-width="2.5" stroke-linecap="round" fill="none"/>
<ellipse cx="282.1" cy="840" rx="1.8" ry="2.4" fill="#cfcfcf"/>
<path d="M284.6 796 L279.6 792" stroke="#d8d8d8" stroke-width="3.4" stroke-linecap="round" fill="none"/>
<path d="M301.1 827.5 Q304.1 834.5 303.1 839" stroke="#cbcbcb" stroke-width="2.5" stroke-linecap="round" fill="none"/>
<ellipse cx="303.1" cy="840" rx="1.8" ry="2.4" fill="#cfcfcf"/>
<path d="M300.6 796 L305.6 792" stroke="#d8d8d8" stroke-width="3.4" stroke-linecap="round" fill="none"/>
<path d="M292.6 780 C293.47 780,294.43 779.88,295.2 780.3 C295.97 780.72,296.7 781.55,297.2 782.5 C297.7 783.45,297.72 784.75,298.2 786 C298.68 787.25,299.33 788.75,300.1 790 C300.87 791.25,302.17 792,302.8 793.5 C303.43 795,303.67 796.25,303.9 799 C304.13 801.75,304.12 806.25,304.2 810 C304.28 813.75,304.47 818.42,304.4 821.5 C304.33 824.58,304.77 826.83,303.8 828.5 C302.83 830.17,300.47 830.95,298.6 831.5 C296.73 832.05,294.6 831.8,292.6 831.8 C290.6 831.8,288.47 832.05,286.6 831.5 C284.73 830.95,282.37 830.17,281.4 828.5 C280.43 826.83,280.87 824.58,280.8 821.5 C280.73 818.42,280.92 813.75,281 810 C281.08 806.25,281.07 801.75,281.3 799 C281.53 796.25,281.77 795,282.4 793.5 C283.03 792,284.33 791.25,285.1 790 C285.87 788.75,286.52 787.25,287 786 C287.48 784.75,287.5 783.45,288 782.5 C288.5 781.55,289.23 780.72,290 780.3 C290.77 779.88,291.73 780,292.6 780 Z" fill="url(#mg)"/>
</g>
<g filter="url(#soft)">
<line x1="317.2" y1="829.5" x2="317.2" y2="854" stroke="#e4e4e4" stroke-width="2.1"/>
<path d="M308.7 827.5 Q305.7 834.5 306.7 839" stroke="#cbcbcb" stroke-width="2.5" stroke-linecap="round" fill="none"/>
<ellipse cx="306.7" cy="840" rx="1.8" ry="2.4" fill="#cfcfcf"/>
<path d="M309.2 796 L304.2 792" stroke="#d8d8d8" stroke-width="3.4" stroke-linecap="round" fill="none"/>
<path d="M325.7 827.5 Q328.7 834.5 327.7 839" stroke="#cbcbcb" stroke-width="2.5" stroke-linecap="round" fill="none"/>
<ellipse cx="327.7" cy="840" rx="1.8" ry="2.4" fill="#cfcfcf"/>
<path d="M325.2 796 L330.2 792" stroke="#d8d8d8" stroke-width="3.4" stroke-linecap="round" fill="none"/>
<path d="M317.2 780 C318.07 780,319.03 779.88,319.8 780.3 C320.57 780.72,321.3 781.55,321.8 782.5 C322.3 783.45,322.32 784.75,322.8 786 C323.28 787.25,323.93 788.75,324.7 790 C325.47 791.25,326.77 792,327.4 793.5 C328.03 795,328.27 796.25,328.5 799 C328.73 801.75,328.72 806.25,328.8 810 C328.88 813.75,329.07 818.42,329 821.5 C328.93 824.58,329.37 826.83,328.4 828.5 C327.43 830.17,325.07 830.95,323.2 831.5 C321.33 832.05,319.2 831.8,317.2 831.8 C315.2 831.8,313.07 832.05,311.2 831.5 C309.33 830.95,306.97 830.17,306 828.5 C305.03 826.83,305.47 824.58,305.4 821.5 C305.33 818.42,305.52 813.75,305.6 810 C305.68 806.25,305.67 801.75,305.9 799 C306.13 796.25,306.37 795,307 793.5 C307.63 792,308.93 791.25,309.7 790 C310.47 788.75,311.12 787.25,311.6 786 C312.08 784.75,312.1 783.45,312.6 782.5 C313.1 781.55,313.83 780.72,314.6 780.3 C315.37 779.88,316.33 780,317.2 780 Z" fill="url(#mg)"/>
</g>
<g filter="url(#soft)">
<line x1="364.2" y1="829.5" x2="364.2" y2="854" stroke="#e4e4e4" stroke-width="2.1"/>
<path d="M355.7 827.5 Q352.7 834.5 353.7 839" stroke="#cbcbcb" stroke-width="2.5" stroke-linecap="round" fill="none"/>
<ellipse cx="353.7" cy="840" rx="1.8" ry="2.4" fill="#cfcfcf"/>
<path d="M356.2 796 L351.2 792" stroke="#d8d8d8" stroke-width="3.4" stroke-linecap="round" fill="none"/>
<path d="M372.7 827.5 Q375.7 834.5 374.7 839" stroke="#cbcbcb" stroke-width="2.5" stroke-linecap="round" fill="none"/>
<ellipse cx="374.7" cy="840" rx="1.8" ry="2.4" fill="#cfcfcf"/>
<path d="M372.2 796 L377.2 792" stroke="#d8d8d8" stroke-width="3.4" stroke-linecap="round" fill="none"/>
<path d="M364.2 780 C365.07 780,366.03 779.88,366.8 780.3 C367.57 780.72,368.3 781.55,368.8 782.5 C369.3 783.45,369.32 784.75,369.8 786 C370.28 787.25,370.93 788.75,371.7 790 C372.47 791.25,373.77 792,374.4 793.5 C375.03 795,375.27 796.25,375.5 799 C375.73 801.75,375.72 806.25,375.8 810 C375.88 813.75,376.07 818.42,376 821.5 C375.93 824.58,376.37 826.83,375.4 828.5 C374.43 830.17,372.07 830.95,370.2 831.5 C368.33 832.05,366.2 831.8,364.2 831.8 C362.2 831.8,360.07 832.05,358.2 831.5 C356.33 830.95,353.97 830.17,353 828.5 C352.03 826.83,352.47 824.58,352.4 821.5 C352.33 818.42,352.52 813.75,352.6 810 C352.68 806.25,352.67 801.75,352.9 799 C353.13 796.25,353.37 795,354 793.5 C354.63 792,355.93 791.25,356.7 790 C357.47 788.75,358.12 787.25,358.6 786 C359.08 784.75,359.1 783.45,359.6 782.5 C360.1 781.55,360.83 780.72,361.6 780.3 C362.37 779.88,363.33 780,364.2 780 Z" fill="url(#mg)"/>
</g>
<g filter="url(#soft)">
<line x1="417.3" y1="829.5" x2="417.3" y2="854" stroke="#e4e4e4" stroke-width="2.1"/>
<path d="M408.8 827.5 Q405.8 834.5 406.8 839" stroke="#cbcbcb" stroke-width="2.5" stroke-linecap="round" fill="none"/>
<ellipse cx="406.8" cy="840" rx="1.8" ry="2.4" fill="#cfcfcf"/>
<path d="M409.3 796 L404.3 792" stroke="#d8d8d8" stroke-width="3.4" stroke-linecap="round" fill="none"/>
<path d="M425.8 827.5 Q428.8 834.5 427.8 839" stroke="#cbcbcb" stroke-width="2.5" stroke-linecap="round" fill="none"/>
<ellipse cx="427.8" cy="840" rx="1.8" ry="2.4" fill="#cfcfcf"/>
<path d="M425.3 796 L430.3 792" stroke="#d8d8d8" stroke-width="3.4" stroke-linecap="round" fill="none"/>
<path d="M417.3 780 C418.17 780,419.13 779.88,419.9 780.3 C420.67 780.72,421.4 781.55,421.9 782.5 C422.4 783.45,422.42 784.75,422.9 786 C423.38 787.25,424.03 788.75,424.8 790 C425.57 791.25,426.87 792,427.5 793.5 C428.13 795,428.37 796.25,428.6 799 C428.83 801.75,428.82 806.25,428.9 810 C428.98 813.75,429.17 818.42,429.1 821.5 C429.03 824.58,429.47 826.83,428.5 828.5 C427.53 830.17,425.17 830.95,423.3 831.5 C421.43 832.05,419.3 831.8,417.3 831.8 C415.3 831.8,413.17 832.05,411.3 831.5 C409.43 830.95,407.07 830.17,406.1 828.5 C405.13 826.83,405.57 824.58,405.5 821.5 C405.43 818.42,405.62 813.75,405.7 810 C405.78 806.25,405.77 801.75,406 799 C406.23 796.25,406.47 795,407.1 793.5 C407.73 792,409.03 791.25,409.8 790 C410.57 788.75,411.22 787.25,411.7 786 C412.18 784.75,412.2 783.45,412.7 782.5 C413.2 781.55,413.93 780.72,414.7 780.3 C415.47 779.88,416.43 780,417.3 780 Z" fill="url(#mg)"/>
</g>
<g filter="url(#soft)">
<line x1="507.5" y1="829.5" x2="507.5" y2="854" stroke="#e4e4e4" stroke-width="2.1"/>
<path d="M499 827.5 Q496 834.5 497 839" stroke="#cbcbcb" stroke-width="2.5" stroke-linecap="round" fill="none"/>
<ellipse cx="497" cy="840" rx="1.8" ry="2.4" fill="#cfcfcf"/>
<path d="M499.5 796 L494.5 792" stroke="#d8d8d8" stroke-width="3.4" stroke-linecap="round" fill="none"/>
<path d="M516 827.5 Q519 834.5 518 839" stroke="#cbcbcb" stroke-width="2.5" stroke-linecap="round" fill="none"/>
<ellipse cx="518" cy="840" rx="1.8" ry="2.4" fill="#cfcfcf"/>
<path d="M515.5 796 L520.5 792" stroke="#d8d8d8" stroke-width="3.4" stroke-linecap="round" fill="none"/>
<path d="M507.5 780 C508.37 780,509.33 779.88,510.1 780.3 C510.87 780.72,511.6 781.55,512.1 782.5 C512.6 783.45,512.62 784.75,513.1 786 C513.58 787.25,514.23 788.75,515 790 C515.77 791.25,517.07 792,517.7 793.5 C518.33 795,518.57 796.25,518.8 799 C519.03 801.75,519.02 806.25,519.1 810 C519.18 813.75,519.37 818.42,519.3 821.5 C519.23 824.58,519.67 826.83,518.7 828.5 C517.73 830.17,515.37 830.95,513.5 831.5 C511.63 832.05,509.5 831.8,507.5 831.8 C505.5 831.8,503.37 832.05,501.5 831.5 C499.63 830.95,497.27 830.17,496.3 828.5 C495.33 826.83,495.77 824.58,495.7 821.5 C495.63 818.42,495.82 813.75,495.9 810 C495.98 806.25,495.97 801.75,496.2 799 C496.43 796.25,496.67 795,497.3 793.5 C497.93 792,499.23 791.25,500 790 C500.77 788.75,501.42 787.25,501.9 786 C502.38 784.75,502.4 783.45,502.9 782.5 C503.4 781.55,504.13 780.72,504.9 780.3 C505.67 779.88,506.63 780,507.5 780 Z" fill="url(#mg)"/>
</g>
<g filter="url(#soft)">
<line x1="534.9" y1="829.5" x2="534.9" y2="854" stroke="#e4e4e4" stroke-width="2.1"/>
<path d="M526.4 827.5 Q523.4 834.5 524.4 839" stroke="#cbcbcb" stroke-width="2.5" stroke-linecap="round" fill="none"/>
<ellipse cx="524.4" cy="840" rx="1.8" ry="2.4" fill="#cfcfcf"/>
<path d="M526.9 796 L521.9 792" stroke="#d8d8d8" stroke-width="3.4" stroke-linecap="round" fill="none"/>
<path d="M543.4 827.5 Q546.4 834.5 545.4 839" stroke="#cbcbcb" stroke-width="2.5" stroke-linecap="round" fill="none"/>
<ellipse cx="545.4" cy="840" rx="1.8" ry="2.4" fill="#cfcfcf"/>
<path d="M542.9 796 L547.9 792" stroke="#d8d8d8" stroke-width="3.4" stroke-linecap="round" fill="none"/>
<path d="M534.9 780 C535.77 780,536.73 779.88,537.5 780.3 C538.27 780.72,539 781.55,539.5 782.5 C540 783.45,540.02 784.75,540.5 786 C540.98 787.25,541.63 788.75,542.4 790 C543.17 791.25,544.47 792,545.1 793.5 C545.73 795,545.97 796.25,546.2 799 C546.43 801.75,546.42 806.25,546.5 810 C546.58 813.75,546.77 818.42,546.7 821.5 C546.63 824.58,547.07 826.83,546.1 828.5 C545.13 830.17,542.77 830.95,540.9 831.5 C539.03 832.05,536.9 831.8,534.9 831.8 C532.9 831.8,530.77 832.05,528.9 831.5 C527.03 830.95,524.67 830.17,523.7 828.5 C522.73 826.83,523.17 824.58,523.1 821.5 C523.03 818.42,523.22 813.75,523.3 810 C523.38 806.25,523.37 801.75,523.6 799 C523.83 796.25,524.07 795,524.7 793.5 C525.33 792,526.63 791.25,527.4 790 C528.17 788.75,528.82 787.25,529.3 786 C529.78 784.75,529.8 783.45,530.3 782.5 C530.8 781.55,531.53 780.72,532.3 780.3 C533.07 779.88,534.03 780,534.9 780 Z" fill="url(#mg)"/>
</g>
<g filter="url(#soft)">
<line x1="562.3" y1="829.5" x2="562.3" y2="854" stroke="#e4e4e4" stroke-width="2.1"/>
<path d="M553.8 827.5 Q550.8 834.5 551.8 839" stroke="#cbcbcb" stroke-width="2.5" stroke-linecap="round" fill="none"/>
<ellipse cx="551.8" cy="840" rx="1.8" ry="2.4" fill="#cfcfcf"/>
<path d="M554.3 796 L549.3 792" stroke="#d8d8d8" stroke-width="3.4" stroke-linecap="round" fill="none"/>
<path d="M570.8 827.5 Q573.8 834.5 572.8 839" stroke="#cbcbcb" stroke-width="2.5" stroke-linecap="round" fill="none"/>
<ellipse cx="572.8" cy="840" rx="1.8" ry="2.4" fill="#cfcfcf"/>
<path d="M570.3 796 L575.3 792" stroke="#d8d8d8" stroke-width="3.4" stroke-linecap="round" fill="none"/>
<path d="M562.3 780 C563.17 780,564.13 779.88,564.9 780.3 C565.67 780.72,566.4 781.55,566.9 782.5 C567.4 783.45,567.42 784.75,567.9 786 C568.38 787.25,569.03 788.75,569.8 790 C570.57 791.25,571.87 792,572.5 793.5 C573.13 795,573.37 796.25,573.6 799 C573.83 801.75,573.82 806.25,573.9 810 C573.98 813.75,574.17 818.42,574.1 821.5 C574.03 824.58,574.47 826.83,573.5 828.5 C572.53 830.17,570.17 830.95,568.3 831.5 C566.43 832.05,564.3 831.8,562.3 831.8 C560.3 831.8,558.17 832.05,556.3 831.5 C554.43 830.95,552.07 830.17,551.1 828.5 C550.13 826.83,550.57 824.58,550.5 821.5 C550.43 818.42,550.62 813.75,550.7 810 C550.78 806.25,550.77 801.75,551 799 C551.23 796.25,551.47 795,552.1 793.5 C552.73 792,554.03 791.25,554.8 790 C555.57 788.75,556.22 787.25,556.7 786 C557.18 784.75,557.2 783.45,557.7 782.5 C558.2 781.55,558.93 780.72,559.7 780.3 C560.47 779.88,561.43 780,562.3 780 Z" fill="url(#mg)"/>
</g>
<g filter="url(#soft)">
<line x1="589.6" y1="829.5" x2="589.6" y2="854" stroke="#e4e4e4" stroke-width="2.1"/>
<path d="M581.1 827.5 Q578.1 834.5 579.1 839" stroke="#cbcbcb" stroke-width="2.5" stroke-linecap="round" fill="none"/>
<ellipse cx="579.1" cy="840" rx="1.8" ry="2.4" fill="#cfcfcf"/>
<path d="M581.6 796 L576.6 792" stroke="#d8d8d8" stroke-width="3.4" stroke-linecap="round" fill="none"/>
<path d="M598.1 827.5 Q601.1 834.5 600.1 839" stroke="#cbcbcb" stroke-width="2.5" stroke-linecap="round" fill="none"/>
<ellipse cx="600.1" cy="840" rx="1.8" ry="2.4" fill="#cfcfcf"/>
<path d="M597.6 796 L602.6 792" stroke="#d8d8d8" stroke-width="3.4" stroke-linecap="round" fill="none"/>
<path d="M589.6 780 C590.47 780,591.43 779.88,592.2 780.3 C592.97 780.72,593.7 781.55,594.2 782.5 C594.7 783.45,594.72 784.75,595.2 786 C595.68 787.25,596.33 788.75,597.1 790 C597.87 791.25,599.17 792,599.8 793.5 C600.43 795,600.67 796.25,600.9 799 C601.13 801.75,601.12 806.25,601.2 810 C601.28 813.75,601.47 818.42,601.4 821.5 C601.33 824.58,601.77 826.83,600.8 828.5 C599.83 830.17,597.47 830.95,595.6 831.5 C593.73 832.05,591.6 831.8,589.6 831.8 C587.6 831.8,585.47 832.05,583.6 831.5 C581.73 830.95,579.37 830.17,578.4 828.5 C577.43 826.83,577.87 824.58,577.8 821.5 C577.73 818.42,577.92 813.75,578 810 C578.08 806.25,578.07 801.75,578.3 799 C578.53 796.25,578.77 795,579.4 793.5 C580.03 792,581.33 791.25,582.1 790 C582.87 788.75,583.52 787.25,584 786 C584.48 784.75,584.5 783.45,585 782.5 C585.5 781.55,586.23 780.72,587 780.3 C587.77 779.88,588.73 780,589.6 780 Z" fill="url(#mg)"/>
</g>
<g filter="url(#soft)">
<line x1="617" y1="829.5" x2="617" y2="854" stroke="#e4e4e4" stroke-width="2.1"/>
<path d="M608.5 827.5 Q605.5 834.5 606.5 839" stroke="#cbcbcb" stroke-width="2.5" stroke-linecap="round" fill="none"/>
<ellipse cx="606.5" cy="840" rx="1.8" ry="2.4" fill="#cfcfcf"/>
<path d="M609 796 L604 792" stroke="#d8d8d8" stroke-width="3.4" stroke-linecap="round" fill="none"/>
<path d="M625.5 827.5 Q628.5 834.5 627.5 839" stroke="#cbcbcb" stroke-width="2.5" stroke-linecap="round" fill="none"/>
<ellipse cx="627.5" cy="840" rx="1.8" ry="2.4" fill="#cfcfcf"/>
<path d="M625 796 L630 792" stroke="#d8d8d8" stroke-width="3.4" stroke-linecap="round" fill="none"/>
<path d="M617 780 C617.87 780,618.83 779.88,619.6 780.3 C620.37 780.72,621.1 781.55,621.6 782.5 C622.1 783.45,622.12 784.75,622.6 786 C623.08 787.25,623.73 788.75,624.5 790 C625.27 791.25,626.57 792,627.2 793.5 C627.83 795,628.07 796.25,628.3 799 C628.53 801.75,628.52 806.25,628.6 810 C628.68 813.75,628.87 818.42,628.8 821.5 C628.73 824.58,629.17 826.83,628.2 828.5 C627.23 830.17,624.87 830.95,623 831.5 C621.13 832.05,619 831.8,617 831.8 C615 831.8,612.87 832.05,611 831.5 C609.13 830.95,606.77 830.17,605.8 828.5 C604.83 826.83,605.27 824.58,605.2 821.5 C605.13 818.42,605.32 813.75,605.4 810 C605.48 806.25,605.47 801.75,605.7 799 C605.93 796.25,606.17 795,606.8 793.5 C607.43 792,608.73 791.25,609.5 790 C610.27 788.75,610.92 787.25,611.4 786 C611.88 784.75,611.9 783.45,612.4 782.5 C612.9 781.55,613.63 780.72,614.4 780.3 C615.17 779.88,616.13 780,617 780 Z" fill="url(#mg)"/>
</g>
<polygon points="433.2,705.96 440.34,703.2 446.75,716.31 453.16,703.2 460.3,705.96 451.61,727.55 460.3,749.14 453.16,751.9 446.75,738.79 440.34,751.9 433.2,749.14 441.89,727.55" fill="#ff0000" stroke="#7a6f9a" stroke-width="0.5"/>
<polygon points="97.3,788.86 103.57,786.1 109.2,799.21 114.83,786.1 121.1,788.86 113.47,810.45 121.1,832.04 114.83,834.8 109.2,821.69 103.57,834.8 97.3,832.04 104.93,810.45" fill="#ff0000" stroke="#7a6f9a" stroke-width="0.5"/>
<polygon points="126.8,788.86 133.65,786.1 139.8,799.21 145.95,786.1 152.8,788.86 144.46,810.45 152.8,832.04 145.95,834.8 139.8,821.69 133.65,834.8 126.8,832.04 135.14,810.45" fill="#ff0000" stroke="#7a6f9a" stroke-width="0.5"/>
<polygon points="380,785.46 386.56,782.7 392.45,795.81 398.34,782.7 404.9,785.46 396.92,807.05 404.9,828.64 398.34,831.4 392.45,818.29 386.56,831.4 380,828.64 387.98,807.05" fill="#ff0000" stroke="#7a6f9a" stroke-width="0.5"/>
<polygon points="437.7,785.46 444.26,782.7 450.15,795.81 456.04,782.7 462.6,785.46 454.62,807.05 462.6,828.64 456.04,831.4 450.15,818.29 444.26,831.4 437.7,828.64 445.68,807.05" fill="#ff0000" stroke="#7a6f9a" stroke-width="0.5"/>
<polygon points="466,785.46 472.56,782.7 478.45,795.81 484.34,782.7 490.9,785.46 482.92,807.05 490.9,828.64 484.34,831.4 478.45,818.29 472.56,831.4 466,828.64 473.98,807.05" fill="#ff0000" stroke="#7a6f9a" stroke-width="0.5"/>
<g filter="url(#bsoft)">
<ellipse cx="79.9" cy="613.4" rx="3.2" ry="2.8" fill="#6e00ff"/>
</g>
<path d="M102.2 614.6 A7.4 7.6 0 1 0 117 614.6 A7.4 7.6 0 1 0 102.2 614.6 Z" fill="#6e00ff" filter="url(#bsoft)"/>
<g filter="url(#bsoft)">
<path d="M108.4 614.3 A1.6 1.6 0 1 0 111.6 614.3 A1.6 1.6 0 1 0 108.4 614.3 Z" fill="#0a00ff" stroke="#0a00ff" stroke-width="7.2" stroke-linejoin="round"/>
<path d="M108.4 614.3 A1.6 1.6 0 1 0 111.6 614.3 A1.6 1.6 0 1 0 108.4 614.3 Z" fill="#00b4ff" stroke="#00b4ff" stroke-width="4.8" stroke-linejoin="round"/>
<path d="M108.4 614.3 A1.6 1.6 0 1 0 111.6 614.3 A1.6 1.6 0 1 0 108.4 614.3 Z" fill="#00ff40" stroke="#00ff40" stroke-width="2.8" stroke-linejoin="round"/>
<path d="M108.4 614.3 A1.6 1.6 0 1 0 111.6 614.3 A1.6 1.6 0 1 0 108.4 614.3 Z" fill="#e8ff00" stroke="#e8ff00" stroke-width="1.4" stroke-linejoin="round"/>
<path d="M108.4 614.3 A1.6 1.6 0 1 0 111.6 614.3 A1.6 1.6 0 1 0 108.4 614.3 Z" fill="#ff0000"/>
</g>
<g filter="url(#bsoft)">
<ellipse cx="136.5" cy="614.5" rx="5.2" ry="4.6" fill="#6e00ff"/>
</g>
<g filter="url(#bsoft)">
<ellipse cx="129" cy="620.2" rx="1.5" ry="1.2" fill="#6e00ff"/>
</g>
<g filter="url(#bsoft)">
<ellipse cx="164.1" cy="616.6" rx="4" ry="4" fill="#6e00ff"/>
</g>
<g filter="url(#bsoft)">
<ellipse cx="195.1" cy="613.2" rx="5" ry="5" fill="#6e00ff"/>
<ellipse cx="195.1" cy="613.2" rx="2" ry="2" fill="#0a00ff"/>
</g>
<g filter="url(#bsoft)">
<ellipse cx="233.2" cy="615.4" rx="5.3" ry="7" fill="#6e00ff"/>
<ellipse cx="233.2" cy="615.4" rx="1.59" ry="2.1" fill="#0a00ff"/>
</g>
<g filter="url(#bsoft)">
<ellipse cx="261.3" cy="617" rx="5.8" ry="6.3" fill="#6e00ff"/>
<ellipse cx="261.3" cy="617" rx="1.74" ry="1.89" fill="#0a00ff"/>
</g>
<g filter="url(#bsoft)">
<ellipse cx="289.7" cy="618.9" rx="3.6" ry="3.4" fill="#6e00ff"/>
</g>
<g filter="url(#bsoft)">
<ellipse cx="318.6" cy="616" rx="5.3" ry="6.6" fill="#6e00ff"/>
<ellipse cx="318.6" cy="616" rx="1.59" ry="1.98" fill="#0a00ff"/>
</g>
<g filter="url(#bsoft)">
<ellipse cx="356.9" cy="613.2" rx="3.6" ry="2.6" fill="#6e00ff"/>
</g>
<g filter="url(#bsoft)">
<ellipse cx="385.2" cy="614.5" rx="5" ry="5" fill="#6e00ff"/>
<ellipse cx="385.2" cy="614.5" rx="1.75" ry="1.75" fill="#0a00ff"/>
</g>
<g filter="url(#bsoft)">
<ellipse cx="415.1" cy="616.1" rx="2.5" ry="2.2" fill="#6e00ff"/>
</g>
<g filter="url(#bsoft)">
<ellipse cx="472.8" cy="615" rx="4.6" ry="4.6" fill="#6e00ff"/>
<ellipse cx="472.8" cy="615" rx="1.84" ry="1.84" fill="#0a00ff"/>
</g>
<g filter="url(#bsoft)">
<ellipse cx="509.7" cy="614.4" rx="4" ry="3.8" fill="#6e00ff"/>
</g>
<g filter="url(#bsoft)">
<ellipse cx="536.4" cy="613.3" rx="3.5" ry="3" fill="#6e00ff"/>
</g>
<g filter="url(#bsoft)">
<ellipse cx="562.9" cy="614.4" rx="4" ry="3.8" fill="#6e00ff"/>
</g>
<g filter="url(#bsoft)">
<ellipse cx="588.5" cy="616" rx="2" ry="2" fill="#6e00ff"/>
</g>
<g filter="url(#bsoft)">
<ellipse cx="591.8" cy="616.5" rx="1.8" ry="1.8" fill="#6e00ff"/>
</g>
<g filter="url(#bsoft)">
<ellipse cx="620.3" cy="617.7" rx="3" ry="3.2" fill="#6e00ff"/>
</g>
<path d="M77 693 C77.87 691.75,79.5 690.42,81 690.5 C82.5 690.58,85 692.08,86 693.5 C87 694.92,87 696.92,87 699 C87 701.08,86.08 703.67,86 706 C85.92 708.33,86.67 710.83,86.5 713 C86.33 715.17,85.67 717.33,85 719 C84.33 720.67,83.33 722.83,82.5 723 C81.67 723.17,80.67 721.83,80 720 C79.33 718.17,78.92 714.5,78.5 712 C78.08 709.5,77.95 707.33,77.5 705 C77.05 702.67,75.88 700,75.8 698 C75.72 696,76.13 694.25,77 693 Z" fill="#6e00ff" filter="url(#bsoft)"/>
<path d="M78 694 C78.8 693.08,80.83 692.17,82 692.5 C83.17 692.83,84.5 694.25,85 696 C85.5 697.75,85.08 700.5,85 703 C84.92 705.5,84.83 708.5,84.5 711 C84.17 713.5,83.58 717.17,83 718 C82.42 718.83,81.5 717.5,81 716 C80.5 714.5,80.42 711.17,80 709 C79.58 706.83,78.97 704.83,78.5 703 C78.03 701.17,77.28 699.5,77.2 698 C77.12 696.5,77.2 694.92,78 694 Z" fill="#0a00ff" filter="url(#bsoft)"/>
<path d="M80.5 700 C80.75 699.5,82.08 700,82.5 701 C82.92 702,83 704.33,83 706 C83 707.67,82.75 710.5,82.5 711 C82.25 711.5,81.75 710.17,81.5 709 C81.25 707.83,81.17 705.5,81 704 C80.83 702.5,80.25 700.5,80.5 700 Z" fill="#0090ff" filter="url(#bsoft)"/>
<g filter="url(#bsoft)">
<path d="M78.2 697.6 A1.6 1.9 0 1 0 81.4 697.6 A1.6 1.9 0 1 0 78.2 697.6 Z" fill="#00b4ff" stroke="#00b4ff" stroke-width="3.2" stroke-linejoin="round"/>
<path d="M78.2 697.6 A1.6 1.9 0 1 0 81.4 697.6 A1.6 1.9 0 1 0 78.2 697.6 Z" fill="#30ff70"/>
</g>
<g filter="url(#bsoft)">
<ellipse cx="70.3" cy="705.5" rx="2" ry="1.5" fill="#6e00ff"/>
</g>
<path d="M96.8 687.5 C100.77 686.55,112.22 687.3,120 687.3 C127.78 687.3,139.45 686.38,143.5 687.5 C147.55 688.62,144.08 690.75,144.3 694 C144.52 697.25,145.52 703,144.8 707 C144.08 711,141.5 714.33,140 718 C138.5 721.67,137.2 725.75,135.8 729 C134.4 732.25,132.95 736.17,131.6 737.5 C130.25 738.83,128.57 738.92,127.7 737 C126.83 735.08,127.05 729.17,126.4 726 C125.75 722.83,124.9 719.42,123.8 718 C122.7 716.58,120.87 716.17,119.8 717.5 C118.73 718.83,118.05 722.75,117.4 726 C116.75 729.25,116.7 735,115.9 737 C115.1 739,113.5 738.83,112.6 738 C111.7 737.17,111.35 734.17,110.5 732 C109.65 729.83,109.02 727.17,107.5 725 C105.98 722.83,103.07 721.12,101.4 719 C99.73 716.88,98.42 714.97,97.5 712.3 C96.58 709.63,96.12 706.22,95.9 703 C95.68 699.78,96.05 695.58,96.2 693 C96.35 690.42,92.83 688.45,96.8 687.5 Z" fill="#6e00ff" filter="url(#bsoft)"/>
<path d="M99 691.5 C101.28 689.83,107.83 690.08,112 690 C116.17 689.92,120.5 691.08,124 691 C127.5 690.92,130.08 689.42,133 689.5 C135.92 689.58,140.08 689.75,141.5 691.5 C142.92 693.25,141.92 696.75,141.5 700 C141.08 703.25,140.08 707.5,139 711 C137.92 714.5,136.33 718.33,135 721 C133.67 723.67,132.08 726.83,131 727 C129.92 727.17,129.33 723.83,128.5 722 C127.67 720.17,127.25 717.25,126 716 C124.75 714.75,122.67 714.17,121 714.5 C119.33 714.83,117.83 717.17,116 718 C114.17 718.83,112.17 719.83,110 719.5 C107.83 719.17,104.83 717.75,103 716 C101.17 714.25,99.78 711.67,99 709 C98.22 706.33,98.3 702.92,98.3 700 C98.3 697.08,96.72 693.17,99 691.5 Z" fill="#0a00ff" filter="url(#bsoft)"/>
<path d="M118.5 695 C119.17 693.75,121.92 694,123 694.5 C124.08 695,124.75 696.58,125 698 C125.25 699.42,125.08 701.83,124.5 703 C123.92 704.17,122.42 705.17,121.5 705 C120.58 704.83,119.5 703.67,119 702 C118.5 700.33,117.83 696.25,118.5 695 Z" fill="#0070ff" filter="url(#bsoft)"/>
<g filter="url(#bsoft)">
<path d="M101.4 695.9 C102.38 695.07,104.95 694.33,106.7 694.1 C108.45 693.87,110.48 693.98,111.9 694.5 C113.32 695.02,114.32 696.2,115.2 697.2 C116.08 698.2,116.77 699.08,117.2 700.5 C117.63 701.92,117.92 703.95,117.8 705.7 C117.68 707.45,117.15 709.58,116.5 711 C115.85 712.42,114.98 713.55,113.9 714.2 C112.82 714.85,111.32 715,110 714.9 C108.68 714.8,107.22 714.15,106 713.6 C104.78 713.05,103.57 712.48,102.7 711.6 C101.83 710.72,101.18 709.72,100.8 708.3 C100.42 706.88,100.4 704.63,100.4 703.1 C100.4 701.57,100.63 700.3,100.8 699.1 C100.97 697.9,100.42 696.73,101.4 695.9 Z" fill="#00b4ff" stroke="#00b4ff" stroke-width="4.8" stroke-linejoin="round"/>
<path d="M101.4 695.9 C102.38 695.07,104.95 694.33,106.7 694.1 C108.45 693.87,110.48 693.98,111.9 694.5 C113.32 695.02,114.32 696.2,115.2 697.2 C116.08 698.2,116.77 699.08,117.2 700.5 C117.63 701.92,117.92 703.95,117.8 705.7 C117.68 707.45,117.15 709.58,116.5 711 C115.85 712.42,114.98 713.55,113.9 714.2 C112.82 714.85,111.32 715,110 714.9 C108.68 714.8,107.22 714.15,106 713.6 C104.78 713.05,103.57 712.48,102.7 711.6 C101.83 710.72,101.18 709.72,100.8 708.3 C100.42 706.88,100.4 704.63,100.4 703.1 C100.4 701.57,100.63 700.3,100.8 699.1 C100.97 697.9,100.42 696.73,101.4 695.9 Z" fill="#00ff40" stroke="#00ff40" stroke-width="3" stroke-linejoin="round"/>
<path d="M101.4 695.9 C102.38 695.07,104.95 694.33,106.7 694.1 C108.45 693.87,110.48 693.98,111.9 694.5 C113.32 695.02,114.32 696.2,115.2 697.2 C116.08 698.2,116.77 699.08,117.2 700.5 C117.63 701.92,117.92 703.95,117.8 705.7 C117.68 707.45,117.15 709.58,116.5 711 C115.85 712.42,114.98 713.55,113.9 714.2 C112.82 714.85,111.32 715,110 714.9 C108.68 714.8,107.22 714.15,106 713.6 C104.78 713.05,103.57 712.48,102.7 711.6 C101.83 710.72,101.18 709.72,100.8 708.3 C100.42 706.88,100.4 704.63,100.4 703.1 C100.4 701.57,100.63 700.3,100.8 699.1 C100.97 697.9,100.42 696.73,101.4 695.9 Z" fill="#e8ff00" stroke="#e8ff00" stroke-width="1.4" stroke-linejoin="round"/>
<path d="M101.4 695.9 C102.38 695.07,104.95 694.33,106.7 694.1 C108.45 693.87,110.48 693.98,111.9 694.5 C113.32 695.02,114.32 696.2,115.2 697.2 C116.08 698.2,116.77 699.08,117.2 700.5 C117.63 701.92,117.92 703.95,117.8 705.7 C117.68 707.45,117.15 709.58,116.5 711 C115.85 712.42,114.98 713.55,113.9 714.2 C112.82 714.85,111.32 715,110 714.9 C108.68 714.8,107.22 714.15,106 713.6 C104.78 713.05,103.57 712.48,102.7 711.6 C101.83 710.72,101.18 709.72,100.8 708.3 C100.42 706.88,100.4 704.63,100.4 703.1 C100.4 701.57,100.63 700.3,100.8 699.1 C100.97 697.9,100.42 696.73,101.4 695.9 Z" fill="#ff0000"/>
</g>
<g filter="url(#bsoft)">
<path d="M107.3 717.6 A1.3 1 0 1 0 109.9 717.6 A1.3 1 0 1 0 107.3 717.6 Z" fill="#00b4ff" stroke="#00b4ff" stroke-width="2" stroke-linejoin="round"/>
<path d="M107.3 717.6 A1.3 1 0 1 0 109.9 717.6 A1.3 1 0 1 0 107.3 717.6 Z" fill="#00ff40" stroke="#00ff40" stroke-width="1.2" stroke-linejoin="round"/>
<path d="M107.3 717.6 A1.3 1 0 1 0 109.9 717.6 A1.3 1 0 1 0 107.3 717.6 Z" fill="#e8ff00" stroke="#e8ff00" stroke-width="0.6" stroke-linejoin="round"/>
<path d="M107.3 717.6 A1.3 1 0 1 0 109.9 717.6 A1.3 1 0 1 0 107.3 717.6 Z" fill="#ff0000"/>
</g>
<g filter="url(#bsoft)">
<path d="M133.6 691.9 C134.7 691.47,136.02 691.83,136.9 692.6 C137.78 693.37,138.68 694.97,138.9 696.5 C139.12 698.03,138.65 700.05,138.2 701.8 C137.75 703.55,136.75 705.25,136.2 707 C135.65 708.75,135.33 710.55,134.9 712.3 C134.47 714.05,134.25 716.08,133.6 717.5 C132.95 718.92,131.77 720.35,131 720.8 C130.23 721.25,129.43 720.97,129 720.2 C128.57 719.43,128.62 717.73,128.4 716.2 C128.18 714.67,127.93 712.75,127.7 711 C127.47 709.25,126.88 707.45,127 705.7 C127.12 703.95,127.85 702.25,128.4 700.5 C128.95 698.75,129.43 696.63,130.3 695.2 C131.17 693.77,132.5 692.33,133.6 691.9 Z" fill="#00b4ff" stroke="#00b4ff" stroke-width="4.8" stroke-linejoin="round"/>
<path d="M133.6 691.9 C134.7 691.47,136.02 691.83,136.9 692.6 C137.78 693.37,138.68 694.97,138.9 696.5 C139.12 698.03,138.65 700.05,138.2 701.8 C137.75 703.55,136.75 705.25,136.2 707 C135.65 708.75,135.33 710.55,134.9 712.3 C134.47 714.05,134.25 716.08,133.6 717.5 C132.95 718.92,131.77 720.35,131 720.8 C130.23 721.25,129.43 720.97,129 720.2 C128.57 719.43,128.62 717.73,128.4 716.2 C128.18 714.67,127.93 712.75,127.7 711 C127.47 709.25,126.88 707.45,127 705.7 C127.12 703.95,127.85 702.25,128.4 700.5 C128.95 698.75,129.43 696.63,130.3 695.2 C131.17 693.77,132.5 692.33,133.6 691.9 Z" fill="#00ff40" stroke="#00ff40" stroke-width="3" stroke-linejoin="round"/>
<path d="M133.6 691.9 C134.7 691.47,136.02 691.83,136.9 692.6 C137.78 693.37,138.68 694.97,138.9 696.5 C139.12 698.03,138.65 700.05,138.2 701.8 C137.75 703.55,136.75 705.25,136.2 707 C135.65 708.75,135.33 710.55,134.9 712.3 C134.47 714.05,134.25 716.08,133.6 717.5 C132.95 718.92,131.77 720.35,131 720.8 C130.23 721.25,129.43 720.97,129 720.2 C128.57 719.43,128.62 717.73,128.4 716.2 C128.18 714.67,127.93 712.75,127.7 711 C127.47 709.25,126.88 707.45,127 705.7 C127.12 703.95,127.85 702.25,128.4 700.5 C128.95 698.75,129.43 696.63,130.3 695.2 C131.17 693.77,132.5 692.33,133.6 691.9 Z" fill="#e8ff00" stroke="#e8ff00" stroke-width="1.4" stroke-linejoin="round"/>
<path d="M133.6 691.9 C134.7 691.47,136.02 691.83,136.9 692.6 C137.78 693.37,138.68 694.97,138.9 696.5 C139.12 698.03,138.65 700.05,138.2 701.8 C137.75 703.55,136.75 705.25,136.2 707 C135.65 708.75,135.33 710.55,134.9 712.3 C134.47 714.05,134.25 716.08,133.6 717.5 C132.95 718.92,131.77 720.35,131 720.8 C130.23 721.25,129.43 720.97,129 720.2 C128.57 719.43,128.62 717.73,128.4 716.2 C128.18 714.67,127.93 712.75,127.7 711 C127.47 709.25,126.88 707.45,127 705.7 C127.12 703.95,127.85 702.25,128.4 700.5 C128.95 698.75,129.43 696.63,130.3 695.2 C131.17 693.77,132.5 692.33,133.6 691.9 Z" fill="#ff0000"/>
</g>
<g filter="url(#bsoft)">
<path d="M140.1 705 A1.4 1.6 0 1 0 142.9 705 A1.4 1.6 0 1 0 140.1 705 Z" fill="#6e00ff" stroke="#6e00ff" stroke-width="3.2" stroke-linejoin="round"/>
<path d="M140.1 705 A1.4 1.6 0 1 0 142.9 705 A1.4 1.6 0 1 0 140.1 705 Z" fill="#0a00ff" stroke="#0a00ff" stroke-width="2" stroke-linejoin="round"/>
<path d="M140.1 705 A1.4 1.6 0 1 0 142.9 705 A1.4 1.6 0 1 0 140.1 705 Z" fill="#00b4ff" stroke="#00b4ff" stroke-width="1.2" stroke-linejoin="round"/>
<path d="M140.1 705 A1.4 1.6 0 1 0 142.9 705 A1.4 1.6 0 1 0 140.1 705 Z" fill="#00ff40" stroke="#00ff40" stroke-width="0.6" stroke-linejoin="round"/>
<path d="M140.1 705 A1.4 1.6 0 1 0 142.9 705 A1.4 1.6 0 1 0 140.1 705 Z" fill="#ff0000"/>
</g>
<g filter="url(#bsoft)">
<path d="M160.8 696.6 A2.2 2.4 0 1 0 165.2 696.6 A2.2 2.4 0 1 0 160.8 696.6 Z" fill="#6e00ff" stroke="#6e00ff" stroke-width="5.6" stroke-linejoin="round"/>
<path d="M160.8 696.6 A2.2 2.4 0 1 0 165.2 696.6 A2.2 2.4 0 1 0 160.8 696.6 Z" fill="#0a00ff" stroke="#0a00ff" stroke-width="3.6" stroke-linejoin="round"/>
<path d="M160.8 696.6 A2.2 2.4 0 1 0 165.2 696.6 A2.2 2.4 0 1 0 160.8 696.6 Z" fill="#00b4ff" stroke="#00b4ff" stroke-width="2.4" stroke-linejoin="round"/>
<path d="M160.8 696.6 A2.2 2.4 0 1 0 165.2 696.6 A2.2 2.4 0 1 0 160.8 696.6 Z" fill="#00ff40" stroke="#00ff40" stroke-width="1.6" stroke-linejoin="round"/>
<path d="M160.8 696.6 A2.2 2.4 0 1 0 165.2 696.6 A2.2 2.4 0 1 0 160.8 696.6 Z" fill="#e8ff00" stroke="#e8ff00" stroke-width="0.8" stroke-linejoin="round"/>
<path d="M160.8 696.6 A2.2 2.4 0 1 0 165.2 696.6 A2.2 2.4 0 1 0 160.8 696.6 Z" fill="#ff0000"/>
</g>
<g filter="url(#bsoft)">
<path d="M187.5 701.5 A2.6 3.2 0 1 0 192.7 701.5 A2.6 3.2 0 1 0 187.5 701.5 Z" fill="#6e00ff" stroke="#6e00ff" stroke-width="5.6" stroke-linejoin="round"/>
<path d="M187.5 701.5 A2.6 3.2 0 1 0 192.7 701.5 A2.6 3.2 0 1 0 187.5 701.5 Z" fill="#0a00ff" stroke="#0a00ff" stroke-width="3.6" stroke-linejoin="round"/>
<path d="M187.5 701.5 A2.6 3.2 0 1 0 192.7 701.5 A2.6 3.2 0 1 0 187.5 701.5 Z" fill="#00b4ff" stroke="#00b4ff" stroke-width="2.4" stroke-linejoin="round"/>
<path d="M187.5 701.5 A2.6 3.2 0 1 0 192.7 701.5 A2.6 3.2 0 1 0 187.5 701.5 Z" fill="#00ff40" stroke="#00ff40" stroke-width="1.6" stroke-linejoin="round"/>
<path d="M187.5 701.5 A2.6 3.2 0 1 0 192.7 701.5 A2.6 3.2 0 1 0 187.5 701.5 Z" fill="#e8ff00" stroke="#e8ff00" stroke-width="0.8" stroke-linejoin="round"/>
<path d="M187.5 701.5 A2.6 3.2 0 1 0 192.7 701.5 A2.6 3.2 0 1 0 187.5 701.5 Z" fill="#ff0000"/>
</g>
<path d="M221 688 C222.75 686.55,227 687.3,230 687.3 C233 687.3,237.17 686.72,239 688 C240.83 689.28,240.75 692.33,241 695 C241.25 697.67,240.3 701.17,240.5 704 C240.7 706.83,242.03 709.92,242.2 712 C242.37 714.08,242.53 715.92,241.5 716.5 C240.47 717.08,237.42 715.08,236 715.5 C234.58 715.92,234 718,233 719 C232 720,231.17 721.67,230 721.5 C228.83 721.33,227.75 719.42,226 718 C224.25 716.58,220.77 715.17,219.5 713 C218.23 710.83,218.4 707.83,218.4 705 C218.4 702.17,219.07 698.83,219.5 696 C219.93 693.17,219.25 689.45,221 688 Z" fill="#6e00ff" filter="url(#bsoft)"/>
<path d="M221.9 700.4 A8 9 0 1 0 237.9 700.4 A8 9 0 1 0 221.9 700.4 Z" fill="#0a00ff" filter="url(#bsoft)"/>
<g filter="url(#bsoft)">
<path d="M226.5 696 C227.2 694.95,228.78 694.7,230 694.7 C231.22 694.7,233 695.03,233.8 696 C234.6 696.97,234.77 698.92,234.8 700.5 C234.83 702.08,234.72 704.45,234 705.5 C233.28 706.55,231.67 706.8,230.5 706.8 C229.33 706.8,227.78 706.47,227 705.5 C226.22 704.53,225.88 702.58,225.8 701 C225.72 699.42,225.8 697.05,226.5 696 Z" fill="#00b4ff" stroke="#00b4ff" stroke-width="3" stroke-linejoin="round"/>
<path d="M226.5 696 C227.2 694.95,228.78 694.7,230 694.7 C231.22 694.7,233 695.03,233.8 696 C234.6 696.97,234.77 698.92,234.8 700.5 C234.83 702.08,234.72 704.45,234 705.5 C233.28 706.55,231.67 706.8,230.5 706.8 C229.33 706.8,227.78 706.47,227 705.5 C226.22 704.53,225.88 702.58,225.8 701 C225.72 699.42,225.8 697.05,226.5 696 Z" fill="#00ff40" stroke="#00ff40" stroke-width="2" stroke-linejoin="round"/>
<path d="M226.5 696 C227.2 694.95,228.78 694.7,230 694.7 C231.22 694.7,233 695.03,233.8 696 C234.6 696.97,234.77 698.92,234.8 700.5 C234.83 702.08,234.72 704.45,234 705.5 C233.28 706.55,231.67 706.8,230.5 706.8 C229.33 706.8,227.78 706.47,227 705.5 C226.22 704.53,225.88 702.58,225.8 701 C225.72 699.42,225.8 697.05,226.5 696 Z" fill="#e8ff00" stroke="#e8ff00" stroke-width="1" stroke-linejoin="round"/>
<path d="M226.5 696 C227.2 694.95,228.78 694.7,230 694.7 C231.22 694.7,233 695.03,233.8 696 C234.6 696.97,234.77 698.92,234.8 700.5 C234.83 702.08,234.72 704.45,234 705.5 C233.28 706.55,231.67 706.8,230.5 706.8 C229.33 706.8,227.78 706.47,227 705.5 C226.22 704.53,225.88 702.58,225.8 701 C225.72 699.42,225.8 697.05,226.5 696 Z" fill="#ff0000"/>
</g>
<path d="M256 696 C257.5 694.75,259.17 693.67,261 693.5 C262.83 693.33,265.33 694.08,267 695 C268.67 695.92,270 697.5,271 699 C272 700.5,272.45 702.5,273 704 C273.55 705.5,274.63 706.67,274.3 708 C273.97 709.33,272.38 711.17,271 712 C269.62 712.83,267.67 712.33,266 713 C264.33 713.67,262.67 714.67,261 716 C259.33 717.33,257.5 719.2,256 721 C254.5 722.8,253.03 726.97,252 726.8 C250.97 726.63,250.05 722.8,249.8 720 C249.55 717.2,250.13 713.17,250.5 710 C250.87 706.83,251.08 703.33,252 701 C252.92 698.67,254.5 697.25,256 696 Z" fill="#6e00ff" filter="url(#bsoft)"/>
<path d="M254.5 703.6 A7.3 6.3 0 1 0 269.1 703.6 A7.3 6.3 0 1 0 254.5 703.6 Z" fill="#0a00ff" filter="url(#bsoft)"/>
<g filter="url(#bsoft)">
<path d="M259.1 703.3 A3.5 2.9 0 1 0 266.1 703.3 A3.5 2.9 0 1 0 259.1 703.3 Z" fill="#00b4ff" stroke="#00b4ff" stroke-width="2.8" stroke-linejoin="round"/>
<path d="M259.1 703.3 A3.5 2.9 0 1 0 266.1 703.3 A3.5 2.9 0 1 0 259.1 703.3 Z" fill="#00ff40" stroke="#00ff40" stroke-width="1.8" stroke-linejoin="round"/>
<path d="M259.1 703.3 A3.5 2.9 0 1 0 266.1 703.3 A3.5 2.9 0 1 0 259.1 703.3 Z" fill="#e8ff00" stroke="#e8ff00" stroke-width="0.8" stroke-linejoin="round"/>
<path d="M259.1 703.3 A3.5 2.9 0 1 0 266.1 703.3 A3.5 2.9 0 1 0 259.1 703.3 Z" fill="#ff0000"/>
</g>
<path d="M289.3 696 C290.8 695.42,292.73 697.23,294 698.5 C295.27 699.77,297.07 702.18,296.9 703.6 C296.73 705.02,294.15 705.6,293 707 C291.85 708.4,291 710.17,290 712 C289 713.83,288.17 716.37,287 718 C285.83 719.63,284.17 722.13,283 721.8 C281.83 721.47,280.25 718.13,280 716 C279.75 713.87,280.67 711.33,281.5 709 C282.33 706.67,283.7 704.17,285 702 C286.3 699.83,287.8 696.58,289.3 696 Z" fill="#6e00ff" filter="url(#bsoft)"/>
<g filter="url(#bsoft)">
<ellipse cx="319.1" cy="701.1" rx="5.5" ry="5.5" fill="#6e00ff"/>
<ellipse cx="319.1" cy="701.1" rx="3.58" ry="3.58" fill="#0a00ff"/>
<ellipse cx="319.1" cy="701.1" rx="1.65" ry="1.65" fill="#00b4ff"/>
</g>
<g filter="url(#bsoft)">
<ellipse cx="356.2" cy="701.7" rx="5" ry="4.2" fill="#6e00ff"/>
</g>
<path d="M378 690 C379.47 688.25,383.17 687.5,386 687.5 C388.83 687.5,392.67 688.58,395 690 C397.33 691.42,399.05 693.67,400 696 C400.95 698.33,401.03 701.5,400.7 704 C400.37 706.5,398.78 708.67,398 711 C397.22 713.33,396.92 715.7,396 718 C395.08 720.3,393.83 724.3,392.5 724.8 C391.17 725.3,389.75 722.8,388 721 C386.25 719.2,383.67 716.33,382 714 C380.33 711.67,378.8 709.67,378 707 C377.2 704.33,377.2 700.83,377.2 698 C377.2 695.17,376.53 691.75,378 690 Z" fill="#6e00ff" filter="url(#bsoft)"/>
<path d="M382 701.6 A6.6 7.2 0 1 0 395.2 701.6 A6.6 7.2 0 1 0 382 701.6 Z" fill="#0a00ff" filter="url(#bsoft)"/>
<g filter="url(#bsoft)">
<path d="M385 701.6 A4 4.9 0 1 0 393 701.6 A4 4.9 0 1 0 385 701.6 Z" fill="#00b4ff" stroke="#00b4ff" stroke-width="2.4" stroke-linejoin="round"/>
<path d="M385 701.6 A4 4.9 0 1 0 393 701.6 A4 4.9 0 1 0 385 701.6 Z" fill="#00ff40" stroke="#00ff40" stroke-width="1.6" stroke-linejoin="round"/>
<path d="M385 701.6 A4 4.9 0 1 0 393 701.6 A4 4.9 0 1 0 385 701.6 Z" fill="#e8ff00" stroke="#e8ff00" stroke-width="0.8" stroke-linejoin="round"/>
<path d="M385 701.6 A4 4.9 0 1 0 393 701.6 A4 4.9 0 1 0 385 701.6 Z" fill="#ff0000"/>
</g>
<g filter="url(#bsoft)">
<ellipse cx="387.9" cy="744" rx="2.3" ry="2" fill="#6e00ff"/>
</g>
<path d="M416 692.1 C417.67 691.6,419.67 692.68,421 694 C422.33 695.32,423.22 697.83,424 700 C424.78 702.17,425.87 705.17,425.7 707 C425.53 708.83,424.28 710.17,423 711 C421.72 711.83,419.33 710.83,418 712 C416.67 713.17,415.83 715.83,415 718 C414.17 720.17,414.03 723,413 725 C411.97 727,409.88 730.5,408.8 730 C407.72 729.5,406.92 724.83,406.5 722 C406.08 719.17,405.88 715.83,406.3 713 C406.72 710.17,408.22 707.67,409 705 C409.78 702.33,409.83 699.15,411 697 C412.17 694.85,414.33 692.6,416 692.1 Z" fill="#6e00ff" filter="url(#bsoft)"/>
<path d="M410 702.5 A4.5 4.5 0 1 0 419 702.5 A4.5 4.5 0 1 0 410 702.5 Z" fill="#3a00ff" filter="url(#bsoft)"/>
<path d="M470.6 700.3 A5.6 6.2 0 1 0 481.8 700.3 A5.6 6.2 0 1 0 470.6 700.3 Z" fill="#6e00ff" filter="url(#bsoft)"/>
<g filter="url(#bsoft)">
<path d="M475 700 A1.4 1.6 0 1 0 477.8 700 A1.4 1.6 0 1 0 475 700 Z" fill="#0a00ff" stroke="#0a00ff" stroke-width="5.6" stroke-linejoin="round"/>
<path d="M475 700 A1.4 1.6 0 1 0 477.8 700 A1.4 1.6 0 1 0 475 700 Z" fill="#00b4ff" stroke="#00b4ff" stroke-width="3.8" stroke-linejoin="round"/>
<path d="M475 700 A1.4 1.6 0 1 0 477.8 700 A1.4 1.6 0 1 0 475 700 Z" fill="#00ff40" stroke="#00ff40" stroke-width="2.4" stroke-linejoin="round"/>
<path d="M475 700 A1.4 1.6 0 1 0 477.8 700 A1.4 1.6 0 1 0 475 700 Z" fill="#e8ff00" stroke="#e8ff00" stroke-width="1.2" stroke-linejoin="round"/>
<path d="M475 700 A1.4 1.6 0 1 0 477.8 700 A1.4 1.6 0 1 0 475 700 Z" fill="#ff0000"/>
</g>
<g filter="url(#bsoft)">
<ellipse cx="473.9" cy="748.5" rx="1.8" ry="1.8" fill="#6e00ff"/>
</g>
<g filter="url(#bsoft)">
<ellipse cx="510.8" cy="699.8" rx="5.5" ry="7" fill="#6e00ff"/>
</g>
<path d="M508.4 700 A3 3.4 0 1 0 514.4 700 A3 3.4 0 1 0 508.4 700 Z" fill="#0a00ff" filter="url(#bsoft)"/>
<path d="M510.4 700 A1.2 1.2 0 1 0 512.8 700 A1.2 1.2 0 1 0 510.4 700 Z" fill="#00b4ff" filter="url(#bsoft)"/>
<g filter="url(#bsoft)">
<ellipse cx="567.7" cy="700.4" rx="1.6" ry="1.6" fill="#6e00ff"/>
</g>
<g filter="url(#bsoft)">
<ellipse cx="593.4" cy="698.9" rx="5" ry="5.5" fill="#6e00ff"/>
</g>
<path d="M72.5 786 C73.62 785.5,76.83 788,79 788 C81.17 788,84.33 785.5,85.5 786 C86.67 786.5,86.58 789.8,86 791 C85.42 792.2,83.67 792.83,82 793.2 C80.33 793.57,77.62 793.57,76 793.2 C74.38 792.83,72.88 792.2,72.3 791 C71.72 789.8,71.38 786.5,72.5 786 Z" fill="#6e00ff" filter="url(#bsoft)"/>
<path d="M73.5 786 C74.42 785.58,77.17 788,79 788 C80.83 788,83.58 785.58,84.5 786 C85.42 786.42,85.08 789.5,84.5 790.5 C83.92 791.5,82.25 791.75,81 792 C79.75 792.25,78.25 792.25,77 792 C75.75 791.75,74.08 791.5,73.5 790.5 C72.92 789.5,72.58 786.42,73.5 786 Z" fill="#0a00ff" filter="url(#bsoft)"/>
<g filter="url(#bsoft)">
<path d="M74.2 778.6 C75.13 777.68,77.32 777.5,79 777.5 C80.68 777.5,83.3 777.68,84.3 778.6 C85.3 779.52,85.13 781.52,85 783 C84.87 784.48,84.25 786.37,83.5 787.5 C82.75 788.63,81.58 789.45,80.5 789.8 C79.42 790.15,78 790.03,77 789.6 C76 789.17,75.1 788.3,74.5 787.2 C73.9 786.1,73.45 784.43,73.4 783 C73.35 781.57,73.27 779.52,74.2 778.6 Z" fill="#6e00ff" stroke="#6e00ff" stroke-width="1.8" stroke-linejoin="round"/>
<path d="M74.2 778.6 C75.13 777.68,77.32 777.5,79 777.5 C80.68 777.5,83.3 777.68,84.3 778.6 C85.3 779.52,85.13 781.52,85 783 C84.87 784.48,84.25 786.37,83.5 787.5 C82.75 788.63,81.58 789.45,80.5 789.8 C79.42 790.15,78 790.03,77 789.6 C76 789.17,75.1 788.3,74.5 787.2 C73.9 786.1,73.45 784.43,73.4 783 C73.35 781.57,73.27 779.52,74.2 778.6 Z" fill="#0a00ff" stroke="#0a00ff" stroke-width="1.4" stroke-linejoin="round"/>
<path d="M74.2 778.6 C75.13 777.68,77.32 777.5,79 777.5 C80.68 777.5,83.3 777.68,84.3 778.6 C85.3 779.52,85.13 781.52,85 783 C84.87 784.48,84.25 786.37,83.5 787.5 C82.75 788.63,81.58 789.45,80.5 789.8 C79.42 790.15,78 790.03,77 789.6 C76 789.17,75.1 788.3,74.5 787.2 C73.9 786.1,73.45 784.43,73.4 783 C73.35 781.57,73.27 779.52,74.2 778.6 Z" fill="#00b4ff" stroke="#00b4ff" stroke-width="2.6" stroke-linejoin="round"/>
<path d="M74.2 778.6 C75.13 777.68,77.32 777.5,79 777.5 C80.68 777.5,83.3 777.68,84.3 778.6 C85.3 779.52,85.13 781.52,85 783 C84.87 784.48,84.25 786.37,83.5 787.5 C82.75 788.63,81.58 789.45,80.5 789.8 C79.42 790.15,78 790.03,77 789.6 C76 789.17,75.1 788.3,74.5 787.2 C73.9 786.1,73.45 784.43,73.4 783 C73.35 781.57,73.27 779.52,74.2 778.6 Z" fill="#00ff40" stroke="#00ff40" stroke-width="1.8" stroke-linejoin="round"/>
<path d="M74.2 778.6 C75.13 777.68,77.32 777.5,79 777.5 C80.68 777.5,83.3 777.68,84.3 778.6 C85.3 779.52,85.13 781.52,85 783 C84.87 784.48,84.25 786.37,83.5 787.5 C82.75 788.63,81.58 789.45,80.5 789.8 C79.42 790.15,78 790.03,77 789.6 C76 789.17,75.1 788.3,74.5 787.2 C73.9 786.1,73.45 784.43,73.4 783 C73.35 781.57,73.27 779.52,74.2 778.6 Z" fill="#e8ff00" stroke="#e8ff00" stroke-width="0.9" stroke-linejoin="round"/>
<path d="M74.2 778.6 C75.13 777.68,77.32 777.5,79 777.5 C80.68 777.5,83.3 777.68,84.3 778.6 C85.3 779.52,85.13 781.52,85 783 C84.87 784.48,84.25 786.37,83.5 787.5 C82.75 788.63,81.58 789.45,80.5 789.8 C79.42 790.15,78 790.03,77 789.6 C76 789.17,75.1 788.3,74.5 787.2 C73.9 786.1,73.45 784.43,73.4 783 C73.35 781.57,73.27 779.52,74.2 778.6 Z" fill="#ff0000"/>
</g>
<g filter="url(#bsoft)">
<path d="M77.1 835.2 A1 1 0 1 0 79.1 835.2 A1 1 0 1 0 77.1 835.2 Z" fill="#6e00ff" stroke="#6e00ff" stroke-width="4.8" stroke-linejoin="round"/>
<path d="M77.1 835.2 A1 1 0 1 0 79.1 835.2 A1 1 0 1 0 77.1 835.2 Z" fill="#0a00ff" stroke="#0a00ff" stroke-width="3.2" stroke-linejoin="round"/>
<path d="M77.1 835.2 A1 1 0 1 0 79.1 835.2 A1 1 0 1 0 77.1 835.2 Z" fill="#00b4ff" stroke="#00b4ff" stroke-width="1.8" stroke-linejoin="round"/>
<path d="M77.1 835.2 A1 1 0 1 0 79.1 835.2 A1 1 0 1 0 77.1 835.2 Z" fill="#ff0000"/>
</g>
<path d="M164 777 C164.87 775.92,166.58 775.5,168 775.5 C169.42 775.5,171.33 775.92,172.5 777 C173.67 778.08,174.33 780.17,175 782 C175.67 783.83,175.6 786.5,176.5 788 C177.4 789.5,179.82 789.77,180.4 791 C180.98 792.23,180.73 794.57,180 795.4 C179.27 796.23,176.75 795.35,176 796 C175.25 796.65,175.92 799.3,175.5 799.3 C175.08 799.3,174.58 796.8,173.5 796 C172.42 795.2,170.58 794.92,169 794.5 C167.42 794.08,165.08 794.42,164 793.5 C162.92 792.58,162.7 790.92,162.5 789 C162.3 787.08,162.55 784,162.8 782 C163.05 780,163.13 778.08,164 777 Z" fill="#6e00ff" filter="url(#bsoft)"/>
<path d="M165 786 C166.37 785.5,170.08 788.5,172 789 C173.92 789.5,175.17 788.42,176.5 789 C177.83 789.58,179.75 791.5,180 792.5 C180.25 793.5,179 794.75,178 795 C177 795.25,175.67 794.25,174 794 C172.33 793.75,169.7 793.83,168 793.5 C166.3 793.17,164.3 793.25,163.8 792 C163.3 790.75,163.63 786.5,165 786 Z" fill="#0a00ff" filter="url(#bsoft)"/>
<g filter="url(#bsoft)">
<path d="M165.3 778.3 C165.85 777.48,167.12 777.4,168.1 777.4 C169.08 777.4,170.38 777.48,171.2 778.3 C172.02 779.12,172.57 780.92,173 782.3 C173.43 783.68,173.52 785.3,173.8 786.6 C174.08 787.9,174.92 789.28,174.7 790.1 C174.48 790.92,173.37 791.35,172.5 791.5 C171.63 791.65,170.52 791.3,169.5 791 C168.48 790.7,167.13 790.43,166.4 789.7 C165.67 788.97,165.37 787.83,165.1 786.6 C164.83 785.37,164.77 783.68,164.8 782.3 C164.83 780.92,164.75 779.12,165.3 778.3 Z" fill="#0a00ff" stroke="#0a00ff" stroke-width="1.6" stroke-linejoin="round"/>
<path d="M165.3 778.3 C165.85 777.48,167.12 777.4,168.1 777.4 C169.08 777.4,170.38 777.48,171.2 778.3 C172.02 779.12,172.57 780.92,173 782.3 C173.43 783.68,173.52 785.3,173.8 786.6 C174.08 787.9,174.92 789.28,174.7 790.1 C174.48 790.92,173.37 791.35,172.5 791.5 C171.63 791.65,170.52 791.3,169.5 791 C168.48 790.7,167.13 790.43,166.4 789.7 C165.67 788.97,165.37 787.83,165.1 786.6 C164.83 785.37,164.77 783.68,164.8 782.3 C164.83 780.92,164.75 779.12,165.3 778.3 Z" fill="#00b4ff" stroke="#00b4ff" stroke-width="2.8" stroke-linejoin="round"/>
<path d="M165.3 778.3 C165.85 777.48,167.12 777.4,168.1 777.4 C169.08 777.4,170.38 777.48,171.2 778.3 C172.02 779.12,172.57 780.92,173 782.3 C173.43 783.68,173.52 785.3,173.8 786.6 C174.08 787.9,174.92 789.28,174.7 790.1 C174.48 790.92,173.37 791.35,172.5 791.5 C171.63 791.65,170.52 791.3,169.5 791 C168.48 790.7,167.13 790.43,166.4 789.7 C165.67 788.97,165.37 787.83,165.1 786.6 C164.83 785.37,164.77 783.68,164.8 782.3 C164.83 780.92,164.75 779.12,165.3 778.3 Z" fill="#00ff40" stroke="#00ff40" stroke-width="2" stroke-linejoin="round"/>
<path d="M165.3 778.3 C165.85 777.48,167.12 777.4,168.1 777.4 C169.08 777.4,170.38 777.48,171.2 778.3 C172.02 779.12,172.57 780.92,173 782.3 C173.43 783.68,173.52 785.3,173.8 786.6 C174.08 787.9,174.92 789.28,174.7 790.1 C174.48 790.92,173.37 791.35,172.5 791.5 C171.63 791.65,170.52 791.3,169.5 791 C168.48 790.7,167.13 790.43,166.4 789.7 C165.67 788.97,165.37 787.83,165.1 786.6 C164.83 785.37,164.77 783.68,164.8 782.3 C164.83 780.92,164.75 779.12,165.3 778.3 Z" fill="#e8ff00" stroke="#e8ff00" stroke-width="1" stroke-linejoin="round"/>
<path d="M165.3 778.3 C165.85 777.48,167.12 777.4,168.1 777.4 C169.08 777.4,170.38 777.48,171.2 778.3 C172.02 779.12,172.57 780.92,173 782.3 C173.43 783.68,173.52 785.3,173.8 786.6 C174.08 787.9,174.92 789.28,174.7 790.1 C174.48 790.92,173.37 791.35,172.5 791.5 C171.63 791.65,170.52 791.3,169.5 791 C168.48 790.7,167.13 790.43,166.4 789.7 C165.67 788.97,165.37 787.83,165.1 786.6 C164.83 785.37,164.77 783.68,164.8 782.3 C164.83 780.92,164.75 779.12,165.3 778.3 Z" fill="#ff0000"/>
</g>
<path d="M187.5 772.5 C190.25 771.42,201.08 771.58,204 772.5 C206.92 773.42,204.83 775.75,205 778 C205.17 780.25,205 783.67,205 786 C205 788.33,205.25 790.33,205 792 C204.75 793.67,204.83 795.08,203.5 796 C202.17 796.92,199.25 797.42,197 797.5 C194.75 797.58,191.83 797.25,190 796.5 C188.17 795.75,186.58 794.75,186 793 C185.42 791.25,186.25 788.33,186.5 786 C186.75 783.67,187.33 781.25,187.5 779 C187.67 776.75,184.75 773.58,187.5 772.5 Z" fill="#6e00ff" filter="url(#bsoft)"/>
<g filter="url(#bsoft)">
<path d="M191.8 776.1 C192.68 775.43,194.6 774.93,196.2 774.8 C197.8 774.67,200.32 774.63,201.4 775.3 C202.48 775.97,202.48 777.05,202.7 778.8 C202.92 780.55,202.62 783.77,202.7 785.8 C202.78 787.83,203.2 789.7,203.2 791 C203.2 792.3,203.73 793.08,202.7 793.6 C201.67 794.12,198.82 794.17,197 794.1 C195.18 794.03,193.25 793.63,191.8 793.2 C190.35 792.77,189.03 792.02,188.3 791.5 C187.57 790.98,187.25 790.77,187.4 790.1 C187.55 789.43,188.77 788.67,189.2 787.5 C189.63 786.33,189.72 784.55,190 783.1 C190.28 781.65,190.6 779.97,190.9 778.8 C191.2 777.63,190.92 776.77,191.8 776.1 Z" fill="#0a00ff" stroke="#0a00ff" stroke-width="2.8" stroke-linejoin="round"/>
<path d="M191.8 776.1 C192.68 775.43,194.6 774.93,196.2 774.8 C197.8 774.67,200.32 774.63,201.4 775.3 C202.48 775.97,202.48 777.05,202.7 778.8 C202.92 780.55,202.62 783.77,202.7 785.8 C202.78 787.83,203.2 789.7,203.2 791 C203.2 792.3,203.73 793.08,202.7 793.6 C201.67 794.12,198.82 794.17,197 794.1 C195.18 794.03,193.25 793.63,191.8 793.2 C190.35 792.77,189.03 792.02,188.3 791.5 C187.57 790.98,187.25 790.77,187.4 790.1 C187.55 789.43,188.77 788.67,189.2 787.5 C189.63 786.33,189.72 784.55,190 783.1 C190.28 781.65,190.6 779.97,190.9 778.8 C191.2 777.63,190.92 776.77,191.8 776.1 Z" fill="#00b4ff" stroke="#00b4ff" stroke-width="2" stroke-linejoin="round"/>
<path d="M191.8 776.1 C192.68 775.43,194.6 774.93,196.2 774.8 C197.8 774.67,200.32 774.63,201.4 775.3 C202.48 775.97,202.48 777.05,202.7 778.8 C202.92 780.55,202.62 783.77,202.7 785.8 C202.78 787.83,203.2 789.7,203.2 791 C203.2 792.3,203.73 793.08,202.7 793.6 C201.67 794.12,198.82 794.17,197 794.1 C195.18 794.03,193.25 793.63,191.8 793.2 C190.35 792.77,189.03 792.02,188.3 791.5 C187.57 790.98,187.25 790.77,187.4 790.1 C187.55 789.43,188.77 788.67,189.2 787.5 C189.63 786.33,189.72 784.55,190 783.1 C190.28 781.65,190.6 779.97,190.9 778.8 C191.2 777.63,190.92 776.77,191.8 776.1 Z" fill="#00ff40" stroke="#00ff40" stroke-width="1.4" stroke-linejoin="round"/>
<path d="M191.8 776.1 C192.68 775.43,194.6 774.93,196.2 774.8 C197.8 774.67,200.32 774.63,201.4 775.3 C202.48 775.97,202.48 777.05,202.7 778.8 C202.92 780.55,202.62 783.77,202.7 785.8 C202.78 787.83,203.2 789.7,203.2 791 C203.2 792.3,203.73 793.08,202.7 793.6 C201.67 794.12,198.82 794.17,197 794.1 C195.18 794.03,193.25 793.63,191.8 793.2 C190.35 792.77,189.03 792.02,188.3 791.5 C187.57 790.98,187.25 790.77,187.4 790.1 C187.55 789.43,188.77 788.67,189.2 787.5 C189.63 786.33,189.72 784.55,190 783.1 C190.28 781.65,190.6 779.97,190.9 778.8 C191.2 777.63,190.92 776.77,191.8 776.1 Z" fill="#e8ff00" stroke="#e8ff00" stroke-width="0.7" stroke-linejoin="round"/>
<path d="M191.8 776.1 C192.68 775.43,194.6 774.93,196.2 774.8 C197.8 774.67,200.32 774.63,201.4 775.3 C202.48 775.97,202.48 777.05,202.7 778.8 C202.92 780.55,202.62 783.77,202.7 785.8 C202.78 787.83,203.2 789.7,203.2 791 C203.2 792.3,203.73 793.08,202.7 793.6 C201.67 794.12,198.82 794.17,197 794.1 C195.18 794.03,193.25 793.63,191.8 793.2 C190.35 792.77,189.03 792.02,188.3 791.5 C187.57 790.98,187.25 790.77,187.4 790.1 C187.55 789.43,188.77 788.67,189.2 787.5 C189.63 786.33,189.72 784.55,190 783.1 C190.28 781.65,190.6 779.97,190.9 778.8 C191.2 777.63,190.92 776.77,191.8 776.1 Z" fill="#ff0000"/>
</g>
<path d="M194.4 799.2 A3.6 2.5 0 1 0 201.6 799.2 A3.6 2.5 0 1 0 194.4 799.2 Z" fill="#6e00ff" filter="url(#bsoft)"/>
<path d="M195.4 799.2 A2.6 1.7 0 1 0 200.6 799.2 A2.6 1.7 0 1 0 195.4 799.2 Z" fill="#0a00ff" filter="url(#bsoft)"/>
<path d="M194.9 815.4 A2.8 3.2 0 1 0 200.5 815.4 A2.8 3.2 0 1 0 194.9 815.4 Z" fill="#6e00ff" filter="url(#bsoft)"/>
<path d="M195.7 815.4 A2 2.4 0 1 0 199.7 815.4 A2 2.4 0 1 0 195.7 815.4 Z" fill="#0a00ff" filter="url(#bsoft)"/>
<path d="M195.9 825.4 A1.8 1.6 0 1 0 199.5 825.4 A1.8 1.6 0 1 0 195.9 825.4 Z" fill="#6e00ff" filter="url(#bsoft)"/>
<path d="M196.7 825.4 A1 0.9 0 1 0 198.7 825.4 A1 0.9 0 1 0 196.7 825.4 Z" fill="#00b4ff" filter="url(#bsoft)"/>
<path d="M223 776 C224.25 774.72,227.83 774.38,230 774.3 C232.17 774.22,234.5 774.55,236 775.5 C237.5 776.45,238.25 778.08,239 780 C239.75 781.92,240.25 784.67,240.5 787 C240.75 789.33,241 792,240.5 794 C240 796,238.47 797.67,237.5 799 C236.53 800.33,235.62 801.92,234.7 802 C233.78 802.08,233.28 800.5,232 799.5 C230.72 798.5,228.75 797.17,227 796 C225.25 794.83,222.6 794,221.5 792.5 C220.4 791,220.23 788.75,220.4 787 C220.57 785.25,222.07 783.83,222.5 782 C222.93 780.17,221.75 777.28,223 776 Z" fill="#6e00ff" filter="url(#bsoft)"/>
<path d="M224 786 C225.37 786.42,228 790.75,230 792 C232 793.25,234.5 793.5,236 793.5 C237.5 793.5,238.67 791.33,239 792 C239.33 792.67,238.72 796.08,238 797.5 C237.28 798.92,235.87 800.58,234.7 800.5 C233.53 800.42,232.62 798.17,231 797 C229.38 795.83,226.53 794.75,225 793.5 C223.47 792.25,221.97 790.75,221.8 789.5 C221.63 788.25,222.63 785.58,224 786 Z" fill="#0a00ff" filter="url(#bsoft)"/>
<g filter="url(#bsoft)">
<path d="M226.6 777.5 C227.43 776.33,229.05 775.7,230.3 775.6 C231.55 775.5,233.15 775.73,234.1 776.9 C235.05 778.07,235.48 780.82,236 782.6 C236.52 784.38,236.88 786.15,237.2 787.6 C237.52 789.05,238.42 790.47,237.9 791.3 C237.38 792.13,235.57 792.7,234.1 792.6 C232.63 792.5,230.47 791.53,229.1 790.7 C227.73 789.87,226.53 788.95,225.9 787.6 C225.27 786.25,225.18 784.28,225.3 782.6 C225.42 780.92,225.77 778.67,226.6 777.5 Z" fill="#0a00ff" stroke="#0a00ff" stroke-width="1.8" stroke-linejoin="round"/>
<path d="M226.6 777.5 C227.43 776.33,229.05 775.7,230.3 775.6 C231.55 775.5,233.15 775.73,234.1 776.9 C235.05 778.07,235.48 780.82,236 782.6 C236.52 784.38,236.88 786.15,237.2 787.6 C237.52 789.05,238.42 790.47,237.9 791.3 C237.38 792.13,235.57 792.7,234.1 792.6 C232.63 792.5,230.47 791.53,229.1 790.7 C227.73 789.87,226.53 788.95,225.9 787.6 C225.27 786.25,225.18 784.28,225.3 782.6 C225.42 780.92,225.77 778.67,226.6 777.5 Z" fill="#00b4ff" stroke="#00b4ff" stroke-width="3.2" stroke-linejoin="round"/>
<path d="M226.6 777.5 C227.43 776.33,229.05 775.7,230.3 775.6 C231.55 775.5,233.15 775.73,234.1 776.9 C235.05 778.07,235.48 780.82,236 782.6 C236.52 784.38,236.88 786.15,237.2 787.6 C237.52 789.05,238.42 790.47,237.9 791.3 C237.38 792.13,235.57 792.7,234.1 792.6 C232.63 792.5,230.47 791.53,229.1 790.7 C227.73 789.87,226.53 788.95,225.9 787.6 C225.27 786.25,225.18 784.28,225.3 782.6 C225.42 780.92,225.77 778.67,226.6 777.5 Z" fill="#00ff40" stroke="#00ff40" stroke-width="2.2" stroke-linejoin="round"/>
<path d="M226.6 777.5 C227.43 776.33,229.05 775.7,230.3 775.6 C231.55 775.5,233.15 775.73,234.1 776.9 C235.05 778.07,235.48 780.82,236 782.6 C236.52 784.38,236.88 786.15,237.2 787.6 C237.52 789.05,238.42 790.47,237.9 791.3 C237.38 792.13,235.57 792.7,234.1 792.6 C232.63 792.5,230.47 791.53,229.1 790.7 C227.73 789.87,226.53 788.95,225.9 787.6 C225.27 786.25,225.18 784.28,225.3 782.6 C225.42 780.92,225.77 778.67,226.6 777.5 Z" fill="#e8ff00" stroke="#e8ff00" stroke-width="1.1" stroke-linejoin="round"/>
<path d="M226.6 777.5 C227.43 776.33,229.05 775.7,230.3 775.6 C231.55 775.5,233.15 775.73,234.1 776.9 C235.05 778.07,235.48 780.82,236 782.6 C236.52 784.38,236.88 786.15,237.2 787.6 C237.52 789.05,238.42 790.47,237.9 791.3 C237.38 792.13,235.57 792.7,234.1 792.6 C232.63 792.5,230.47 791.53,229.1 790.7 C227.73 789.87,226.53 788.95,225.9 787.6 C225.27 786.25,225.18 784.28,225.3 782.6 C225.42 780.92,225.77 778.67,226.6 777.5 Z" fill="#ff0000"/>
</g>
<g filter="url(#bsoft)">
<ellipse cx="221.5" cy="778.8" rx="1.2" ry="2" fill="#6e00ff"/>
</g>
<g filter="url(#bsoft)">
<ellipse cx="240.4" cy="777.5" rx="1" ry="2" fill="#6e00ff"/>
</g>
<path d="M257 778 C258.17 777.67,260.42 778.5,262 779 C263.58 779.5,265.42 779.67,266.5 781 C267.58 782.33,268.12 784.67,268.5 787 C268.88 789.33,269.22 792.67,268.8 795 C268.38 797.33,267.3 799.58,266 801 C264.7 802.42,262.83 803.08,261 803.5 C259.17 803.92,256.75 804.08,255 803.5 C253.25 802.92,251.67 801.08,250.5 800 C249.33 798.92,248.72 798.17,248 797 C247.28 795.83,246.2 794.17,246.2 793 C246.2 791.83,247.03 791.17,248 790 C248.97 788.83,250.83 787.5,252 786 C253.17 784.5,254.17 782.33,255 781 C255.83 779.67,255.83 778.33,257 778 Z" fill="#6e00ff" filter="url(#bsoft)"/>
<path d="M251 789 C252.17 787.67,254.33 786.67,256 786 C257.67 785.33,259.33 784.83,261 785 C262.67 785.17,264.92 785.33,266 787 C267.08 788.67,267.67 792.67,267.5 795 C267.33 797.33,266.58 799.83,265 801 C263.42 802.17,260.08 802.25,258 802 C255.92 801.75,254 800.83,252.5 799.5 C251 798.17,249.25 795.75,249 794 C248.75 792.25,249.83 790.33,251 789 Z" fill="#0a00ff" filter="url(#bsoft)"/>
<g filter="url(#bsoft)">
<path d="M251.7 790.7 C252.32 789.33,254.37 787.55,255.4 786.3 C256.43 785.05,256.85 783.93,257.9 783.2 C258.95 782.47,260.55 781.8,261.7 781.9 C262.85 782,264.07 782.65,264.8 783.8 C265.53 784.95,265.88 787.23,266.1 788.8 C266.32 790.37,266.42 791.83,266.1 793.2 C265.78 794.57,265.13 796.17,264.2 797 C263.27 797.83,261.97 798.2,260.5 798.2 C259.03 798.2,256.87 797.62,255.4 797 C253.93 796.38,252.32 795.55,251.7 794.5 C251.08 793.45,251.08 792.07,251.7 790.7 Z" fill="#00b4ff" stroke="#00b4ff" stroke-width="2.8" stroke-linejoin="round"/>
<path d="M251.7 790.7 C252.32 789.33,254.37 787.55,255.4 786.3 C256.43 785.05,256.85 783.93,257.9 783.2 C258.95 782.47,260.55 781.8,261.7 781.9 C262.85 782,264.07 782.65,264.8 783.8 C265.53 784.95,265.88 787.23,266.1 788.8 C266.32 790.37,266.42 791.83,266.1 793.2 C265.78 794.57,265.13 796.17,264.2 797 C263.27 797.83,261.97 798.2,260.5 798.2 C259.03 798.2,256.87 797.62,255.4 797 C253.93 796.38,252.32 795.55,251.7 794.5 C251.08 793.45,251.08 792.07,251.7 790.7 Z" fill="#00ff40" stroke="#00ff40" stroke-width="2" stroke-linejoin="round"/>
<path d="M251.7 790.7 C252.32 789.33,254.37 787.55,255.4 786.3 C256.43 785.05,256.85 783.93,257.9 783.2 C258.95 782.47,260.55 781.8,261.7 781.9 C262.85 782,264.07 782.65,264.8 783.8 C265.53 784.95,265.88 787.23,266.1 788.8 C266.32 790.37,266.42 791.83,266.1 793.2 C265.78 794.57,265.13 796.17,264.2 797 C263.27 797.83,261.97 798.2,260.5 798.2 C259.03 798.2,256.87 797.62,255.4 797 C253.93 796.38,252.32 795.55,251.7 794.5 C251.08 793.45,251.08 792.07,251.7 790.7 Z" fill="#e8ff00" stroke="#e8ff00" stroke-width="1" stroke-linejoin="round"/>
<path d="M251.7 790.7 C252.32 789.33,254.37 787.55,255.4 786.3 C256.43 785.05,256.85 783.93,257.9 783.2 C258.95 782.47,260.55 781.8,261.7 781.9 C262.85 782,264.07 782.65,264.8 783.8 C265.53 784.95,265.88 787.23,266.1 788.8 C266.32 790.37,266.42 791.83,266.1 793.2 C265.78 794.57,265.13 796.17,264.2 797 C263.27 797.83,261.97 798.2,260.5 798.2 C259.03 798.2,256.87 797.62,255.4 797 C253.93 796.38,252.32 795.55,251.7 794.5 C251.08 793.45,251.08 792.07,251.7 790.7 Z" fill="#ff0000"/>
</g>
<g filter="url(#bsoft)">
<ellipse cx="259.3" cy="828.7" rx="1.5" ry="1.5" fill="#6e00ff"/>
</g>
<path d="M288.1 780.7 C288.9 780.37,289.95 782.43,291 784 C292.05 785.57,294.23 788.43,294.4 790.1 C294.57 791.77,292.63 792.53,292 794 C291.37 795.47,291.05 796.83,290.6 798.9 C290.15 800.97,290.13 804.32,289.3 806.4 C288.47 808.48,286.75 812.03,285.6 811.4 C284.45 810.77,283.03 805.22,282.4 802.6 C281.77 799.98,281.45 797.8,281.8 795.7 C282.15 793.6,283.77 791.62,284.5 790 C285.23 788.38,285.6 787.55,286.2 786 C286.8 784.45,287.3 781.03,288.1 780.7 Z" fill="#6e00ff" filter="url(#bsoft)"/>
<path d="M287.8 783.5 C288.55 783.5,290.3 787.08,290.5 789 C290.7 790.92,289.37 792.67,289 795 C288.63 797.33,288.83 800.83,288.3 803 C287.77 805.17,286.55 808.33,285.8 808 C285.05 807.67,284.13 803.17,283.8 801 C283.47 798.83,283.43 797,283.8 795 C284.17 793,285.33 790.92,286 789 C286.67 787.08,287.05 783.5,287.8 783.5 Z" fill="#0a00ff" filter="url(#bsoft)"/>
<path d="M287.2 787 C287.73 787.17,288.7 790.17,288.8 792 C288.9 793.83,288.1 796.17,287.8 798 C287.5 799.83,287.38 802,287 803 C286.62 804,285.83 805,285.5 804 C285.17 803,284.98 799.17,285 797 C285.02 794.83,285.23 792.67,285.6 791 C285.97 789.33,286.67 786.83,287.2 787 Z" fill="#00b4ff" filter="url(#bsoft)"/>
<path d="M284.6 796.4 A1.2 2.2 0 1 0 287 796.4 A1.2 2.2 0 1 0 284.6 796.4 Z" fill="#00ff40" filter="url(#bsoft)"/>
<g filter="url(#bsoft)">
<path d="M316.8 784.1 A3.3 2.9 0 1 0 323.4 784.1 A3.3 2.9 0 1 0 316.8 784.1 Z" fill="#6e00ff" stroke="#6e00ff" stroke-width="2.4" stroke-linejoin="round"/>
<path d="M316.8 784.1 A3.3 2.9 0 1 0 323.4 784.1 A3.3 2.9 0 1 0 316.8 784.1 Z" fill="#0a00ff" stroke="#0a00ff" stroke-width="3.2" stroke-linejoin="round"/>
<path d="M316.8 784.1 A3.3 2.9 0 1 0 323.4 784.1 A3.3 2.9 0 1 0 316.8 784.1 Z" fill="#00b4ff" stroke="#00b4ff" stroke-width="2" stroke-linejoin="round"/>
<path d="M316.8 784.1 A3.3 2.9 0 1 0 323.4 784.1 A3.3 2.9 0 1 0 316.8 784.1 Z" fill="#00ff40" stroke="#00ff40" stroke-width="1.2" stroke-linejoin="round"/>
<path d="M316.8 784.1 A3.3 2.9 0 1 0 323.4 784.1 A3.3 2.9 0 1 0 316.8 784.1 Z" fill="#e8ff00" stroke="#e8ff00" stroke-width="0.6" stroke-linejoin="round"/>
<path d="M316.8 784.1 A3.3 2.9 0 1 0 323.4 784.1 A3.3 2.9 0 1 0 316.8 784.1 Z" fill="#ff0000"/>
</g>
<g filter="url(#bsoft)">
<ellipse cx="360.8" cy="785" rx="3.6" ry="2.6" fill="#6e00ff"/>
</g>
<g filter="url(#bsoft)">
<path d="M417.8 780.4 A3.4 3.6 0 1 0 424.6 780.4 A3.4 3.6 0 1 0 417.8 780.4 Z" fill="#6e00ff" stroke="#6e00ff" stroke-width="2.6" stroke-linejoin="round"/>
<path d="M417.8 780.4 A3.4 3.6 0 1 0 424.6 780.4 A3.4 3.6 0 1 0 417.8 780.4 Z" fill="#0a00ff" stroke="#0a00ff" stroke-width="3.2" stroke-linejoin="round"/>
<path d="M417.8 780.4 A3.4 3.6 0 1 0 424.6 780.4 A3.4 3.6 0 1 0 417.8 780.4 Z" fill="#00b4ff" stroke="#00b4ff" stroke-width="2.4" stroke-linejoin="round"/>
<path d="M417.8 780.4 A3.4 3.6 0 1 0 424.6 780.4 A3.4 3.6 0 1 0 417.8 780.4 Z" fill="#00ff40" stroke="#00ff40" stroke-width="1.6" stroke-linejoin="round"/>
<path d="M417.8 780.4 A3.4 3.6 0 1 0 424.6 780.4 A3.4 3.6 0 1 0 417.8 780.4 Z" fill="#e8ff00" stroke="#e8ff00" stroke-width="0.8" stroke-linejoin="round"/>
<path d="M417.8 780.4 A3.4 3.6 0 1 0 424.6 780.4 A3.4 3.6 0 1 0 417.8 780.4 Z" fill="#ff0000"/>
</g>
<g filter="url(#bsoft)">
<ellipse cx="417.3" cy="823.4" rx="1.6" ry="1.6" fill="#6e00ff"/>
</g>
<path d="M508.3 773.9 C509.57 774.18,510.97 775.82,512 777 C513.03 778.18,513.95 779.68,514.5 781 C515.05 782.32,515.08 783.67,515.3 784.9 C515.52 786.13,516.18 787.22,515.8 788.4 C515.42 789.58,513.88 790.98,513 792 C512.12 793.02,511.93 794.23,510.5 794.5 C509.07 794.77,506.15 794.35,504.4 793.6 C502.65 792.85,501.47 791.17,500 790 C498.53 788.83,495.88 787.45,495.6 786.6 C495.32 785.75,497.27 786.07,498.3 784.9 C499.33 783.73,500.78 781.2,501.8 779.6 C502.82 778,503.32 776.25,504.4 775.3 C505.48 774.35,507.03 773.62,508.3 773.9 Z" fill="#6e00ff" filter="url(#bsoft)"/>
<g filter="url(#bsoft)">
<path d="M504.8 783.4 A3.1 3.3 0 1 0 511 783.4 A3.1 3.3 0 1 0 504.8 783.4 Z" fill="#0a00ff" stroke="#0a00ff" stroke-width="4.6" stroke-linejoin="round"/>
<path d="M504.8 783.4 A3.1 3.3 0 1 0 511 783.4 A3.1 3.3 0 1 0 504.8 783.4 Z" fill="#00b4ff" stroke="#00b4ff" stroke-width="3.2" stroke-linejoin="round"/>
<path d="M504.8 783.4 A3.1 3.3 0 1 0 511 783.4 A3.1 3.3 0 1 0 504.8 783.4 Z" fill="#00ff40" stroke="#00ff40" stroke-width="2" stroke-linejoin="round"/>
<path d="M504.8 783.4 A3.1 3.3 0 1 0 511 783.4 A3.1 3.3 0 1 0 504.8 783.4 Z" fill="#e8ff00" stroke="#e8ff00" stroke-width="1" stroke-linejoin="round"/>
<path d="M504.8 783.4 A3.1 3.3 0 1 0 511 783.4 A3.1 3.3 0 1 0 504.8 783.4 Z" fill="#ff0000"/>
</g>
<path d="M534.2 776.1 C535.42 775.68,536.92 777.12,538 778 C539.08 778.88,540.32 779.97,540.7 781.4 C541.08 782.83,541.08 785.5,540.3 786.6 C539.52 787.7,537.17 787.7,536 788 C534.83 788.3,534.18 787.02,533.3 788.4 C532.42 789.78,531.43 794.25,530.7 796.3 C529.97 798.35,529.93 800.85,528.9 800.7 C527.87 800.55,525.37 796.72,524.5 795.4 C523.63 794.08,522.97 794.12,523.7 792.8 C524.43 791.48,527.73 789.55,528.9 787.5 C530.07 785.45,529.82 782.4,530.7 780.5 C531.58 778.6,532.98 776.52,534.2 776.1 Z" fill="#6e00ff" filter="url(#bsoft)"/>
<path d="M534.7 783.1 A2.5 2.5 0 1 0 539.7 783.1 A2.5 2.5 0 1 0 534.7 783.1 Z" fill="#3a00ff" filter="url(#bsoft)"/>
<g filter="url(#bsoft)">
<ellipse cx="564" cy="783.3" rx="4.5" ry="4.6" fill="#6e00ff"/>
<ellipse cx="564" cy="783.3" rx="1.57" ry="1.61" fill="#0a00ff"/>
</g>
<g filter="url(#bsoft)">
<ellipse cx="589.6" cy="781.1" rx="4.5" ry="4.4" fill="#6e00ff"/>
<ellipse cx="589.6" cy="781.1" rx="1.57" ry="1.54" fill="#0a00ff"/>
</g>
<g filter="url(#bsoft)">
<ellipse cx="618.1" cy="786.6" rx="5" ry="6" fill="#6e00ff"/>
<ellipse cx="618.1" cy="786.6" rx="1.75" ry="2.1" fill="#0a00ff"/>
</g>
<g fill="#fff">
<rect x="211.1" y="598" width="2.5" height="260"/>
<rect x="337" y="598" width="2.4" height="260"/>
<rect x="489.8" y="598" width="3.4" height="260"/>
<rect x="58" y="684" width="580" height="3"/>
<rect x="58" y="768.4" width="580" height="3.6"/>
<rect x="634" y="598" width="6" height="260"/>
<rect x="58" y="854" width="580" height="6"/>
</g>
<defs><linearGradient id="cb" x1="0" y1="1" x2="0" y2="0">
<stop offset="0" stop-color="#8000ff"/>
<stop offset="0.1" stop-color="#3000ff"/>
<stop offset="0.2" stop-color="#0000ff"/>
<stop offset="0.3" stop-color="#0090ff"/>
<stop offset="0.38" stop-color="#00e8ff"/>
<stop offset="0.5" stop-color="#00ff80"/>
<stop offset="0.6" stop-color="#00ff00"/>
<stop offset="0.7" stop-color="#a0ff00"/>
<stop offset="0.8" stop-color="#ffff00"/>
<stop offset="0.9" stop-color="#ff8000"/>
<stop offset="1" stop-color="#ff0000"/>
</linearGradient></defs>
<rect x="644.2" y="595.8" width="7.4" height="256" fill="url(#cb)" stroke="#555" stroke-width="0.6"/>
<line x1="651.6" y1="595.8" x2="657.4" y2="595.8" stroke="#222" stroke-width="1"/>
<line x1="651.6" y1="606.04" x2="655" y2="606.04" stroke="#222" stroke-width="1"/>
<line x1="651.6" y1="616.28" x2="655" y2="616.28" stroke="#222" stroke-width="1"/>
<line x1="651.6" y1="626.52" x2="655" y2="626.52" stroke="#222" stroke-width="1"/>
<line x1="651.6" y1="636.76" x2="655" y2="636.76" stroke="#222" stroke-width="1"/>
<line x1="651.6" y1="647" x2="657.4" y2="647" stroke="#222" stroke-width="1"/>
<line x1="651.6" y1="657.24" x2="655" y2="657.24" stroke="#222" stroke-width="1"/>
<line x1="651.6" y1="667.48" x2="655" y2="667.48" stroke="#222" stroke-width="1"/>
<line x1="651.6" y1="677.72" x2="655" y2="677.72" stroke="#222" stroke-width="1"/>
<line x1="651.6" y1="687.96" x2="655" y2="687.96" stroke="#222" stroke-width="1"/>
<line x1="651.6" y1="698.2" x2="657.4" y2="698.2" stroke="#222" stroke-width="1"/>
<line x1="651.6" y1="708.44" x2="655" y2="708.44" stroke="#222" stroke-width="1"/>
<line x1="651.6" y1="718.68" x2="655" y2="718.68" stroke="#222" stroke-width="1"/>
<line x1="651.6" y1="728.92" x2="655" y2="728.92" stroke="#222" stroke-width="1"/>
<line x1="651.6" y1="739.16" x2="655" y2="739.16" stroke="#222" stroke-width="1"/>
<line x1="651.6" y1="749.4" x2="657.4" y2="749.4" stroke="#222" stroke-width="1"/>
<line x1="651.6" y1="759.64" x2="655" y2="759.64" stroke="#222" stroke-width="1"/>
<line x1="651.6" y1="769.88" x2="655" y2="769.88" stroke="#222" stroke-width="1"/>
<line x1="651.6" y1="780.12" x2="655" y2="780.12" stroke="#222" stroke-width="1"/>
<line x1="651.6" y1="790.36" x2="655" y2="790.36" stroke="#222" stroke-width="1"/>
<line x1="651.6" y1="800.6" x2="657.4" y2="800.6" stroke="#222" stroke-width="1"/>
<line x1="651.6" y1="810.84" x2="655" y2="810.84" stroke="#222" stroke-width="1"/>
<line x1="651.6" y1="821.08" x2="655" y2="821.08" stroke="#222" stroke-width="1"/>
<line x1="651.6" y1="831.32" x2="655" y2="831.32" stroke="#222" stroke-width="1"/>
<line x1="651.6" y1="841.56" x2="655" y2="841.56" stroke="#222" stroke-width="1"/>
<line x1="651.6" y1="851.8" x2="657.4" y2="851.8" stroke="#222" stroke-width="1"/>
<text x="657.5" y="601" font-size="11.2">5000</text>
<text x="657.5" y="652.2" font-size="11.2">4000</text>
<text x="657.5" y="703.4" font-size="11.2">3000</text>
<text x="657.5" y="754.6" font-size="11.2">2000</text>
<text x="657.5" y="805.8" font-size="11.2">1000</text>
<text x="662.2" y="868.3" font-size="11.2" font-weight="bold" text-anchor="middle">Counts</text>
</svg>
</body></html>
